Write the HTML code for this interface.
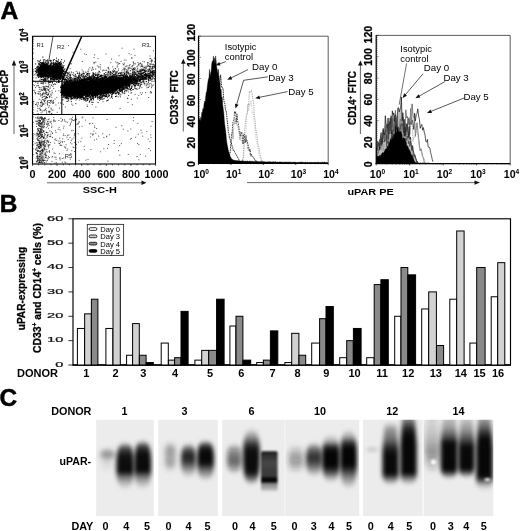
<!DOCTYPE html>
<html lang="en"><head><meta charset="utf-8"><title>uPAR expression figure</title>
<style>html,body{margin:0;padding:0;background:#fff}svg{display:block}text{font-family:'Liberation Sans', Arial, Helvetica, sans-serif}</style>
</head><body>
<svg width="520" height="531" viewBox="0 0 520 531" font-family='"Liberation Sans", Arial, Helvetica, sans-serif'>
<defs>
<filter id="b1" x="-50%" y="-50%" width="200%" height="200%"><feGaussianBlur stdDeviation="1.9"/></filter>
<filter id="b2" x="-50%" y="-50%" width="200%" height="200%"><feGaussianBlur stdDeviation="2.6"/></filter>
<filter id="b3" x="-50%" y="-50%" width="200%" height="200%"><feGaussianBlur stdDeviation="3.6"/></filter>
<filter id="b0" x="-50%" y="-50%" width="200%" height="200%"><feGaussianBlur stdDeviation="0.9"/></filter>
<filter id="soft" x="-5%" y="-5%" width="110%" height="110%"><feGaussianBlur stdDeviation="0.35"/></filter>
</defs>
<rect x="0" y="0" width="520" height="531" fill="#fff"/>
<text x="0.60" y="18.80" font-size="24.4" font-weight="bold" text-anchor="start" fill="#000" stroke="#000" stroke-width=".5" textLength="17.8" lengthAdjust="spacingAndGlyphs">A</text>
<clipPath id="csc"><rect x="32.5" y="36.3" width="123.0" height="127.7"/></clipPath>
<g clip-path="url(#csc)">
<path d="M62.0 86.8 L64.0 84.3 L66.0 83.7 L68.0 83.3 L70.0 83.1 L72.0 82.9 L74.0 82.7 L76.0 82.6 L78.0 82.4 L80.0 82.2 L82.0 82.0 L84.0 81.8 L86.0 81.6 L88.0 81.5 L90.0 81.3 L92.0 81.1 L94.0 80.9 L96.0 80.8 L98.0 80.6 L100.0 80.5 L102.0 80.3 L104.0 80.2 L106.0 80.1 L108.0 79.9 L110.0 79.8 L112.0 79.7 L114.0 79.8 L116.0 79.9 L118.0 80.0 L120.0 80.1 L122.0 80.1 L124.0 80.1 L126.0 80.0 L128.0 79.8 L130.0 79.5 L132.0 79.2 L132.0 82.4 L130.0 83.0 L128.0 83.7 L126.0 84.5 L124.0 85.3 L122.0 86.0 L120.0 86.8 L118.0 87.6 L116.0 88.4 L114.0 89.3 L112.0 90.1 L110.0 90.8 L108.0 91.2 L106.0 91.5 L104.0 91.8 L102.0 92.2 L100.0 92.6 L98.0 92.9 L96.0 93.2 L94.0 93.4 L92.0 93.5 L90.0 93.7 L88.0 93.8 L86.0 94.0 L84.0 94.1 L82.0 94.3 L80.0 94.4 L78.0 94.4 L76.0 94.4 L74.0 94.4 L72.0 94.4 L70.0 94.4 L68.0 94.4 L66.0 94.2 L64.0 93.8 L62.0 91.8Z" fill="#000" filter="url(#b0)"/>
<ellipse cx="43.5" cy="70.5" rx="5.3" ry="6.3" fill="#000" filter="url(#b0)"/>
<ellipse cx="56.5" cy="71.5" rx="5.6" ry="6.9" fill="#000" filter="url(#b0)"/><ellipse cx="50" cy="72" rx="5" ry="5" fill="#000" filter="url(#b0)"/>
<g filter="url(#soft)"><path d="M42.7 72.5h1M42.8 69.3h1M40.5 69.7h1M47.1 72.2h1M46.8 71.5h1M44.8 71.2h1M38.2 73.8h1M45.1 72.4h1M38.1 63.7h1M40.7 68.7h1M44.5 70.3h1M45.2 68.0h1M44.5 72.0h1M41.4 77.2h1M45.3 75.2h1M41.5 67.6h1M42.4 70.1h1M45.5 71.5h1M42.1 66.8h1M41.8 75.3h1M40.9 71.5h1M44.9 64.7h1M43.7 75.6h1M37.1 69.2h1M43.2 67.3h1M45.1 70.3h1M38.8 73.7h1M45.6 74.2h1M48.1 71.9h1M43.9 65.4h1M45.5 68.1h1M42.1 65.6h1M40.4 68.4h1M47.6 62.6h1M38.8 71.4h1M48.1 72.8h1M37.4 60.7h1M44.6 67.6h1M39.9 74.3h1M47.0 71.1h1M44.3 72.2h1M48.6 72.9h1M45.2 72.6h1M38.5 75.5h1M46.6 72.6h1M37.2 68.0h1M46.2 63.4h1M42.9 74.5h1M39.3 76.8h1M45.3 69.9h1M44.5 73.0h1M43.9 75.0h1M41.4 68.9h1M46.8 70.6h1M40.7 74.2h1M48.2 68.8h1M39.1 70.0h1M43.0 69.3h1M48.0 66.5h1M47.5 65.6h1M41.0 73.0h1M47.1 73.9h1M44.6 71.1h1M44.0 72.7h1M42.9 71.6h1M45.3 70.5h1M45.9 72.7h1M49.9 71.8h1M42.1 69.0h1M43.5 74.1h1M42.4 72.0h1M49.4 60.5h1M39.9 71.5h1M44.8 71.4h1M42.1 73.1h1M44.4 68.5h1M51.3 71.9h1M41.7 70.1h1M42.8 70.3h1M34.8 68.6h1M46.7 65.9h1M43.3 74.2h1M46.2 76.3h1M38.1 69.1h1M42.4 72.9h1M47.0 60.0h1M47.0 64.9h1M45.7 64.7h1M44.1 75.2h1M43.0 71.2h1M46.1 71.1h1M43.2 76.5h1M46.9 69.4h1M52.3 66.0h1M46.4 69.5h1M43.9 73.2h1M44.2 73.0h1M38.6 64.6h1M45.5 66.7h1M40.2 64.8h1M47.6 73.4h1M48.2 66.8h1M43.5 66.1h1M46.0 76.7h1M40.7 76.6h1M46.7 69.8h1M37.2 76.0h1M43.2 68.1h1M44.8 72.1h1M48.3 66.5h1M47.1 76.3h1M48.1 69.8h1M41.1 74.5h1M43.9 71.0h1M48.1 69.5h1M36.2 69.0h1M37.6 73.7h1M44.5 68.1h1M43.5 73.7h1M43.8 75.7h1M43.3 74.6h1M48.3 76.8h1M41.4 73.9h1M37.5 66.3h1M37.2 74.7h1M39.6 70.5h1M42.9 70.4h1M41.6 71.4h1M49.2 70.7h1M45.2 74.4h1M42.9 65.6h1M41.7 74.7h1M38.2 68.2h1M46.7 73.6h1M43.5 73.6h1M44.0 65.9h1M38.5 68.0h1M46.5 68.3h1M40.6 67.5h1M38.6 70.0h1M39.7 71.9h1M35.9 71.8h1M41.4 62.9h1M45.8 69.4h1M36.4 67.1h1M44.4 68.7h1M46.0 73.4h1M45.6 71.8h1M47.8 73.1h1M44.9 62.4h1M46.4 75.6h1M42.5 68.7h1M49.7 63.6h1M45.0 80.0h1M40.5 73.2h1M49.5 70.0h1M45.3 74.0h1M40.6 70.2h1M44.4 73.7h1M43.4 69.7h1M40.2 69.1h1M46.4 70.9h1M40.8 67.2h1M52.0 74.9h1M45.5 60.4h1M45.5 72.4h1M48.9 72.2h1M43.3 72.5h1M37.3 74.5h1M44.5 67.8h1M47.7 77.6h1M39.0 67.9h1M44.4 71.2h1M42.2 66.7h1M50.3 74.5h1M39.7 65.3h1M49.0 74.4h1M49.3 73.7h1M40.7 71.5h1M36.6 67.6h1M43.3 72.5h1M41.2 70.0h1M45.0 72.0h1M45.5 71.3h1M42.5 73.6h1M43.7 67.3h1M41.5 70.5h1M43.1 71.1h1M43.5 71.2h1M43.1 65.6h1M44.8 74.6h1M44.9 69.8h1M44.9 66.7h1M37.4 70.7h1M40.5 73.4h1M40.0 60.2h1M40.2 76.7h1M42.3 65.2h1M41.1 72.5h1M45.1 71.2h1M48.2 73.3h1M43.4 72.8h1M48.8 74.3h1M46.8 66.3h1M43.0 73.3h1M42.6 74.7h1M45.4 74.0h1M42.8 80.4h1M47.5 69.7h1M43.8 80.6h1M42.4 73.9h1M46.6 70.5h1M39.8 71.2h1M44.7 74.9h1M46.0 70.6h1M46.2 72.6h1M44.2 70.7h1M42.7 73.2h1M40.1 68.0h1M43.5 64.8h1M42.1 62.7h1M41.3 72.7h1M45.3 70.3h1M42.8 65.0h1M49.3 72.5h1M47.0 67.1h1M42.9 63.4h1M46.0 74.1h1M37.4 70.3h1M45.5 63.6h1M37.7 66.3h1M41.5 65.0h1M43.6 71.5h1M45.5 73.2h1M48.3 75.0h1M39.3 68.5h1M40.1 66.3h1M43.2 70.5h1M45.1 64.3h1M39.5 70.4h1M42.9 69.3h1M43.3 67.5h1M45.7 71.9h1M43.2 67.9h1M42.9 59.9h1M40.4 70.6h1M38.7 71.3h1M44.0 65.1h1M42.7 69.3h1M45.0 72.9h1M43.4 67.2h1M43.0 70.2h1M45.9 71.6h1M41.2 65.2h1M42.3 67.6h1M39.9 70.0h1M41.9 70.9h1M45.2 68.9h1M50.9 69.2h1M47.0 71.0h1M47.1 61.2h1M41.1 71.5h1M45.4 79.6h1M44.5 75.5h1M46.0 74.2h1M45.1 69.9h1M45.1 66.3h1M47.3 66.5h1M44.3 78.8h1M42.8 70.6h1M47.2 70.6h1M40.9 71.5h1M45.4 73.3h1M41.0 77.3h1M48.8 70.6h1M44.4 68.8h1M48.0 67.8h1M45.7 68.6h1M41.3 73.3h1M47.8 70.5h1M41.3 73.7h1M43.3 71.7h1M48.4 74.9h1M41.8 79.4h1M43.5 73.6h1M41.4 70.3h1M37.9 77.5h1M47.9 65.8h1M38.7 64.2h1M47.3 68.7h1M43.3 69.3h1M43.1 66.3h1M43.6 64.9h1M43.3 71.7h1M45.0 69.6h1M40.6 71.1h1M41.9 76.6h1M46.0 70.1h1M42.0 67.8h1M40.5 69.1h1M44.4 72.5h1M45.3 78.7h1M41.2 70.6h1M52.4 63.2h1M41.8 71.2h1M44.0 72.1h1M42.7 71.9h1M43.7 73.5h1M37.4 67.0h1M43.5 66.5h1M40.2 72.9h1M41.4 73.0h1M45.9 71.7h1M45.1 70.1h1M39.0 70.4h1M45.0 68.4h1M43.2 73.4h1M40.7 73.0h1M49.5 68.3h1M44.0 69.9h1M48.4 71.7h1M46.4 67.8h1M43.4 70.5h1M37.8 76.1h1M46.4 63.7h1M45.9 70.0h1M44.9 71.9h1M38.7 69.7h1M48.3 68.3h1M40.2 65.2h1M39.6 71.8h1M48.9 72.2h1M44.3 79.2h1M41.8 67.9h1M45.2 72.6h1M40.3 65.9h1M44.4 71.5h1M39.3 69.7h1M41.8 72.3h1M43.1 70.2h1M42.4 74.6h1M48.0 69.1h1M46.2 67.5h1M43.7 73.4h1M48.3 69.0h1M43.3 71.3h1M38.7 70.6h1M41.3 71.9h1M39.9 62.8h1M43.6 71.5h1M41.7 74.0h1M42.6 68.1h1M45.0 64.4h1M41.3 70.4h1M46.2 69.9h1M44.5 67.9h1M44.5 77.0h1M41.3 79.7h1M41.4 70.6h1M44.1 74.5h1M39.5 62.3h1M45.4 73.6h1M45.5 80.8h1M44.2 71.5h1M46.5 71.9h1M48.8 65.7h1M42.3 57.1h1M46.1 69.0h1M46.5 78.9h1M43.5 69.5h1M41.9 67.2h1M41.5 73.0h1M43.6 70.8h1M42.9 74.1h1M45.1 69.9h1M45.6 69.9h1M39.8 76.2h1M45.0 66.8h1M47.0 71.8h1M38.5 76.8h1M44.6 74.0h1M44.1 69.9h1M38.5 74.3h1M43.6 69.4h1M44.6 70.8h1M45.7 69.1h1M43.4 62.2h1M42.1 73.1h1M47.8 69.1h1M43.1 76.7h1M42.5 73.4h1M48.9 70.7h1M47.4 67.7h1M44.2 70.2h1M43.9 74.9h1M51.1 67.9h1M41.7 72.4h1M40.1 72.4h1M45.3 69.4h1M45.2 64.5h1M45.9 64.5h1M41.3 68.3h1M42.2 73.8h1M43.8 68.9h1M45.2 76.7h1M43.5 71.9h1M47.5 71.5h1M39.4 80.2h1M50.6 62.8h1M43.4 72.1h1M46.6 73.1h1M42.6 66.4h1M43.8 74.5h1M40.0 66.5h1M43.4 62.9h1M42.7 68.8h1M44.9 67.8h1M40.7 69.0h1M43.3 67.9h1M43.5 73.4h1M47.3 77.1h1M41.0 68.9h1M35.6 77.9h1M41.2 70.4h1M45.2 65.2h1M45.0 70.4h1M37.7 71.6h1M47.3 63.2h1M46.1 71.3h1M45.0 72.2h1M47.7 69.6h1M46.3 68.9h1M45.8 67.3h1M43.2 77.3h1M44.9 69.9h1M39.8 67.4h1M44.1 74.2h1M44.9 72.5h1M43.4 75.8h1M42.2 68.4h1M46.3 70.7h1M42.6 68.3h1M42.7 72.9h1M44.6 65.8h1M44.9 71.2h1M40.3 73.5h1M42.6 69.2h1M46.0 75.7h1M41.3 72.2h1M40.7 79.5h1M41.9 75.2h1M41.4 73.7h1M50.6 60.6h1M42.1 72.5h1M43.2 67.9h1M50.4 70.8h1M38.2 73.8h1M38.0 75.0h1M41.7 71.1h1M47.5 71.0h1M39.0 63.9h1M47.3 73.4h1M40.9 73.9h1M45.1 73.0h1M36.3 69.3h1M46.4 73.4h1M46.3 60.9h1M44.0 72.4h1M51.7 66.8h1M42.4 70.6h1M46.3 68.8h1M47.2 67.4h1M44.4 68.4h1M44.0 67.8h1M38.4 74.8h1M44.5 68.3h1M44.1 74.4h1M40.4 70.1h1M45.2 72.6h1M42.4 62.3h1M47.5 71.8h1M43.5 69.4h1M44.3 68.8h1M40.2 67.6h1M41.6 68.1h1M39.8 73.0h1M39.3 73.1h1M40.3 71.9h1M47.9 71.3h1M41.2 70.7h1M44.0 63.7h1M41.6 71.1h1M42.0 70.8h1M45.8 73.5h1M46.4 72.8h1M42.6 70.4h1M42.6 69.3h1M42.9 63.8h1M42.4 70.4h1M40.4 70.4h1M45.1 69.9h1M50.1 60.3h1M42.8 63.4h1M46.6 80.9h1M35.5 71.0h1M45.2 69.3h1M45.3 61.8h1M46.2 72.0h1M43.6 68.2h1M45.5 68.6h1M44.2 68.5h1M36.3 70.4h1M44.1 73.4h1M40.7 70.4h1M45.5 71.1h1M47.5 78.3h1M40.6 63.0h1M46.2 76.5h1M46.5 73.7h1M41.5 67.7h1M46.3 66.9h1M37.7 66.6h1M51.5 78.0h1M41.3 67.7h1M44.2 67.6h1M47.7 70.2h1M40.0 75.6h1M41.6 71.4h1M43.5 69.3h1M44.5 67.8h1M37.6 61.9h1M39.4 67.5h1M43.4 70.7h1M45.3 71.0h1M41.0 67.7h1M36.7 69.8h1M45.1 72.6h1M43.1 69.8h1M46.5 70.6h1M45.9 72.8h1M44.2 75.6h1M41.7 69.1h1M40.9 67.4h1M48.5 77.4h1M43.6 72.7h1M47.3 73.6h1M47.4 65.6h1M41.5 72.3h1M48.1 70.9h1M40.8 69.1h1M41.4 67.2h1M48.3 68.1h1M43.6 78.9h1M47.3 71.8h1M41.5 72.1h1M48.7 72.9h1M47.5 70.9h1M45.2 69.7h1M44.9 75.6h1M38.9 70.3h1M44.3 68.3h1M42.5 73.6h1M49.9 73.0h1M44.5 64.4h1M49.7 70.8h1M43.4 66.1h1M43.3 66.2h1M43.7 72.3h1M43.6 71.6h1M40.8 76.1h1M41.4 63.4h1M42.9 67.5h1M40.3 69.1h1M44.4 65.9h1M43.1 76.1h1M45.7 69.9h1M43.9 70.0h1M43.3 73.4h1M43.2 61.1h1M43.4 67.0h1M45.6 68.1h1M44.0 79.0h1M40.1 66.1h1M39.0 61.2h1M37.5 71.9h1M41.5 63.2h1M38.8 72.9h1M41.0 69.1h1M44.6 75.8h1M49.7 74.5h1M44.0 71.2h1M49.3 76.1h1M42.5 72.3h1M44.4 70.7h1M41.9 65.3h1M41.8 64.5h1M47.4 72.6h1M39.6 75.9h1M46.4 63.1h1M49.4 73.7h1M50.1 65.7h1M45.2 72.2h1M44.1 71.2h1M46.9 64.7h1M39.5 65.1h1M41.7 68.1h1M44.7 71.5h1M43.6 67.9h1M42.1 74.2h1M45.9 70.9h1M42.5 76.6h1M41.6 73.0h1M47.2 69.5h1M46.1 66.1h1M46.7 71.3h1M38.4 73.1h1M40.6 75.5h1M41.3 69.9h1M44.4 69.2h1M44.3 68.3h1M45.6 70.5h1M44.2 59.8h1M47.2 70.6h1M37.8 70.9h1M45.0 74.7h1M40.0 76.5h1M43.0 79.8h1M43.0 73.2h1M42.3 66.1h1M47.0 74.0h1M48.4 73.8h1M41.7 64.0h1M41.4 67.9h1M40.9 72.8h1M44.5 69.4h1M44.1 69.9h1M44.2 73.4h1M46.6 67.8h1M38.7 76.1h1M43.9 74.8h1M38.2 69.2h1M43.6 64.9h1M41.8 73.3h1M47.0 76.7h1M40.7 65.0h1M45.2 74.2h1M44.1 65.4h1M46.0 73.6h1M45.3 68.6h1M44.5 73.6h1M41.7 63.3h1M44.6 72.4h1M43.5 74.0h1M41.6 70.2h1M42.5 72.7h1M48.6 69.5h1M50.1 76.5h1M46.0 72.8h1M49.2 69.8h1M43.1 66.4h1M45.0 75.7h1M45.2 72.2h1M42.9 71.2h1M38.9 74.6h1M42.2 66.2h1M41.1 67.3h1M46.2 74.6h1M39.2 74.1h1M46.3 68.2h1M38.7 67.6h1M41.5 71.8h1M42.4 62.6h1M44.2 64.5h1M46.4 65.8h1M41.3 67.2h1M41.8 75.6h1M46.2 72.8h1M44.5 64.5h1M41.8 68.3h1M40.4 72.5h1M41.1 67.7h1M40.2 62.5h1M45.4 75.7h1M44.1 66.7h1M34.8 71.2h1M47.4 71.7h1M46.5 76.3h1M47.1 68.8h1M46.9 73.5h1M38.6 68.9h1M38.9 70.1h1M45.4 66.3h1M36.9 75.6h1M44.7 76.2h1M39.3 74.6h1M50.1 78.3h1M42.8 71.5h1M43.0 74.4h1M46.8 70.8h1M39.2 73.4h1M54.9 74.2h1M57.4 78.5h1M60.5 69.6h1M57.7 79.1h1M54.6 73.4h1M60.7 76.9h1M58.3 65.8h1M52.1 72.6h1M57.9 82.5h1M53.5 76.4h1M59.2 64.3h1M53.6 72.2h1M54.8 70.8h1M58.1 68.0h1M58.1 68.8h1M54.6 73.8h1M54.5 72.7h1M62.1 71.6h1M56.0 74.7h1M55.2 76.2h1M52.0 74.2h1M54.7 68.1h1M62.7 67.8h1M62.6 74.3h1M61.6 67.3h1M60.7 77.8h1M56.1 70.9h1M65.1 72.3h1M55.0 68.8h1M58.1 72.9h1M57.1 78.9h1M55.4 73.5h1M61.6 67.2h1M60.1 79.4h1M51.8 66.8h1M52.9 63.6h1M58.1 63.5h1M58.2 77.7h1M50.8 70.1h1M49.8 74.9h1M53.9 70.4h1M56.7 73.8h1M55.3 71.6h1M54.6 72.0h1M52.4 71.8h1M49.7 69.4h1M63.2 71.8h1M52.1 72.6h1M53.1 64.4h1M53.9 74.7h1M57.8 71.1h1M53.3 66.9h1M61.2 72.6h1M53.2 62.4h1M51.7 82.1h1M52.5 71.2h1M57.2 70.8h1M55.5 65.6h1M52.8 78.8h1M53.9 75.1h1M50.6 70.3h1M57.4 76.0h1M52.6 74.1h1M57.9 68.3h1M58.2 67.6h1M53.7 71.4h1M47.0 71.0h1M53.0 65.2h1M55.0 74.8h1M55.1 76.9h1M52.4 65.9h1M61.9 73.2h1M59.8 67.9h1M59.3 72.6h1M58.8 71.6h1M60.7 68.7h1M53.1 65.1h1M60.6 68.3h1M52.8 67.5h1M54.9 66.0h1M55.5 68.8h1M54.6 67.4h1M56.6 69.5h1M56.9 72.6h1M57.7 62.1h1M54.6 68.1h1M59.2 64.7h1M54.0 70.2h1M55.3 75.8h1M55.0 75.6h1M51.4 63.7h1M60.8 73.4h1M58.2 72.0h1M58.2 66.3h1M59.8 69.2h1M59.9 71.9h1M49.6 66.0h1M60.4 70.9h1M55.1 72.5h1M55.0 69.2h1M56.9 72.1h1M61.8 71.7h1M63.1 79.3h1M62.5 76.1h1M57.0 72.1h1M56.0 68.4h1M56.3 68.7h1M62.2 73.8h1M54.9 63.3h1M56.3 69.7h1M52.7 66.6h1M48.6 73.9h1M56.3 82.6h1M56.4 70.9h1M61.6 72.1h1M57.1 69.9h1M54.4 77.9h1M60.0 78.9h1M55.3 71.6h1M53.4 75.7h1M51.6 73.9h1M60.3 77.6h1M53.2 76.2h1M54.0 68.2h1M51.9 76.5h1M62.3 68.9h1M53.8 70.0h1M65.3 75.8h1M54.6 63.8h1M54.1 76.6h1M63.0 70.4h1M54.1 69.3h1M49.9 75.4h1M52.7 76.1h1M50.5 66.0h1M57.5 68.2h1M59.2 71.5h1M52.4 74.2h1M59.4 63.3h1M62.9 73.6h1M59.2 63.5h1M54.0 70.0h1M60.3 65.2h1M53.4 62.8h1M55.7 73.0h1M50.6 69.0h1M58.3 78.3h1M58.8 70.2h1M52.4 67.5h1M54.2 72.1h1M56.3 78.7h1M57.5 66.9h1M61.9 75.6h1M56.9 68.4h1M50.0 67.1h1M59.7 68.0h1M51.9 72.3h1M57.4 74.1h1M58.8 77.6h1M53.6 75.7h1M53.0 74.5h1M57.1 72.5h1M59.9 71.4h1M60.4 75.3h1M57.0 69.1h1M53.9 69.2h1M55.8 71.4h1M66.9 74.2h1M59.2 67.8h1M54.0 70.1h1M57.2 67.0h1M62.1 69.1h1M60.3 61.5h1M56.5 72.7h1M57.2 74.1h1M57.5 72.2h1M49.9 68.4h1M48.3 74.2h1M57.6 70.7h1M53.6 69.0h1M63.0 78.9h1M56.3 77.0h1M50.9 63.2h1M54.8 67.7h1M54.5 72.3h1M67.1 68.7h1M56.7 72.7h1M56.4 75.5h1M62.7 66.2h1M57.1 70.4h1M57.7 64.9h1M50.3 61.5h1M58.3 72.3h1M56.8 61.3h1M55.2 68.3h1M51.6 67.6h1M58.9 73.8h1M56.4 73.7h1M54.4 71.8h1M56.6 73.9h1M56.3 70.9h1M56.0 68.7h1M64.3 73.7h1M58.0 81.4h1M61.4 64.8h1M58.9 75.1h1M63.1 77.2h1M59.2 66.4h1M53.5 72.7h1M58.3 67.1h1M55.2 69.8h1M56.7 72.9h1M55.5 66.2h1M60.8 78.4h1M56.1 75.9h1M58.1 74.3h1M58.2 68.2h1M58.5 75.8h1M53.4 80.0h1M63.8 79.3h1M63.5 74.7h1M55.3 68.9h1M53.7 72.0h1M56.4 74.4h1M49.4 81.4h1M64.5 71.4h1M58.9 73.5h1M57.5 70.6h1M56.1 68.0h1M57.1 71.4h1M57.6 67.8h1M56.6 71.7h1M58.6 66.9h1M58.0 75.7h1M58.6 69.9h1M54.8 70.5h1M59.1 78.2h1M55.9 68.7h1M57.8 72.4h1M53.3 68.3h1M56.1 74.4h1M52.3 67.1h1M58.2 66.2h1M56.9 73.0h1M56.1 67.1h1M56.3 70.1h1M57.7 67.9h1M60.3 64.3h1M55.9 71.5h1M59.9 68.9h1M58.4 69.1h1M59.1 79.0h1M55.1 73.4h1M53.3 75.7h1M60.7 71.7h1M52.5 73.2h1M60.5 76.2h1M59.3 63.6h1M54.1 77.6h1M52.2 76.4h1M63.1 74.8h1M60.4 70.1h1M52.2 71.1h1M55.8 71.3h1M58.9 70.9h1M57.2 73.3h1M56.5 79.4h1M58.0 71.9h1M55.8 68.8h1M61.2 72.1h1M52.7 69.1h1M56.0 69.6h1M60.3 66.5h1M58.2 72.1h1M52.4 71.7h1M56.2 73.7h1M54.9 72.8h1M50.7 66.8h1M59.2 76.0h1M56.5 68.9h1M60.3 62.5h1M53.7 74.4h1M58.8 67.1h1M49.9 77.7h1M57.0 67.6h1M56.7 75.4h1M47.4 76.3h1M59.1 62.6h1M59.2 63.8h1M60.5 73.2h1M64.4 68.9h1M56.5 76.0h1M54.3 68.5h1M55.2 71.2h1M52.7 73.6h1M58.4 71.8h1M62.5 70.1h1M61.1 69.1h1M59.1 63.2h1M57.2 70.7h1M54.8 68.9h1M55.3 68.4h1M48.8 68.9h1M54.6 69.2h1M52.8 70.9h1M59.2 70.4h1M54.8 77.3h1M59.9 75.5h1M60.5 70.1h1M56.0 76.3h1M54.6 71.0h1M57.8 73.1h1M55.5 75.7h1M55.9 74.6h1M60.2 74.3h1M59.1 66.5h1M51.9 68.8h1M58.2 78.0h1M52.2 72.8h1M53.5 68.4h1M55.5 74.5h1M57.2 76.6h1M53.1 75.3h1M59.8 71.8h1M58.2 69.1h1M52.7 69.8h1M54.3 83.9h1M54.8 78.6h1M57.2 72.8h1M59.1 68.2h1M59.7 73.1h1M51.2 74.1h1M58.4 73.4h1M62.0 69.7h1M58.3 74.7h1M53.3 76.7h1M51.4 65.9h1M58.3 66.8h1M56.1 64.4h1M56.7 66.6h1M57.7 64.9h1M58.1 70.4h1M56.7 71.2h1M57.0 65.8h1M47.5 71.6h1M53.2 69.5h1M58.0 63.0h1M53.8 68.9h1M52.8 72.9h1M56.0 68.0h1M53.1 75.0h1M54.2 74.0h1M58.1 63.4h1M52.7 71.5h1M57.7 74.9h1M59.3 75.9h1M55.2 70.6h1M59.2 69.7h1M60.2 64.7h1M58.8 70.8h1M49.6 75.7h1M57.6 71.6h1M52.7 69.5h1M61.8 67.9h1M44.3 67.8h1M52.3 70.9h1M55.1 67.6h1M53.6 76.0h1M51.5 79.9h1M54.6 66.8h1M59.3 73.9h1M52.9 74.7h1M50.1 67.5h1M60.4 70.4h1M51.9 73.7h1M59.7 71.4h1M50.2 70.0h1M58.0 74.8h1M63.0 70.4h1M54.8 71.3h1M60.7 67.5h1M61.1 59.7h1M59.3 68.6h1M58.1 74.5h1M52.4 71.1h1M57.3 74.0h1M53.2 67.2h1M49.8 82.4h1M55.8 70.5h1M51.3 75.5h1M54.6 77.7h1M59.5 71.6h1M59.0 66.7h1M55.4 69.0h1M52.1 71.6h1M56.0 77.7h1M44.8 68.6h1M53.3 69.5h1M58.0 73.2h1M56.6 69.5h1M58.2 73.0h1M50.1 70.4h1M51.7 66.4h1M57.0 71.8h1M56.9 67.7h1M55.8 67.6h1M57.8 74.5h1M62.6 76.9h1M53.7 69.5h1M53.2 72.8h1M63.4 74.5h1M48.8 66.1h1M52.0 73.7h1M56.5 72.8h1M62.7 67.9h1M53.5 80.0h1M57.7 68.2h1M49.4 64.9h1M47.9 71.8h1M56.7 75.8h1M56.0 68.5h1M53.9 79.7h1M50.3 72.2h1M56.6 74.2h1M55.1 73.6h1M59.4 70.9h1M54.9 70.7h1M53.1 70.6h1M55.4 72.4h1M61.2 77.1h1M54.9 74.1h1M57.5 74.8h1M56.6 72.6h1M54.9 68.1h1M59.6 77.1h1M58.8 73.4h1M57.4 69.6h1M50.3 74.4h1M57.2 69.1h1M53.1 77.0h1M50.2 79.1h1M58.7 81.7h1M54.0 71.4h1M54.7 72.2h1M55.8 68.3h1M60.3 68.1h1M54.7 73.9h1M54.6 69.6h1M57.7 69.9h1M52.1 71.1h1M55.7 78.8h1M52.7 75.7h1M53.7 70.0h1M55.4 72.7h1M59.5 79.0h1M54.3 77.2h1M60.0 75.0h1M53.8 75.4h1M56.1 73.0h1M55.6 74.4h1M60.4 76.4h1M55.8 75.8h1M61.6 67.5h1M61.7 65.8h1M58.4 74.1h1M61.7 72.7h1M54.8 68.1h1M52.1 74.8h1M55.7 68.4h1M58.4 68.2h1M55.0 69.5h1M62.3 77.8h1M55.9 64.7h1M57.5 71.8h1M57.7 73.9h1M55.4 75.5h1M59.4 72.4h1M55.1 69.4h1M58.9 66.8h1M55.9 68.3h1M51.6 74.1h1M56.4 71.7h1M59.6 65.1h1M56.3 72.7h1M59.4 66.8h1M59.0 72.4h1M61.2 76.4h1M58.4 80.7h1M56.5 69.7h1M55.3 67.5h1M56.4 63.4h1M56.2 73.3h1M60.0 70.0h1M61.4 68.7h1M56.0 63.4h1M53.8 68.1h1M61.6 73.7h1M52.7 73.7h1M58.1 70.5h1M56.6 70.2h1M54.6 64.1h1M56.2 76.9h1M61.4 70.3h1M53.9 70.6h1M59.6 73.0h1M54.5 73.0h1M55.8 73.7h1M55.1 65.3h1M56.7 74.7h1M52.7 71.0h1M59.5 69.9h1M54.3 80.0h1M59.3 75.8h1M53.3 78.3h1M50.9 69.3h1M59.0 77.1h1M53.3 68.7h1M57.2 63.4h1M58.7 73.8h1M55.0 73.7h1M59.1 72.8h1M58.3 77.8h1M54.9 72.2h1M54.7 75.8h1M55.1 73.5h1M57.0 71.8h1M62.3 71.1h1M61.3 74.9h1M61.0 70.8h1M59.6 74.6h1M54.4 72.6h1M56.1 71.4h1M60.9 68.5h1M50.8 64.3h1M55.0 68.8h1M56.5 73.8h1M62.4 72.8h1M58.1 68.5h1M58.5 77.1h1M61.0 63.4h1M59.5 78.1h1M59.3 65.3h1M55.5 73.9h1M57.9 68.1h1M53.5 75.5h1M52.0 77.4h1M56.6 72.7h1M52.0 69.0h1M58.8 65.4h1M63.5 65.7h1M52.4 71.7h1M58.1 74.5h1M55.3 70.6h1M55.7 69.1h1M47.8 75.5h1M57.3 72.2h1M54.4 72.5h1M56.5 71.2h1M60.2 64.4h1M57.3 67.1h1M55.4 77.7h1M52.9 71.1h1M54.5 75.4h1M53.2 64.5h1M58.2 70.0h1M55.4 76.0h1M53.5 70.0h1M57.0 73.2h1M54.8 75.8h1M64.0 69.8h1M62.8 62.8h1M61.2 70.1h1M57.0 70.1h1M54.4 66.2h1M55.2 76.9h1M60.3 70.1h1M54.7 68.6h1M52.5 78.9h1M58.7 72.0h1M54.8 67.3h1M60.9 74.7h1M53.3 75.6h1M52.8 74.2h1M53.3 69.8h1M58.2 73.3h1M59.9 68.0h1M61.8 77.1h1M56.5 73.4h1M53.9 70.9h1M52.1 71.9h1M57.2 77.0h1M59.7 74.9h1M55.3 70.6h1M55.4 72.4h1M50.0 74.7h1M51.2 69.4h1M56.6 69.4h1M62.1 71.1h1M61.8 76.3h1M54.8 73.2h1M60.9 70.1h1M56.8 69.2h1M56.7 70.0h1M56.8 75.6h1M61.2 72.0h1M57.2 75.0h1M55.5 67.1h1M60.2 67.6h1M59.6 67.5h1M62.7 67.2h1M59.4 77.7h1M53.3 77.6h1M53.7 64.2h1M58.9 74.4h1M55.8 61.1h1M56.3 70.2h1M55.2 70.3h1M50.5 69.2h1M62.5 77.9h1M55.3 68.6h1M57.8 75.9h1M58.9 66.7h1M57.0 72.1h1M61.3 76.4h1M58.3 76.5h1M55.2 77.8h1M55.1 73.1h1M59.6 67.7h1M54.1 64.2h1M57.1 71.3h1M55.4 73.6h1M49.4 71.4h1M56.8 70.4h1M59.2 78.7h1M55.0 67.6h1M54.5 71.9h1M58.5 67.9h1M59.9 67.3h1M59.3 73.3h1M58.1 80.4h1M55.6 70.8h1M58.1 75.1h1M52.0 72.6h1M54.0 74.1h1M61.1 71.7h1M56.1 72.3h1M46.6 74.7h1M58.4 72.2h1M55.2 68.5h1M55.9 76.5h1M56.2 77.1h1M47.9 69.6h1M57.4 71.4h1M50.9 68.8h1M60.7 66.2h1M53.2 67.0h1M54.6 74.2h1M58.5 63.1h1M61.4 69.1h1M54.5 78.4h1M56.2 66.4h1M54.4 68.5h1M53.1 70.1h1M59.4 72.9h1M51.9 83.0h1M53.2 72.0h1M56.6 74.6h1M55.4 73.4h1M63.6 71.9h1M52.9 72.9h1M53.8 70.0h1M57.1 72.9h1M55.5 75.0h1M55.9 66.1h1M59.4 70.0h1M60.6 68.8h1M58.4 72.8h1M47.4 65.3h1M52.7 77.3h1M50.2 75.3h1M60.2 73.5h1M58.8 69.5h1M56.5 72.4h1M57.9 74.4h1M55.8 68.6h1M54.6 73.2h1M50.9 66.3h1M55.1 69.2h1M55.6 60.5h1M55.4 70.5h1M59.1 63.3h1M55.5 73.5h1M58.1 76.4h1M60.0 67.2h1M58.6 70.1h1M53.8 77.8h1M54.4 68.0h1M55.1 68.0h1M59.9 73.1h1M61.2 73.2h1M54.4 75.8h1M54.3 69.6h1M55.9 71.7h1M60.5 69.0h1M57.7 71.4h1M52.3 67.0h1M55.8 73.2h1M57.6 73.5h1M56.7 69.6h1M57.9 67.3h1M52.0 70.1h1M51.7 69.4h1M54.0 69.2h1M56.3 68.2h1M55.1 64.4h1M57.0 67.9h1M57.9 59.8h1M53.8 72.5h1M48.3 70.0h1M56.8 71.9h1M51.5 72.5h1M57.0 67.5h1M59.0 71.3h1M56.6 69.6h1M58.3 71.9h1M60.3 73.4h1M54.4 70.6h1M59.6 70.0h1M57.8 73.7h1M55.9 61.8h1M56.9 72.4h1M57.0 68.3h1M60.6 70.9h1M54.4 68.5h1M57.7 67.0h1M53.1 79.8h1M60.9 75.9h1M61.1 74.0h1M50.8 76.5h1M60.7 73.5h1M49.9 76.7h1M61.1 69.5h1M56.9 74.7h1M56.2 76.1h1M56.8 74.4h1M56.8 65.3h1M53.1 84.7h1M57.4 77.0h1M60.4 78.6h1M58.4 69.0h1M56.6 63.5h1M55.9 75.3h1M49.2 72.3h1M59.3 77.0h1M53.4 68.8h1M50.1 67.2h1M58.3 80.1h1M52.6 77.3h1M58.0 69.4h1M64.0 61.0h1M56.3 72.4h1M63.7 79.0h1M64.2 72.1h1M59.8 77.2h1M58.2 73.0h1M55.9 69.8h1M52.3 79.6h1M55.0 62.8h1M57.4 71.4h1M57.1 79.1h1M56.1 70.4h1M54.0 71.4h1M55.0 72.4h1M67.1 73.1h1M53.6 79.6h1M59.4 74.9h1M58.9 74.9h1M58.8 77.4h1M59.9 77.1h1M54.8 71.5h1M54.0 75.5h1M59.3 69.6h1M58.5 82.5h1M60.7 66.8h1M56.2 74.2h1M56.4 73.1h1M60.5 72.9h1M52.8 74.5h1M56.2 72.0h1M54.6 65.7h1M52.3 70.0h1M52.9 60.1h1M60.4 66.6h1M54.0 73.7h1M48.3 77.1h1M53.9 74.3h1M54.9 72.8h1M56.9 71.5h1M50.3 65.3h1M56.4 77.4h1M46.3 74.1h1M51.1 73.9h1M56.8 64.2h1M51.9 70.6h1M47.9 67.3h1M44.6 66.5h1M42.5 83.7h1M61.6 71.5h1M55.1 66.7h1M51.0 78.5h1M49.7 66.6h1M48.4 66.6h1M40.5 70.4h1M47.3 67.5h1M44.0 67.0h1M51.6 78.3h1M48.6 82.4h1M39.0 72.8h1M42.1 70.7h1M50.7 74.2h1M57.7 68.8h1M41.5 70.6h1M52.0 68.1h1M56.1 79.7h1M40.3 73.3h1M56.9 62.1h1M51.4 70.4h1M40.3 77.9h1M51.5 69.2h1M53.0 74.6h1M55.2 74.3h1M52.8 65.8h1M47.1 72.1h1M47.4 66.4h1M37.6 72.7h1M50.2 68.7h1M47.2 67.2h1M44.9 71.0h1M45.6 74.8h1M49.0 72.1h1M52.8 77.7h1M54.1 72.6h1M48.9 67.6h1M47.7 74.8h1M51.5 69.6h1M40.9 64.0h1M52.2 76.5h1M52.6 64.8h1M48.5 72.6h1M43.7 73.2h1M48.6 67.4h1M41.5 75.5h1M52.4 67.2h1M43.1 75.8h1M54.1 70.0h1M60.9 70.1h1M42.8 76.8h1M48.7 73.2h1M50.3 66.6h1M41.9 70.6h1M59.6 66.6h1M59.3 72.6h1M42.4 72.8h1M53.9 67.1h1M35.5 73.2h1M42.4 73.6h1M37.0 70.8h1M44.5 64.3h1M48.4 72.3h1M46.2 65.8h1M51.4 63.0h1M53.6 73.9h1M61.4 75.8h1M52.4 72.8h1M50.2 65.1h1M60.0 74.1h1M48.1 65.9h1M60.1 74.1h1M41.9 74.8h1M62.9 71.4h1M52.7 69.5h1M45.7 76.7h1M70.9 72.1h1M49.2 75.4h1M47.9 75.0h1M55.6 66.6h1M42.7 71.1h1M55.7 72.8h1M58.4 64.8h1M53.4 68.5h1M50.7 73.1h1M43.4 70.4h1M42.1 72.8h1M44.2 69.1h1M51.5 68.3h1M57.8 68.4h1M55.8 72.9h1M43.0 70.4h1M44.3 69.7h1M48.2 80.3h1M47.2 79.1h1M53.0 65.2h1M34.3 74.8h1M36.5 75.0h1M57.0 73.4h1M48.6 70.3h1M51.8 70.0h1M46.4 69.7h1M57.9 68.5h1M52.6 65.9h1M45.2 64.8h1M48.7 74.8h1M52.1 69.1h1M54.1 69.8h1M52.5 72.8h1M53.7 59.5h1M41.2 75.2h1M49.3 82.4h1M48.4 68.8h1M60.1 74.2h1M62.9 74.0h1M48.6 75.0h1M44.7 69.3h1M46.2 70.4h1M55.3 69.2h1M52.2 69.1h1M56.0 58.2h1M48.6 72.3h1M42.7 76.4h1M51.5 77.7h1M56.5 74.6h1M49.0 66.2h1M48.5 69.3h1M51.7 69.3h1M70.7 63.8h1M57.9 69.2h1M48.4 76.0h1M50.0 65.6h1M52.8 70.6h1M36.1 72.5h1M42.9 67.9h1M53.3 72.9h1M48.0 82.0h1M52.8 68.5h1M51.6 70.9h1M35.1 63.9h1M40.6 81.5h1M48.8 70.2h1M46.2 76.2h1M50.2 79.7h1M55.3 79.4h1M49.2 73.3h1M47.1 70.7h1M38.3 68.7h1M43.6 68.4h1M58.2 72.8h1M58.3 75.6h1M56.2 76.3h1M45.9 75.4h1M47.8 68.9h1M58.1 81.9h1M43.4 79.9h1M55.6 67.4h1M51.8 73.3h1M52.5 69.8h1M41.3 71.7h1M55.8 75.3h1M54.5 76.8h1M43.3 71.3h1M52.3 76.3h1M51.1 74.0h1M50.9 81.6h1M35.3 71.4h1M66.7 72.6h1M37.6 72.1h1M40.3 68.2h1M51.5 79.8h1M53.1 74.7h1M56.9 72.5h1M44.2 71.0h1M52.3 70.2h1M45.5 69.8h1M39.9 66.6h1M49.4 69.8h1M50.3 78.3h1M52.0 71.3h1M42.1 66.3h1M52.5 67.3h1M52.9 66.3h1M50.9 71.1h1M56.7 69.6h1M47.5 72.7h1M50.4 79.6h1M48.3 68.9h1M47.8 73.8h1M51.6 74.8h1M40.7 83.4h1M62.4 71.3h1M41.9 72.2h1M52.8 60.8h1M50.1 64.4h1M53.1 78.1h1M57.0 64.3h1M59.3 75.9h1M47.6 73.9h1M60.2 69.9h1M49.9 68.8h1M57.8 61.1h1M59.6 66.8h1M56.2 63.7h1M43.7 68.6h1M55.6 63.7h1M54.1 68.4h1M58.4 70.0h1M53.3 70.7h1M62.1 69.8h1M49.8 81.0h1M50.5 74.8h1M104.4 75.9h1M98.0 87.3h1M99.4 81.3h1M92.9 79.5h1M61.6 90.6h1M118.7 79.9h1M92.5 81.5h1M120.1 89.2h1M68.5 87.4h1M71.7 84.0h1M64.0 90.3h1M81.7 91.7h1M98.3 92.3h1M111.1 83.7h1M77.0 80.1h1M84.3 90.5h1M69.8 92.3h1M96.5 82.4h1M67.4 78.5h1M95.1 91.4h1M121.3 77.7h1M95.3 86.0h1M65.5 86.8h1M103.4 80.6h1M132.7 79.8h1M74.0 90.8h1M115.9 79.0h1M122.2 86.8h1M112.8 90.8h1M96.9 85.9h1M86.9 79.5h1M73.6 84.6h1M131.6 80.4h1M88.9 89.1h1M78.2 91.4h1M91.1 86.3h1M70.5 85.2h1M79.8 91.3h1M103.7 80.8h1M90.5 80.9h1M114.2 84.6h1M95.2 83.1h1M111.3 82.8h1M134.8 78.2h1M94.3 86.8h1M66.8 92.2h1M100.0 89.7h1M93.1 90.0h1M78.0 82.7h1M73.0 87.5h1M66.4 80.6h1M99.2 86.5h1M86.6 90.0h1M74.7 79.8h1M72.7 86.8h1M86.7 81.2h1M86.5 88.1h1M127.8 83.3h1M73.5 93.3h1M70.7 90.5h1M121.1 80.9h1M81.1 93.8h1M80.3 90.5h1M62.8 85.2h1M101.1 81.1h1M116.7 79.4h1M109.7 86.7h1M106.4 79.1h1M93.1 89.4h1M99.1 89.4h1M110.1 92.0h1M79.2 89.6h1M114.3 87.6h1M66.1 97.3h1M85.6 88.7h1M75.9 92.5h1M64.3 88.9h1M94.5 89.0h1M69.9 84.1h1M74.9 74.4h1M106.2 88.3h1M72.4 83.6h1M80.3 86.0h1M73.0 90.0h1M96.8 93.3h1M105.0 90.3h1M66.9 85.4h1M107.0 86.6h1M70.1 92.0h1M72.2 82.8h1M102.6 87.9h1M130.3 77.8h1M83.3 88.9h1M73.8 87.2h1M83.1 87.0h1M82.2 90.3h1M63.7 82.4h1M63.7 89.6h1M81.3 99.5h1M74.9 88.6h1M78.1 86.1h1M75.8 95.1h1M108.7 90.3h1M67.5 85.4h1M98.5 85.6h1M132.3 83.6h1M104.4 78.5h1M123.1 81.3h1M94.2 88.2h1M142.3 76.2h1M134.0 82.4h1M134.6 81.6h1M110.5 86.2h1M99.5 80.1h1M129.5 75.3h1M101.8 91.1h1M102.8 96.3h1M84.5 85.4h1M69.2 92.0h1M84.2 91.5h1M91.9 87.8h1M70.2 86.3h1M95.6 93.5h1M111.5 75.2h1M99.5 83.8h1M68.7 86.6h1M61.3 95.8h1M77.1 85.6h1M84.1 81.0h1M80.3 95.1h1M89.5 85.9h1M66.5 87.4h1M70.9 90.6h1M86.5 88.8h1M89.4 89.6h1M130.6 83.9h1M140.7 77.4h1M125.1 84.8h1M124.1 82.8h1M73.9 93.1h1M81.7 87.6h1M72.6 83.8h1M73.4 94.2h1M84.4 85.6h1M84.1 87.6h1M87.7 88.0h1M78.8 84.9h1M97.3 83.3h1M144.4 74.6h1M82.8 85.8h1M104.6 86.8h1M69.1 86.1h1M82.4 88.5h1M71.5 85.4h1M66.9 92.7h1M143.2 81.3h1M83.3 86.0h1M68.1 93.2h1M130.9 79.3h1M103.9 87.9h1M95.0 94.2h1M77.5 85.1h1M62.4 85.9h1M82.7 82.4h1M74.1 84.4h1M82.0 89.8h1M81.0 87.0h1M102.6 89.0h1M99.0 94.2h1M82.6 76.2h1M120.3 82.7h1M81.9 86.0h1M93.3 91.8h1M62.2 92.6h1M85.0 95.8h1M114.5 86.4h1M71.7 91.3h1M74.5 82.4h1M146.0 76.3h1M82.7 83.4h1M99.7 83.8h1M70.1 87.8h1M100.7 90.3h1M71.3 85.4h1M67.4 84.0h1M115.3 83.2h1M82.9 84.5h1M110.8 91.6h1M120.6 86.1h1M122.8 89.1h1M82.6 85.9h1M99.7 89.4h1M72.4 86.7h1M80.8 90.8h1M99.4 87.2h1M67.5 94.3h1M94.5 84.8h1M102.4 85.3h1M125.6 82.4h1M95.9 88.0h1M79.0 79.2h1M89.2 90.5h1M117.1 79.1h1M66.8 92.0h1M85.7 94.6h1M92.5 94.9h1M91.1 83.6h1M65.3 89.4h1M75.8 83.3h1M85.5 82.5h1M107.7 90.8h1M65.0 86.8h1M129.6 83.2h1M69.1 81.1h1M78.6 91.2h1M82.4 79.9h1M73.4 86.7h1M121.5 82.3h1M85.1 80.1h1M81.4 86.6h1M79.8 86.3h1M75.3 85.4h1M90.6 93.8h1M68.6 90.9h1M109.8 93.5h1M104.8 82.0h1M71.6 84.4h1M135.2 79.6h1M66.8 85.6h1M124.8 82.8h1M90.9 85.4h1M96.1 78.7h1M120.0 78.2h1M87.0 89.7h1M72.5 85.8h1M66.6 86.4h1M68.3 98.4h1M65.0 94.7h1M134.5 81.2h1M75.9 89.6h1M76.8 84.6h1M72.0 90.6h1M85.2 96.2h1M105.9 79.6h1M118.6 77.7h1M131.2 82.1h1M78.8 95.3h1M92.9 92.9h1M84.8 90.7h1M76.8 88.3h1M93.1 79.2h1M85.8 92.3h1M96.3 85.2h1M82.0 89.8h1M99.8 92.7h1M83.7 82.6h1M123.6 83.8h1M112.3 82.9h1M64.7 84.9h1M92.9 85.6h1M80.8 88.2h1M91.7 89.6h1M66.9 88.8h1M104.8 82.9h1M90.1 91.9h1M90.2 84.0h1M115.6 77.7h1M110.3 80.9h1M100.4 84.8h1M95.1 84.1h1M72.1 94.7h1M101.9 87.7h1M101.6 77.6h1M81.6 86.8h1M102.0 83.5h1M79.6 77.4h1M91.9 89.8h1M108.5 90.7h1M73.9 94.6h1M95.1 87.1h1M80.1 77.8h1M114.3 84.4h1M101.1 86.2h1M100.8 90.3h1M105.4 90.0h1M83.0 88.2h1M110.1 77.7h1M79.6 81.9h1M86.4 89.2h1M68.4 88.2h1M73.8 78.2h1M92.6 74.0h1M83.8 90.7h1M120.0 86.8h1M75.7 91.2h1M90.6 89.1h1M77.8 76.4h1M105.7 90.4h1M117.4 84.7h1M99.1 88.3h1M101.2 84.6h1M74.8 84.2h1M115.5 88.1h1M94.4 80.6h1M102.0 79.7h1M74.1 86.3h1M93.0 82.4h1M77.7 86.9h1M62.6 85.2h1M95.3 87.8h1M93.9 93.6h1M106.3 83.0h1M97.6 87.7h1M95.9 83.2h1M95.2 83.2h1M92.2 86.3h1M75.5 91.6h1M65.8 89.3h1M74.2 92.0h1M68.7 90.1h1M102.1 86.1h1M97.4 77.1h1M63.7 89.7h1M70.9 89.4h1M77.5 82.5h1M95.0 75.4h1M102.1 86.2h1M128.5 84.1h1M77.5 83.8h1M65.7 94.4h1M126.0 76.5h1M115.8 86.9h1M92.7 96.5h1M73.8 85.4h1M97.2 95.8h1M100.2 86.7h1M99.7 97.3h1M119.7 81.1h1M96.5 94.2h1M90.9 82.4h1M85.4 93.2h1M107.4 93.1h1M149.5 80.2h1M74.5 85.2h1M116.9 85.6h1M135.4 79.4h1M86.8 91.4h1M69.5 85.3h1M130.0 79.7h1M95.9 83.7h1M101.4 89.2h1M104.3 78.7h1M98.9 84.2h1M132.7 80.9h1M125.9 86.6h1M131.8 80.5h1M121.8 83.1h1M63.2 95.9h1M68.4 89.8h1M105.1 85.1h1M93.3 88.3h1M139.0 80.6h1M78.0 86.9h1M69.5 91.1h1M104.9 96.1h1M75.6 86.0h1M113.7 85.7h1M105.6 88.0h1M86.0 79.9h1M117.2 81.7h1M73.6 93.1h1M113.1 83.9h1M62.8 91.3h1M95.1 89.9h1M95.0 83.0h1M83.7 100.3h1M66.2 86.2h1M109.2 84.4h1M129.2 84.9h1M115.1 85.7h1M100.3 78.9h1M61.3 86.4h1M77.4 97.4h1M85.9 94.6h1M110.0 89.7h1M127.7 81.1h1M70.7 88.4h1M95.3 89.9h1M123.4 82.1h1M94.8 80.8h1M84.7 89.4h1M75.5 90.8h1M115.7 79.9h1M61.5 91.4h1M101.0 86.5h1M69.0 85.5h1M97.6 87.1h1M103.9 82.7h1M77.5 92.2h1M68.6 90.8h1M101.1 75.2h1M83.7 87.1h1M89.6 94.1h1M101.6 82.3h1M64.4 92.3h1M75.2 82.9h1M65.7 88.0h1M109.5 87.1h1M124.1 82.9h1M81.6 87.9h1M79.2 82.4h1M92.5 72.6h1M125.1 78.1h1M101.8 90.5h1M66.8 98.7h1M69.7 88.2h1M107.4 83.1h1M105.9 81.1h1M106.9 82.9h1M64.4 83.5h1M137.7 78.9h1M93.8 88.7h1M95.6 84.7h1M102.5 99.1h1M68.9 93.0h1M75.1 83.5h1M129.5 77.7h1M60.4 92.2h1M94.3 91.5h1M79.1 88.2h1M106.8 81.9h1M117.0 87.4h1M86.9 82.6h1M124.4 82.5h1M111.6 85.8h1M84.1 80.3h1M109.6 84.2h1M106.8 90.1h1M80.7 85.6h1M94.9 90.4h1M131.1 81.6h1M86.5 96.4h1M95.0 93.0h1M92.7 85.8h1M107.3 85.0h1M102.6 91.6h1M90.5 88.6h1M87.3 90.4h1M101.4 87.0h1M71.6 84.3h1M102.6 83.2h1M62.0 87.9h1M96.8 81.1h1M92.3 93.4h1M120.6 88.9h1M119.3 84.3h1M79.4 91.3h1M116.8 82.5h1M91.2 84.1h1M118.4 88.7h1M71.9 86.9h1M95.2 91.9h1M71.3 89.3h1M83.6 97.7h1M96.6 89.5h1M86.1 79.2h1M65.3 89.8h1M113.2 90.5h1M137.6 79.1h1M102.7 94.0h1M68.8 88.9h1M69.1 89.1h1M95.8 82.9h1M109.5 85.2h1M96.1 89.6h1M94.7 97.0h1M119.6 83.2h1M71.1 90.6h1M111.6 81.1h1M92.8 95.7h1M99.0 82.9h1M103.3 80.2h1M82.6 79.1h1M96.4 89.5h1M62.8 94.4h1M105.8 84.1h1M76.8 87.2h1M122.5 80.3h1M119.5 80.2h1M113.4 84.4h1M106.9 88.3h1M115.4 86.9h1M102.9 79.0h1M95.3 83.7h1M123.3 82.1h1M102.7 85.4h1M62.5 90.5h1M120.5 83.9h1M75.5 86.6h1M131.0 88.5h1M68.9 83.0h1M79.1 86.2h1M87.3 89.5h1M81.7 84.9h1M109.5 92.7h1M94.6 88.5h1M93.7 84.4h1M110.9 81.4h1M109.2 87.7h1M94.3 94.7h1M69.2 85.4h1M96.6 82.6h1M81.1 97.0h1M84.6 88.0h1M113.6 83.1h1M102.4 84.5h1M69.8 86.2h1M81.5 88.0h1M97.6 89.4h1M78.4 94.2h1M112.2 76.8h1M79.3 88.1h1M112.2 85.6h1M130.5 78.3h1M115.6 81.0h1M66.3 92.5h1M127.1 76.7h1M69.8 86.5h1M144.4 77.4h1M84.5 90.0h1M107.5 84.1h1M96.0 92.3h1M130.1 81.3h1M91.9 88.0h1M63.6 81.8h1M98.1 92.7h1M67.1 84.2h1M102.4 85.8h1M77.3 92.2h1M104.8 83.0h1M83.8 89.3h1M95.8 85.5h1M72.7 84.0h1M79.8 84.3h1M62.1 85.3h1M91.5 86.0h1M125.0 84.1h1M71.2 98.4h1M95.8 91.9h1M98.3 84.6h1M110.7 86.3h1M102.2 90.3h1M98.1 85.9h1M87.0 92.9h1M102.7 87.5h1M86.8 82.6h1M83.1 87.4h1M100.4 76.4h1M89.4 91.3h1M128.9 83.0h1M89.2 86.5h1M61.9 91.9h1M61.5 91.9h1M81.6 90.9h1M110.2 86.8h1M84.4 88.8h1M132.0 79.9h1M69.7 86.7h1M108.2 79.9h1M102.4 82.8h1M86.7 85.6h1M68.3 85.6h1M71.1 88.8h1M108.9 82.2h1M84.9 91.5h1M119.4 89.1h1M67.7 88.8h1M77.0 86.1h1M104.9 83.9h1M69.3 92.8h1M64.2 91.7h1M101.2 83.8h1M123.1 77.3h1M115.2 88.1h1M90.3 98.7h1M76.5 85.5h1M92.6 85.8h1M75.0 90.0h1M91.9 96.9h1M89.4 86.9h1M102.2 86.7h1M96.4 90.4h1M84.5 87.1h1M69.7 84.1h1M83.9 85.1h1M72.1 95.8h1M75.0 89.5h1M85.8 90.6h1M115.0 90.4h1M69.9 85.9h1M103.2 75.7h1M70.7 90.0h1M72.4 85.4h1M107.8 100.0h1M103.2 81.2h1M121.3 85.5h1M67.4 88.4h1M100.0 78.5h1M83.1 93.0h1M107.7 82.3h1M91.3 82.7h1M92.6 88.7h1M101.0 87.3h1M116.3 81.8h1M120.2 85.4h1M112.6 80.5h1M69.9 89.0h1M71.2 97.9h1M133.6 73.3h1M86.8 92.6h1M84.0 78.7h1M96.8 87.4h1M92.2 80.4h1M120.5 84.5h1M145.0 77.3h1M83.1 86.9h1M82.0 81.5h1M91.6 86.1h1M110.1 80.8h1M77.0 95.5h1M61.8 81.8h1M75.8 89.0h1M98.5 88.3h1M92.0 86.5h1M73.0 86.8h1M71.8 82.9h1M109.2 88.9h1M81.0 80.0h1M140.1 79.3h1M90.4 78.9h1M115.0 84.3h1M73.1 94.4h1M71.8 89.1h1M69.5 85.0h1M70.3 90.7h1M67.1 87.1h1M68.9 91.7h1M99.7 88.4h1M63.0 89.5h1M111.6 92.6h1M72.3 87.7h1M131.7 83.5h1M91.6 92.0h1M106.6 80.8h1M103.6 88.4h1M85.1 85.0h1M108.7 88.1h1M97.1 91.3h1M72.0 88.0h1M124.0 74.6h1M110.0 80.6h1M96.3 88.9h1M105.4 93.3h1M79.1 88.1h1M96.4 84.8h1M95.5 92.5h1M116.6 86.1h1M94.0 92.7h1M117.3 92.2h1M101.3 84.1h1M103.3 91.1h1M114.6 86.7h1M93.5 88.2h1M112.1 86.4h1M96.9 87.4h1M66.5 87.2h1M64.3 86.8h1M120.7 80.7h1M78.0 89.6h1M123.4 80.6h1M111.6 83.9h1M69.7 89.8h1M82.5 97.5h1M89.0 82.6h1M145.1 74.2h1M80.2 86.9h1M113.4 83.5h1M105.8 85.9h1M85.1 88.5h1M103.0 79.5h1M124.9 77.9h1M130.7 80.1h1M90.1 91.3h1M76.8 91.0h1M71.3 89.9h1M84.4 89.7h1M86.2 91.5h1M114.4 83.2h1M91.1 77.8h1M90.0 92.0h1M80.6 86.6h1M77.4 90.2h1M116.1 82.5h1M93.3 92.9h1M106.1 92.1h1M119.0 89.6h1M63.3 89.5h1M108.3 91.0h1M78.7 76.1h1M78.2 94.6h1M64.0 90.7h1M111.2 86.7h1M137.1 74.9h1M72.3 82.3h1M98.6 79.6h1M71.4 98.6h1M118.3 85.5h1M90.8 86.8h1M99.8 97.4h1M97.3 89.9h1M105.7 84.0h1M62.4 93.3h1M67.7 86.8h1M118.8 80.0h1M86.7 91.2h1M64.0 87.7h1M80.4 94.1h1M116.6 80.5h1M100.1 91.5h1M70.1 88.9h1M64.1 84.7h1M74.1 88.8h1M137.8 81.8h1M85.8 84.2h1M104.6 77.1h1M109.6 81.4h1M61.6 88.7h1M100.6 88.7h1M89.3 89.3h1M76.3 94.3h1M80.4 86.9h1M110.0 78.1h1M107.9 83.4h1M101.3 85.3h1M101.9 83.2h1M101.4 90.0h1M98.3 82.8h1M83.2 85.5h1M87.7 86.9h1M83.4 89.6h1M105.6 86.7h1M71.1 96.8h1M104.5 92.9h1M66.7 91.5h1M119.8 80.1h1M84.2 85.2h1M130.8 81.5h1M115.6 88.0h1M102.6 89.3h1M92.1 94.5h1M118.8 79.1h1M121.9 85.8h1M63.3 87.1h1M89.7 86.4h1M84.7 86.5h1M75.1 96.7h1M102.5 87.8h1M72.8 91.2h1M92.2 87.6h1M106.1 81.1h1M101.3 86.3h1M111.0 97.1h1M97.0 93.7h1M94.9 94.9h1M104.7 86.7h1M92.6 90.3h1M112.7 83.7h1M66.7 84.4h1M80.5 84.1h1M84.1 86.6h1M87.2 89.9h1M123.4 76.7h1M64.3 88.8h1M101.7 92.1h1M93.1 91.0h1M142.2 77.8h1M123.3 85.1h1M69.8 86.3h1M87.4 99.9h1M64.2 94.8h1M93.9 76.6h1M84.0 92.4h1M109.5 86.9h1M76.9 86.8h1M109.8 78.6h1M64.1 87.1h1M61.8 92.0h1M135.8 83.3h1M88.6 86.7h1M99.6 84.4h1M123.9 84.1h1M99.0 88.8h1M97.4 82.1h1M137.6 78.3h1M92.0 94.7h1M71.4 81.0h1M69.5 86.8h1M112.2 88.8h1M90.8 88.0h1M96.0 79.3h1M74.9 80.2h1M93.0 89.5h1M109.8 88.4h1M113.9 82.0h1M86.6 89.1h1M68.2 85.2h1M153.5 75.6h1M113.7 79.8h1M99.8 95.7h1M70.0 94.2h1M150.3 77.6h1M135.6 80.1h1M111.5 87.9h1M98.6 91.7h1M87.0 89.3h1M89.5 80.2h1M107.2 79.5h1M92.8 95.0h1M64.4 93.5h1M91.2 90.4h1M103.4 93.6h1M114.2 80.2h1M89.9 79.8h1M140.1 85.9h1M72.0 92.1h1M81.5 91.8h1M86.5 83.7h1M117.9 83.2h1M105.0 90.9h1M119.8 84.5h1M107.4 84.6h1M93.9 95.3h1M70.9 83.5h1M91.9 96.6h1M77.1 80.9h1M66.1 84.7h1M96.2 74.8h1M84.6 85.2h1M114.4 76.0h1M84.9 82.5h1M95.6 87.7h1M123.3 88.5h1M149.3 74.8h1M73.9 84.5h1M104.5 96.4h1M111.7 83.1h1M79.3 94.3h1M115.8 85.0h1M78.0 84.1h1M129.2 79.5h1M84.8 94.5h1M76.9 80.9h1M95.4 83.7h1M80.3 89.8h1M127.4 82.5h1M90.6 92.7h1M75.7 87.2h1M69.8 85.0h1M103.9 92.1h1M125.0 86.1h1M72.4 88.9h1M105.8 80.6h1M119.1 85.3h1M91.9 92.4h1M84.0 92.9h1M79.7 88.3h1M63.5 93.1h1M62.6 87.7h1M120.1 81.5h1M85.5 91.6h1M91.1 87.5h1M108.6 83.6h1M138.5 83.4h1M110.8 72.8h1M73.7 94.0h1M121.2 82.3h1M111.6 94.6h1M93.0 99.8h1M70.8 93.9h1M136.8 81.0h1M110.1 85.5h1M91.5 92.5h1M91.5 86.8h1M100.1 87.5h1M90.0 87.0h1M99.6 80.3h1M67.5 88.0h1M64.7 90.9h1M80.0 91.4h1M82.1 82.1h1M98.3 92.6h1M76.7 96.1h1M109.4 83.6h1M106.7 91.1h1M116.0 78.1h1M95.5 82.6h1M72.3 89.8h1M72.7 95.3h1M107.9 85.3h1M79.9 93.1h1M85.2 85.6h1M94.9 91.7h1M79.9 90.2h1M108.6 84.0h1M71.4 83.7h1M96.7 81.9h1M67.4 90.8h1M79.4 92.3h1M97.0 86.5h1M125.3 87.0h1M97.0 87.8h1M73.2 85.8h1M133.0 78.5h1M83.5 87.4h1M67.5 93.8h1M68.5 84.6h1M117.4 85.7h1M114.9 84.7h1M67.8 89.2h1M111.4 90.8h1M101.0 94.0h1M115.1 74.1h1M82.4 89.5h1M107.5 92.6h1M94.7 81.1h1M89.9 88.6h1M106.9 88.0h1M93.8 91.9h1M111.4 85.6h1M87.3 88.4h1M91.0 78.6h1M80.0 88.7h1M98.7 91.8h1M111.8 84.0h1M66.5 84.6h1M87.5 92.7h1M95.8 89.8h1M86.3 85.6h1M80.4 92.8h1M136.9 81.1h1M85.0 86.3h1M75.9 88.5h1M74.6 86.4h1M85.6 88.3h1M64.9 90.5h1M73.3 91.6h1M116.5 81.9h1M90.0 88.0h1M84.9 91.4h1M70.2 80.9h1M78.0 87.5h1M64.6 87.9h1M67.4 93.0h1M129.5 80.8h1M110.0 90.0h1M103.3 89.7h1M71.7 92.1h1M72.1 89.8h1M71.5 93.0h1M61.0 92.3h1M85.6 94.5h1M119.0 88.0h1M71.1 87.7h1M70.4 87.2h1M94.6 83.9h1M95.7 85.2h1M121.9 80.2h1M105.9 83.8h1M90.5 89.8h1M121.1 79.4h1M84.8 84.5h1M94.5 86.4h1M66.9 97.4h1M125.9 83.3h1M102.8 88.6h1M116.8 87.3h1M81.1 95.1h1M105.5 87.1h1M87.3 93.0h1M79.2 86.2h1M109.4 92.1h1M68.5 85.5h1M63.5 91.7h1M64.3 84.6h1M76.0 96.9h1M68.5 84.8h1M74.0 88.4h1M66.2 88.4h1M145.0 75.4h1M92.2 85.9h1M105.0 82.2h1M67.3 83.6h1M107.7 84.8h1M91.7 84.4h1M86.7 87.0h1M75.3 85.2h1M123.8 81.4h1M85.9 100.9h1M89.6 77.5h1M135.4 80.5h1M106.8 82.8h1M127.5 81.6h1M90.1 82.1h1M97.3 84.4h1M62.2 99.9h1M75.3 92.3h1M87.4 83.8h1M84.7 82.5h1M95.1 92.5h1M107.5 80.8h1M145.3 74.1h1M111.9 90.0h1M85.1 85.7h1M109.9 81.8h1M94.8 74.6h1M86.8 87.6h1M65.1 89.9h1M97.7 85.3h1M119.0 89.1h1M91.7 79.6h1M123.5 89.6h1M95.3 92.0h1M121.6 77.5h1M75.3 85.6h1M77.3 84.1h1M66.0 98.0h1M94.8 92.8h1M121.2 74.1h1M86.9 90.8h1M106.4 89.0h1M73.3 93.0h1M64.4 90.9h1M100.9 89.4h1M102.2 81.6h1M87.2 91.2h1M78.5 84.1h1M130.0 80.3h1M125.6 85.0h1M102.0 84.5h1M111.7 82.8h1M104.3 81.8h1M101.6 88.4h1M77.8 90.2h1M124.2 84.8h1M83.8 86.0h1M74.0 85.4h1M101.6 84.6h1M68.9 92.9h1M122.0 81.9h1M96.2 83.2h1M80.4 88.0h1M141.3 84.3h1M120.1 90.9h1M101.2 82.7h1M71.8 87.6h1M88.5 86.0h1M80.3 97.4h1M113.8 88.8h1M110.7 87.6h1M79.7 85.3h1M82.5 96.4h1M63.1 88.1h1M70.9 83.6h1M114.0 83.3h1M93.7 87.1h1M78.1 90.9h1M118.5 80.5h1M79.4 88.1h1M114.8 82.0h1M62.1 86.7h1M110.6 80.2h1M143.2 79.6h1M81.0 83.4h1M67.3 90.2h1M76.8 95.7h1M85.4 99.7h1M92.8 84.9h1M98.3 83.3h1M144.8 74.0h1M69.4 96.7h1M81.8 93.5h1M99.8 75.4h1M109.2 81.9h1M104.8 85.1h1M94.3 84.9h1M69.0 95.4h1M77.8 81.8h1M92.5 86.5h1M89.3 82.2h1M98.0 87.7h1M87.9 93.3h1M66.2 93.7h1M110.2 92.3h1M86.3 89.7h1M82.6 91.8h1M70.9 87.5h1M113.2 83.2h1M77.8 85.9h1M66.1 81.6h1M87.4 92.1h1M86.9 83.2h1M96.4 79.7h1M76.3 87.1h1M75.6 96.5h1M95.6 75.3h1M79.5 88.5h1M133.0 78.6h1M72.0 93.1h1M93.6 90.0h1M114.8 86.1h1M81.4 92.0h1M119.6 84.1h1M140.2 74.6h1M121.3 81.9h1M73.6 84.1h1M132.9 77.7h1M106.3 81.5h1M132.7 78.0h1M117.2 83.8h1M80.0 92.0h1M86.1 84.9h1M121.2 78.9h1M125.1 82.0h1M67.1 91.7h1M145.5 75.2h1M105.2 90.8h1M98.8 71.8h1M109.3 84.8h1M115.6 92.1h1M105.3 85.6h1M84.9 97.1h1M96.1 93.0h1M126.0 80.9h1M70.3 88.8h1M125.8 91.1h1M111.1 88.9h1M93.0 79.6h1M91.5 84.9h1M83.4 87.0h1M61.4 87.8h1M90.6 88.3h1M97.6 86.1h1M90.1 99.8h1M90.6 93.0h1M77.7 83.5h1M142.4 73.5h1M66.1 84.7h1M86.1 83.5h1M112.2 87.7h1M86.7 95.1h1M94.9 93.4h1M66.5 88.2h1M84.6 87.9h1M126.1 84.4h1M68.8 91.6h1M70.0 89.7h1M123.1 82.1h1M139.5 86.6h1M81.5 91.7h1M133.2 84.5h1M74.2 92.3h1M125.2 80.1h1M65.9 89.4h1M117.3 84.1h1M86.9 81.6h1M80.7 78.4h1M129.8 80.4h1M109.3 81.1h1M109.4 83.0h1M71.6 87.0h1M107.6 89.5h1M96.0 89.6h1M96.4 85.6h1M74.0 84.8h1M105.0 88.1h1M134.3 79.9h1M79.5 88.7h1M77.2 93.1h1M99.9 91.7h1M126.5 88.7h1M88.5 89.0h1M127.5 86.8h1M113.2 83.4h1M87.5 90.4h1M117.4 83.7h1M77.4 94.3h1M67.9 90.2h1M76.9 89.4h1M73.6 84.9h1M138.1 80.2h1M64.1 84.4h1M87.1 92.3h1M75.0 82.6h1M63.8 88.8h1M79.1 96.6h1M110.3 90.9h1M110.0 82.4h1M107.5 81.1h1M92.5 85.8h1M81.5 88.0h1M104.3 76.3h1M72.2 88.4h1M97.6 78.2h1M123.4 86.4h1M99.3 90.7h1M73.0 83.2h1M78.4 85.2h1M124.7 76.6h1M68.7 89.5h1M111.8 79.4h1M144.1 79.7h1M109.4 92.3h1M80.3 95.2h1M81.3 85.1h1M101.4 75.5h1M62.2 89.9h1M89.1 85.3h1M111.0 90.1h1M99.3 91.3h1M106.4 87.2h1M77.5 88.4h1M135.4 76.9h1M118.6 82.8h1M102.4 81.8h1M68.7 92.8h1M109.1 88.2h1M97.0 79.4h1M79.4 91.5h1M77.0 88.8h1M131.6 81.9h1M143.0 76.8h1M135.3 83.4h1M77.4 91.3h1M100.6 87.8h1M87.1 89.1h1M83.6 84.5h1M64.1 95.7h1M92.9 73.6h1M111.0 81.9h1M79.2 80.1h1M72.7 89.4h1M66.1 93.0h1M73.1 88.1h1M65.8 89.4h1M116.5 86.9h1M100.9 82.9h1M92.5 92.1h1M93.0 90.5h1M107.7 78.1h1M141.8 78.3h1M107.7 86.3h1M99.4 93.0h1M110.4 89.7h1M145.1 78.4h1M85.9 93.1h1M92.6 90.9h1M90.1 87.9h1M69.9 98.0h1M138.2 73.5h1M106.9 88.1h1M72.7 91.0h1M66.4 89.1h1M80.0 82.8h1M78.6 83.5h1M90.5 84.1h1M152.1 73.1h1M70.0 89.0h1M66.2 94.6h1M81.6 85.2h1M72.1 88.3h1M102.4 89.9h1M101.9 88.0h1M88.9 77.4h1M80.9 84.9h1M92.0 79.4h1M73.6 85.2h1M96.6 88.5h1M111.1 90.8h1M98.5 89.2h1M61.7 93.3h1M110.7 85.8h1M111.0 96.0h1M145.9 78.6h1M71.3 84.4h1M110.8 94.0h1M65.6 83.0h1M93.2 83.9h1M95.8 77.5h1M86.2 88.7h1M98.1 94.4h1M108.8 95.6h1M100.0 81.8h1M68.8 92.7h1M116.9 87.0h1M92.7 87.9h1M76.9 87.6h1M68.1 94.5h1M106.9 89.6h1M123.1 81.6h1M104.1 83.7h1M65.3 91.1h1M88.5 79.2h1M81.8 96.7h1M103.1 81.7h1M66.9 80.8h1M70.9 92.0h1M95.3 91.0h1M100.8 90.9h1M73.6 93.3h1M134.0 79.8h1M91.2 86.7h1M120.2 80.1h1M81.4 96.1h1M101.5 83.5h1M100.9 93.5h1M111.6 90.3h1M94.5 87.4h1M150.4 72.0h1M107.4 91.7h1M106.3 87.5h1M106.1 80.7h1M92.5 82.0h1M96.6 92.2h1M97.0 80.7h1M63.3 91.2h1M150.1 78.5h1M100.9 82.5h1M130.0 77.2h1M95.3 87.1h1M104.4 77.1h1M117.9 76.1h1M125.8 83.1h1M87.2 82.1h1M95.2 84.0h1M100.0 89.8h1M122.3 83.7h1M97.0 76.8h1M81.2 92.4h1M103.4 80.7h1M78.0 84.5h1M77.9 93.3h1M91.5 87.1h1M96.4 82.2h1M116.3 75.8h1M119.8 81.0h1M117.9 80.9h1M72.8 85.3h1M90.1 89.8h1M86.0 88.4h1M88.0 84.7h1M125.0 80.0h1M64.2 88.7h1M64.7 87.0h1M66.4 88.0h1M99.7 83.9h1M68.5 95.9h1M116.7 78.0h1M98.6 85.1h1M93.4 92.0h1M99.0 81.4h1M78.2 95.1h1M87.6 88.0h1M107.2 83.4h1M81.5 86.7h1M104.4 89.9h1M104.6 89.8h1M79.0 91.0h1M89.2 94.7h1M109.9 87.5h1M85.5 86.6h1M107.9 84.7h1M67.5 89.2h1M69.6 86.6h1M105.6 74.8h1M112.0 91.3h1M103.7 83.7h1M84.5 79.2h1M112.7 92.5h1M103.5 87.0h1M65.4 92.0h1M81.3 94.2h1M73.2 83.7h1M105.1 84.6h1M111.2 86.3h1M74.6 89.4h1M76.2 92.5h1M68.2 95.1h1M102.3 88.9h1M84.8 84.0h1M79.8 92.1h1M94.2 85.3h1M70.2 86.0h1M100.8 97.7h1M86.2 89.4h1M87.5 86.5h1M101.6 75.6h1M123.5 79.7h1M78.8 93.9h1M70.3 91.1h1M100.3 86.0h1M77.7 83.3h1M72.1 87.6h1M76.3 86.6h1M89.7 86.5h1M89.5 93.2h1M64.3 88.0h1M122.4 81.5h1M97.6 91.2h1M103.3 79.6h1M118.9 84.6h1M71.4 87.9h1M79.0 87.2h1M127.5 80.0h1M96.1 85.0h1M104.3 88.1h1M106.0 85.3h1M79.3 85.0h1M113.3 86.6h1M83.6 93.1h1M145.3 73.4h1M101.7 87.1h1M70.3 85.1h1M103.8 87.1h1M67.9 89.0h1M90.8 84.1h1M90.8 87.5h1M115.0 79.5h1M73.0 95.4h1M65.3 95.3h1M113.8 87.4h1M95.8 90.1h1M77.5 91.0h1M93.8 85.6h1M69.3 84.1h1M90.7 86.3h1M74.7 83.8h1M83.7 89.3h1M104.4 82.6h1M110.5 86.9h1M64.6 91.9h1M120.2 84.8h1M126.3 78.0h1M92.0 92.5h1M73.1 96.2h1M96.6 93.4h1M98.7 80.0h1M91.8 88.6h1M117.5 82.4h1M97.0 85.7h1M68.4 84.1h1M81.8 82.2h1M65.3 91.4h1M87.9 87.7h1M99.1 82.9h1M128.7 79.1h1M83.0 92.7h1M65.4 86.3h1M97.6 85.3h1M95.3 88.4h1M113.7 83.5h1M99.7 89.7h1M65.8 86.5h1M91.4 77.4h1M75.6 84.2h1M105.3 91.0h1M91.9 91.8h1M88.8 86.6h1M100.1 94.2h1M103.1 87.3h1M104.6 93.6h1M65.2 91.9h1M74.5 87.9h1M105.1 90.4h1M76.6 87.1h1M81.6 86.7h1M95.4 88.9h1M115.7 83.2h1M85.0 78.2h1M66.7 92.0h1M97.9 93.6h1M126.5 83.4h1M100.5 86.0h1M93.5 93.3h1M97.9 93.5h1M105.3 82.7h1M126.0 79.6h1M93.1 86.2h1M120.0 86.1h1M122.9 78.4h1M91.1 88.4h1M97.3 79.5h1M102.2 95.8h1M105.2 88.6h1M62.1 89.3h1M94.4 94.0h1M71.2 91.3h1M102.8 81.6h1M70.0 89.9h1M91.2 86.4h1M115.6 80.7h1M88.7 82.0h1M88.1 96.5h1M86.7 89.5h1M118.6 85.8h1M94.1 81.6h1M105.7 81.8h1M123.4 76.8h1M99.3 90.5h1M92.1 91.7h1M128.3 78.3h1M130.1 78.8h1M99.7 81.5h1M129.4 82.9h1M72.0 89.0h1M79.4 93.6h1M73.0 87.0h1M109.2 84.5h1M65.9 86.0h1M109.7 80.0h1M73.6 89.3h1M75.1 78.5h1M107.5 86.4h1M87.5 84.0h1M82.7 87.3h1M105.6 90.5h1M62.5 89.0h1M126.2 77.8h1M99.0 80.3h1M90.7 92.6h1M122.6 80.6h1M103.0 87.6h1M88.8 91.8h1M112.3 84.4h1M92.5 79.0h1M114.0 88.3h1M115.6 82.5h1M95.3 88.9h1M110.9 84.7h1M72.2 87.0h1M93.3 87.9h1M116.3 79.7h1M115.1 88.6h1M110.8 88.5h1M89.8 87.3h1M66.8 86.2h1M121.5 83.6h1M95.7 79.0h1M74.1 86.5h1M124.6 80.5h1M80.8 84.6h1M125.9 80.0h1M102.1 90.6h1M78.5 88.2h1M107.5 86.2h1M99.6 94.4h1M85.1 88.1h1M88.6 88.5h1M95.9 90.3h1M82.4 92.0h1M72.6 84.4h1M129.1 80.6h1M119.0 87.9h1M77.9 94.8h1M104.0 90.6h1M96.0 92.9h1M95.7 91.4h1M102.0 93.1h1M82.2 80.2h1M100.9 83.4h1M69.1 91.3h1M101.0 83.5h1M90.2 93.5h1M113.4 85.3h1M85.1 91.9h1M72.6 95.8h1M88.6 86.0h1M86.3 81.7h1M94.1 88.2h1M116.3 88.5h1M118.7 85.6h1M100.2 87.1h1M113.0 78.5h1M71.2 82.0h1M102.1 78.8h1M96.1 88.0h1M101.3 86.8h1M78.5 84.9h1M114.9 77.4h1M81.7 87.1h1M65.5 83.9h1M79.5 84.2h1M112.1 81.5h1M87.6 90.7h1M84.8 90.6h1M71.4 95.3h1M92.7 87.1h1M64.4 88.9h1M144.2 78.0h1M147.8 79.4h1M94.1 90.4h1M80.7 86.0h1M103.5 84.6h1M85.4 97.8h1M89.3 94.4h1M87.2 94.0h1M102.7 93.5h1M125.8 78.8h1M70.4 88.5h1M115.4 86.9h1M80.9 88.0h1M62.9 89.4h1M62.5 86.1h1M81.0 84.1h1M95.7 79.5h1M76.3 92.8h1M103.8 90.3h1M145.1 77.0h1M110.3 87.3h1M92.8 83.5h1M125.5 81.7h1M82.6 83.6h1M113.7 83.9h1M96.1 91.1h1M113.3 77.3h1M110.7 82.8h1M94.1 87.7h1M87.6 89.8h1M100.3 92.6h1M103.8 91.2h1M101.7 85.3h1M113.2 82.8h1M81.7 90.6h1M84.4 87.7h1M64.9 83.5h1M90.9 90.5h1M80.9 87.4h1M86.0 94.6h1M117.0 85.2h1M81.1 88.9h1M65.6 89.1h1M87.9 87.4h1M92.8 76.2h1M111.3 87.5h1M107.7 72.4h1M89.6 77.0h1M113.7 86.5h1M101.4 90.8h1M84.8 85.9h1M78.9 87.3h1M63.7 87.4h1M117.1 80.3h1M64.3 80.3h1M85.2 87.4h1M98.1 85.4h1M62.3 94.5h1M68.4 84.8h1M111.5 88.0h1M63.1 94.4h1M124.5 80.3h1M90.2 84.5h1M66.6 90.4h1M124.7 75.5h1M74.0 90.4h1M82.6 91.8h1M97.1 75.4h1M91.2 100.0h1M107.5 82.2h1M87.5 86.6h1M84.8 85.2h1M70.4 97.1h1M108.9 85.3h1M110.5 85.4h1M94.6 91.7h1M83.4 94.1h1M78.9 82.3h1M82.1 87.5h1M83.6 87.6h1M115.4 83.3h1M102.2 87.9h1M103.9 85.9h1M116.9 82.2h1M96.5 89.5h1M89.0 81.0h1M78.0 81.9h1M117.3 79.8h1M87.7 90.4h1M109.0 77.6h1M97.2 95.1h1M101.5 88.6h1M65.1 91.6h1M84.2 85.6h1M110.0 90.4h1M93.1 83.4h1M74.8 92.5h1M105.7 82.4h1M98.2 87.6h1M127.0 84.3h1M70.1 75.9h1M97.4 91.1h1M104.5 86.4h1M105.8 88.4h1M70.3 91.6h1M93.4 93.2h1M97.1 88.5h1M138.3 83.6h1M95.5 85.0h1M95.5 83.1h1M107.0 83.6h1M105.6 85.0h1M76.2 86.8h1M108.4 80.3h1M100.9 86.5h1M115.1 84.9h1M97.1 84.8h1M87.1 90.8h1M104.6 85.4h1M70.6 83.2h1M70.5 91.9h1M65.2 94.6h1M103.7 86.8h1M105.0 82.7h1M82.0 87.7h1M125.8 84.5h1M63.0 87.7h1M93.3 81.3h1M68.5 87.2h1M81.7 88.8h1M61.8 91.7h1M88.1 86.3h1M97.3 88.6h1M96.1 87.3h1M73.6 90.4h1M65.3 86.9h1M67.7 83.2h1M87.7 84.2h1M92.2 92.7h1M80.3 92.6h1M78.3 87.7h1M113.3 90.7h1M88.0 89.3h1M118.0 83.6h1M90.1 89.7h1M148.1 76.2h1M98.6 97.7h1M80.0 90.9h1M102.1 84.6h1M109.1 84.2h1M126.0 78.8h1M63.9 91.5h1M69.9 88.5h1M66.1 91.5h1M81.2 79.5h1M82.6 94.9h1M101.6 86.0h1M130.0 79.3h1M138.2 84.8h1M62.4 85.8h1M88.3 84.4h1M73.8 86.9h1M129.6 76.7h1M96.0 90.4h1M69.2 75.9h1M122.3 83.5h1M67.2 91.2h1M86.5 94.9h1M109.7 92.3h1M77.7 88.8h1M104.9 80.0h1M84.8 92.0h1M107.5 80.2h1M83.1 94.2h1M125.4 87.5h1M101.0 90.8h1M74.5 88.6h1M86.7 96.8h1M101.7 90.2h1M69.8 85.7h1M70.5 93.1h1M109.0 76.9h1M117.2 83.9h1M121.2 83.5h1M111.5 85.5h1M87.0 89.9h1M103.6 84.5h1M92.3 86.5h1M128.3 80.4h1M106.7 79.1h1M65.3 89.6h1M138.3 78.8h1M76.6 95.9h1M70.8 88.0h1M119.9 87.3h1M63.9 87.6h1M97.5 77.5h1M102.8 86.3h1M79.6 85.7h1M78.7 94.7h1M62.2 94.6h1M96.7 89.5h1M115.0 96.5h1M102.9 85.1h1M83.5 92.8h1M89.1 95.4h1M78.7 81.9h1M64.1 89.6h1M77.7 97.6h1M79.0 90.8h1M116.4 83.7h1M133.3 79.3h1M124.9 80.1h1M65.8 86.9h1M93.9 89.4h1M123.0 83.0h1M76.7 90.0h1M85.9 86.2h1M118.7 90.5h1M111.5 87.9h1M87.2 89.7h1M80.4 87.5h1M77.9 87.5h1M62.7 89.4h1M78.8 87.6h1M116.5 85.0h1M95.3 81.7h1M92.2 83.7h1M84.8 93.8h1M87.5 86.1h1M73.6 80.0h1M80.6 84.7h1M108.2 79.2h1M94.2 86.6h1M80.6 97.0h1M126.3 80.4h1M64.7 85.6h1M111.6 85.2h1M70.8 90.6h1M88.4 89.5h1M78.6 85.0h1M79.2 89.0h1M60.7 91.3h1M143.8 83.7h1M96.3 88.4h1M91.9 93.2h1M147.8 79.4h1M81.7 87.6h1M108.7 90.6h1M71.4 89.6h1M112.2 82.7h1M115.3 90.7h1M106.9 82.2h1M113.4 87.7h1M72.7 85.9h1M83.6 94.2h1M110.6 84.4h1M99.4 98.0h1M106.7 74.1h1M79.6 87.0h1M120.7 86.0h1M71.1 89.8h1M119.2 77.6h1M108.6 86.7h1M121.2 78.3h1M65.4 92.1h1M98.8 87.1h1M84.1 86.9h1M107.6 87.4h1M86.2 83.9h1M81.9 87.3h1M110.0 81.3h1M76.0 90.0h1M109.8 90.0h1M104.4 83.0h1M96.6 79.5h1M72.1 93.3h1M86.4 86.1h1M122.4 86.4h1M85.0 82.7h1M110.7 79.9h1M88.9 92.8h1M102.2 77.7h1M76.1 86.9h1M97.2 91.7h1M63.4 87.9h1M106.7 85.6h1M62.0 83.7h1M92.2 82.9h1M105.4 80.2h1M67.4 87.0h1M91.2 82.4h1M102.8 93.3h1M106.0 87.3h1M96.9 87.0h1M97.6 92.1h1M124.2 87.7h1M75.8 91.7h1M80.2 86.7h1M79.7 90.4h1M81.9 90.8h1M83.1 88.3h1M100.6 90.2h1M65.0 95.0h1M64.8 89.2h1M89.7 83.6h1M65.2 90.6h1M73.9 87.5h1M119.7 85.0h1M109.5 78.1h1M80.6 88.4h1M88.2 92.1h1M105.8 94.5h1M81.9 88.7h1M101.2 92.8h1M128.6 82.3h1M83.0 88.4h1M86.6 85.5h1M106.8 100.5h1M95.1 75.5h1M79.0 87.4h1M102.9 84.3h1M110.5 80.8h1M95.6 77.8h1M83.3 85.0h1M84.8 87.8h1M70.5 88.2h1M93.4 81.3h1M101.7 82.9h1M93.6 89.1h1M82.2 83.7h1M85.1 89.7h1M117.3 87.6h1M96.5 85.7h1M108.7 91.2h1M86.8 83.2h1M91.2 82.5h1M133.9 75.6h1M121.6 75.5h1M78.0 84.2h1M87.9 81.6h1M98.4 91.9h1M125.3 78.6h1M71.4 92.3h1M90.0 86.1h1M94.2 87.8h1M66.1 89.2h1M83.4 79.0h1M107.3 88.5h1M92.9 75.5h1M69.5 91.9h1M66.3 95.0h1M64.9 92.3h1M67.7 89.3h1M78.2 86.6h1M76.6 89.7h1M107.0 87.3h1M142.2 77.3h1M113.6 85.9h1M92.1 82.9h1M118.8 79.0h1M68.7 87.2h1M76.2 91.1h1M108.6 71.9h1M62.5 88.8h1M79.6 78.3h1M105.6 79.9h1M77.2 80.6h1M74.2 82.6h1M71.5 91.8h1M100.3 89.6h1M116.1 81.8h1M99.9 89.1h1M83.5 83.7h1M111.9 82.7h1M88.5 78.0h1M104.2 90.2h1M106.7 80.8h1M61.4 90.2h1M108.5 85.0h1M91.4 88.9h1M70.1 89.8h1M128.8 85.7h1M108.3 90.9h1M81.8 83.5h1M149.8 77.9h1M112.6 82.6h1M76.2 89.8h1M101.4 86.5h1M104.9 79.8h1M115.6 80.9h1M90.1 90.5h1M115.4 84.6h1M126.3 80.3h1M97.6 83.6h1M71.2 88.2h1M104.6 85.3h1M72.1 83.0h1M85.5 84.8h1M91.6 89.1h1M97.9 92.3h1M73.8 81.6h1M90.5 86.3h1M72.1 82.7h1M83.3 94.1h1M132.3 89.4h1M87.5 90.9h1M80.4 94.1h1M98.7 81.6h1M124.8 88.8h1M99.7 85.8h1M88.4 85.7h1M104.3 85.8h1M116.0 85.4h1M76.6 94.4h1M103.4 87.9h1M112.7 88.6h1M91.1 92.7h1M93.6 85.1h1M110.2 89.0h1M119.8 86.4h1M66.1 83.3h1M114.0 83.6h1M93.4 82.3h1M82.2 91.8h1M106.5 86.0h1M85.8 78.9h1M100.6 91.3h1M74.8 92.8h1M121.8 89.5h1M121.2 77.6h1M93.5 78.4h1M90.1 81.0h1M114.1 87.4h1M78.6 87.7h1M91.3 85.7h1M90.1 85.9h1M107.9 82.9h1M103.2 92.6h1M125.9 82.7h1M82.8 87.0h1M68.9 95.7h1M108.3 86.4h1M75.4 82.9h1M78.2 86.9h1M67.7 87.6h1M110.7 83.0h1M126.1 87.5h1M63.6 88.1h1M70.2 96.1h1M91.6 84.0h1M97.8 93.1h1M120.2 80.7h1M106.2 79.7h1M104.6 83.6h1M61.1 89.9h1M65.3 90.6h1M89.0 88.2h1M94.0 91.0h1M116.8 88.5h1M103.3 83.1h1M91.4 92.7h1M71.2 89.1h1M71.1 87.2h1M88.9 87.7h1M101.3 92.4h1M119.3 85.7h1M110.5 78.6h1M96.2 89.2h1M118.5 80.4h1M103.3 91.7h1M96.7 79.7h1M78.9 81.3h1M111.5 82.8h1M110.6 81.4h1M123.4 83.3h1M104.0 83.7h1M71.7 86.0h1M82.1 86.2h1M111.3 83.0h1M84.5 90.6h1M94.9 97.5h1M69.2 87.4h1M102.7 92.3h1M83.2 88.4h1M81.7 83.7h1M115.8 90.6h1M85.5 91.2h1M90.8 90.0h1M109.2 84.3h1M132.1 78.6h1M69.2 89.5h1M90.5 90.0h1M96.3 87.0h1M68.5 87.1h1M91.7 90.7h1M79.8 95.7h1M92.9 87.8h1M97.5 84.7h1M78.7 95.7h1M79.4 77.3h1M117.9 87.9h1M87.8 79.6h1M109.8 92.0h1M72.0 90.4h1M76.0 84.6h1M122.7 82.3h1M105.5 81.5h1M89.6 90.1h1M81.6 88.9h1M89.0 79.5h1M106.8 92.4h1M112.2 78.1h1M102.9 88.0h1M91.2 81.2h1M77.0 91.6h1M113.6 84.4h1M92.6 86.0h1M108.4 96.1h1M66.0 77.4h1M66.2 82.3h1M79.6 86.1h1M104.8 83.6h1M77.3 95.4h1M98.8 89.6h1M74.0 87.8h1M96.7 84.7h1M128.0 82.6h1M111.3 83.9h1M74.8 86.0h1M104.8 87.1h1M106.1 87.1h1M126.8 80.7h1M65.2 90.4h1M150.0 74.1h1M82.0 80.0h1M84.3 84.1h1M81.1 74.5h1M130.0 77.5h1M69.5 91.3h1M82.1 90.2h1M85.3 92.0h1M91.4 80.3h1M90.6 84.6h1M135.4 79.6h1M82.7 90.5h1M82.0 81.8h1M89.2 88.4h1M101.2 86.5h1M91.9 83.2h1M80.7 89.7h1M111.4 85.7h1M102.3 81.4h1M120.1 82.5h1M111.8 77.2h1M75.3 86.5h1M65.1 85.7h1M96.7 89.8h1M73.6 83.7h1M75.7 87.9h1M114.2 79.9h1M94.7 81.0h1M116.5 88.0h1M117.2 87.9h1M88.7 86.8h1M113.3 89.5h1M70.8 91.0h1M68.5 81.3h1M69.4 88.5h1M105.0 84.6h1M113.9 92.1h1M110.8 88.6h1M108.8 79.0h1M133.1 82.7h1M87.9 85.5h1M119.1 81.8h1M67.2 90.7h1M66.7 90.5h1M73.8 89.5h1M61.3 89.4h1M64.6 87.9h1M139.1 80.9h1M121.3 82.1h1M79.1 86.2h1M85.9 78.1h1M113.3 71.5h1M116.7 84.7h1M113.0 83.4h1M83.2 84.1h1M104.1 83.4h1M74.8 90.7h1M87.6 86.2h1M82.2 79.7h1M117.3 79.1h1M130.4 81.5h1M115.9 84.5h1M105.1 87.1h1M116.7 86.6h1M105.3 90.8h1M65.2 90.7h1M78.3 94.5h1M89.2 97.3h1M66.9 90.1h1M122.5 78.5h1M73.5 89.1h1M77.5 86.8h1M123.3 82.0h1M100.0 85.8h1M115.8 76.3h1M105.2 77.1h1M81.9 86.8h1M99.2 90.9h1M107.1 90.0h1M89.7 86.6h1M111.1 88.4h1M70.5 83.0h1M101.4 87.6h1M71.0 91.7h1M108.8 87.4h1M127.2 84.5h1M96.2 87.5h1M114.2 70.8h1M113.6 82.3h1M123.3 84.6h1M109.6 86.7h1M112.7 88.8h1M98.9 86.1h1M107.1 87.1h1M89.0 90.8h1M76.1 87.9h1M103.7 87.0h1M112.3 82.5h1M122.7 75.9h1M61.6 89.6h1M67.0 87.3h1M107.4 82.7h1M118.3 86.1h1M89.1 88.5h1M121.6 89.6h1M96.8 79.9h1M103.2 87.3h1M119.8 79.4h1M81.8 85.0h1M121.7 75.2h1M84.8 88.0h1M90.5 82.3h1M100.1 95.1h1M93.6 94.5h1M87.8 85.9h1M102.8 81.9h1M126.1 84.0h1M115.2 89.9h1M75.7 93.4h1M98.3 89.9h1M66.5 94.8h1M81.4 87.9h1M82.7 87.9h1M63.9 93.6h1M121.9 90.4h1M73.1 89.0h1M89.5 97.9h1M105.8 82.4h1M82.8 90.0h1M91.0 89.2h1M88.6 87.9h1M142.5 81.7h1M137.1 83.7h1M121.6 82.0h1M129.2 85.8h1M89.9 88.9h1M71.4 87.6h1M123.0 78.3h1M89.2 82.2h1M71.1 91.0h1M65.3 88.2h1M91.9 86.8h1M76.2 89.8h1M100.6 85.0h1M127.2 84.0h1M88.9 81.5h1M96.2 83.6h1M110.7 83.2h1M95.7 86.9h1M79.2 85.5h1M105.9 90.7h1M94.2 87.8h1M98.5 89.8h1M87.7 89.4h1M90.0 96.3h1M96.6 87.6h1M80.1 90.9h1M70.2 92.0h1M111.2 91.9h1M65.8 94.2h1M88.4 86.1h1M126.8 85.6h1M96.8 83.3h1M80.6 84.3h1M106.4 85.9h1M79.7 91.9h1M116.4 88.2h1M110.8 82.3h1M115.9 85.8h1M61.8 91.2h1M116.6 92.7h1M66.9 88.3h1M74.1 85.8h1M63.2 94.0h1M71.6 87.7h1M82.2 94.2h1M72.6 89.6h1M87.7 93.0h1M97.4 94.4h1M95.2 84.4h1M106.1 90.3h1M89.9 94.8h1M101.6 85.9h1M124.7 84.0h1M79.8 78.0h1M102.8 86.4h1M72.6 80.0h1M118.3 78.1h1M81.6 96.3h1M81.2 89.9h1M114.8 89.8h1M135.1 81.0h1M102.4 88.1h1M119.2 85.7h1M74.8 97.8h1M70.8 85.0h1M99.9 86.5h1M87.7 94.8h1M72.7 87.1h1M100.2 90.4h1M96.2 85.4h1M84.2 88.7h1M94.0 83.4h1M64.3 83.7h1M127.2 80.8h1M105.3 83.0h1M94.6 90.6h1M68.3 92.7h1M80.1 86.8h1M107.6 91.0h1M75.1 94.7h1M64.9 92.3h1M94.4 94.8h1M99.1 88.9h1M89.6 91.0h1M105.6 85.8h1M114.1 91.1h1M124.5 81.6h1M93.8 90.2h1M108.0 85.2h1M85.3 79.8h1M110.0 87.7h1M64.4 86.8h1M143.9 72.6h1M76.1 86.2h1M67.0 85.1h1M66.9 89.6h1M117.5 90.0h1M91.9 83.4h1M112.8 84.1h1M71.7 87.9h1M99.3 98.4h1M95.9 79.2h1M89.1 101.4h1M120.6 80.0h1M95.2 89.7h1M112.8 93.4h1M85.2 89.6h1M81.1 82.8h1M99.6 90.1h1M68.4 85.3h1M71.3 90.5h1M87.2 99.3h1M105.7 85.1h1M125.0 85.7h1M78.5 93.0h1M117.7 85.6h1M103.6 74.0h1M104.8 90.8h1M97.2 83.9h1M65.0 91.8h1M102.1 86.9h1M82.9 85.8h1M73.4 81.8h1M128.0 79.8h1M92.6 83.6h1M67.9 88.9h1M109.8 84.7h1M112.9 88.4h1M110.8 84.2h1M147.7 75.6h1M72.2 91.8h1M68.4 83.1h1M80.7 87.3h1M110.6 78.7h1M73.7 89.4h1M66.3 88.2h1M92.1 84.6h1M129.3 83.8h1M122.2 83.7h1M68.7 92.6h1M109.0 90.3h1M67.7 85.7h1M105.8 82.5h1M100.3 87.4h1M80.0 87.3h1M117.6 87.7h1M115.8 87.1h1M67.2 88.3h1M72.1 93.2h1M109.9 83.9h1M69.6 89.8h1M64.0 90.1h1M95.3 87.0h1M84.3 99.0h1M97.5 85.9h1M102.8 81.5h1M152.5 77.3h1M74.2 92.6h1M79.0 83.9h1M103.8 92.9h1M88.0 83.7h1M87.5 82.9h1M79.0 81.4h1M104.7 87.0h1M67.8 82.6h1M107.3 88.7h1M68.6 96.0h1M105.0 77.0h1M110.5 84.0h1M77.5 88.4h1M126.6 88.4h1M100.7 89.7h1M151.6 74.4h1M152.6 72.0h1M75.1 78.6h1M81.5 85.0h1M80.7 85.5h1M70.8 84.5h1M135.1 82.1h1M68.5 92.2h1M81.7 80.3h1M102.5 82.9h1M95.1 89.7h1M85.4 89.6h1M100.6 90.5h1M90.2 84.7h1M88.7 92.8h1M68.5 89.3h1M76.6 80.7h1M98.7 91.2h1M67.9 91.3h1M113.7 88.0h1M82.5 86.6h1M78.2 90.8h1M112.1 84.9h1M68.4 85.0h1M93.5 73.9h1M102.0 86.9h1M126.7 82.7h1M70.9 84.7h1M111.2 91.8h1M106.7 87.4h1M72.5 93.4h1M78.3 90.3h1M74.7 93.4h1M109.7 82.0h1M87.7 82.1h1M88.6 93.2h1M68.8 90.3h1M106.5 87.8h1M72.5 88.2h1M137.0 75.8h1M100.8 91.6h1M66.9 83.5h1M99.0 86.3h1M149.2 76.3h1M111.7 80.3h1M91.1 94.7h1M64.9 84.3h1M88.0 78.0h1M90.8 87.6h1M118.5 86.9h1M107.2 89.4h1M127.5 78.5h1M88.9 84.3h1M77.3 92.4h1M65.4 91.9h1M69.4 96.9h1M89.0 88.6h1M91.9 85.5h1M85.9 84.6h1M81.6 91.3h1M81.2 90.0h1M100.4 81.4h1M105.7 82.6h1M73.7 98.8h1M92.1 88.1h1M100.3 82.0h1M62.3 89.9h1M108.2 93.1h1M132.1 78.5h1M73.1 85.2h1M70.4 89.7h1M104.4 87.3h1M87.0 82.8h1M90.7 86.3h1M134.2 76.8h1M94.1 88.6h1M74.8 86.1h1M78.0 82.1h1M110.2 87.6h1M120.2 79.9h1M104.0 86.1h1M75.4 77.1h1M118.1 80.6h1M71.8 88.6h1M111.2 87.7h1M115.7 85.4h1M91.5 80.1h1M108.0 88.8h1M64.0 90.9h1M89.4 91.9h1M73.6 91.4h1M93.4 87.6h1M79.5 87.2h1M99.3 84.5h1M111.1 90.0h1M93.9 88.0h1M109.2 85.0h1M129.8 79.1h1M98.5 87.2h1M112.6 85.3h1M85.4 96.3h1M76.1 87.5h1M94.2 91.0h1M121.9 80.3h1M79.0 80.2h1M110.5 87.1h1M105.4 83.4h1M112.5 76.7h1M71.1 88.5h1M87.4 85.2h1M104.5 86.5h1M103.1 89.4h1M103.0 86.1h1M125.4 84.3h1M68.0 85.4h1M120.4 82.9h1M139.2 76.2h1M100.7 84.1h1M117.1 85.7h1M76.2 93.2h1M105.8 85.7h1M144.9 77.9h1M122.1 82.7h1M73.2 88.8h1M97.2 97.5h1M103.2 82.7h1M82.3 92.8h1M70.7 87.5h1M74.1 95.6h1M68.3 89.2h1M73.5 82.2h1M68.8 80.8h1M66.8 86.2h1M69.3 96.0h1M64.2 86.5h1M77.6 86.8h1M88.7 91.0h1M93.4 79.8h1M87.1 84.7h1M115.5 85.3h1M129.6 84.8h1M112.7 89.5h1M105.7 80.0h1M68.1 92.3h1M72.6 91.9h1M65.1 91.5h1M78.1 90.4h1M82.0 95.9h1M81.6 94.1h1M72.4 83.4h1M143.7 75.8h1M110.6 86.5h1M85.4 82.9h1M107.9 91.2h1M63.5 89.8h1M72.9 95.7h1M81.6 89.1h1M106.0 88.0h1M63.6 86.7h1M95.6 96.9h1M77.3 91.8h1M105.7 95.8h1M84.5 87.8h1M86.0 83.3h1M120.9 84.3h1M91.0 91.6h1M117.5 84.7h1M80.6 92.8h1M70.1 87.9h1M84.7 82.4h1M115.6 85.5h1M88.8 88.7h1M79.0 88.9h1M113.0 76.8h1M90.8 89.1h1M94.8 83.8h1M118.3 81.4h1M71.2 89.7h1M91.9 86.8h1M107.0 79.7h1M112.4 86.0h1M102.0 89.3h1M77.2 81.6h1M111.0 91.6h1M120.8 80.5h1M66.3 92.3h1M115.5 84.1h1M115.4 85.9h1M90.9 91.6h1M63.3 85.0h1M96.3 84.1h1M81.5 86.8h1M99.0 86.7h1M109.2 86.2h1M64.0 90.0h1M114.4 81.6h1M109.6 78.7h1M102.1 89.2h1M76.9 86.9h1M90.1 86.8h1M111.9 85.6h1M94.6 85.5h1M114.6 86.7h1M65.8 94.9h1M82.2 84.5h1M65.5 86.3h1M118.2 94.4h1M91.5 102.2h1M102.8 86.3h1M141.0 79.3h1M77.1 88.0h1M73.7 91.0h1M101.5 88.4h1M93.4 87.6h1M64.3 90.2h1M74.5 87.9h1M94.0 91.9h1M116.9 78.0h1M114.0 81.2h1M82.9 86.2h1M91.5 86.2h1M100.6 83.6h1M133.7 81.9h1M72.4 93.5h1M95.5 84.0h1M153.7 72.6h1M109.8 77.6h1M102.4 89.2h1M116.6 87.2h1M78.5 91.2h1M125.1 76.2h1M95.5 82.2h1M100.5 92.5h1M85.3 79.5h1M98.7 89.7h1M68.1 88.4h1M104.0 91.3h1M94.9 94.0h1M98.3 83.3h1M78.1 95.1h1M72.1 86.2h1M109.5 79.8h1M83.4 91.7h1M78.2 81.3h1M119.8 91.2h1M92.2 87.4h1M91.2 90.1h1M66.4 90.4h1M101.6 97.2h1M87.5 90.3h1M107.2 78.5h1M77.9 89.0h1M91.6 93.9h1M101.0 81.7h1M110.7 88.3h1M106.1 92.1h1M100.1 86.5h1M90.4 90.8h1M119.7 80.0h1M90.1 88.1h1M109.3 79.1h1M119.0 81.9h1M103.7 87.2h1M67.3 101.3h1M106.5 81.9h1M92.5 98.5h1M100.3 80.9h1M70.3 86.8h1M123.1 80.0h1M64.7 88.7h1M92.1 84.7h1M64.5 82.0h1M94.4 89.4h1M83.7 92.4h1M108.9 85.8h1M86.0 83.2h1M90.1 83.1h1M80.8 83.7h1M65.8 89.6h1M127.1 88.0h1M98.2 90.3h1M111.6 78.4h1M88.4 95.2h1M105.0 88.1h1M96.8 88.2h1M89.8 93.1h1M126.9 82.3h1M85.2 87.0h1M71.3 85.5h1M95.3 80.1h1M100.1 88.1h1M127.4 86.1h1M148.7 77.6h1M120.3 79.0h1M84.2 79.5h1M82.6 93.0h1M80.6 90.0h1M110.1 87.2h1M70.3 85.1h1M86.6 83.3h1M98.7 93.6h1M71.7 91.7h1M68.3 95.0h1M108.4 80.6h1M130.0 89.5h1M117.1 83.2h1M61.7 87.0h1M91.5 79.7h1M86.6 84.1h1M148.5 75.1h1M82.3 86.2h1M97.5 87.5h1M100.4 84.2h1M83.3 87.5h1M77.0 89.1h1M93.5 88.3h1M121.5 77.9h1M86.7 89.2h1M79.7 94.6h1M123.8 88.9h1M128.9 76.7h1M120.9 83.1h1M111.0 79.8h1M97.2 80.5h1M126.5 87.0h1M81.7 90.7h1M65.8 86.9h1M85.0 91.7h1M104.2 90.4h1M121.4 86.4h1M92.9 85.3h1M149.8 75.2h1M102.7 83.3h1M83.9 85.1h1M104.6 85.7h1M90.3 83.4h1M65.4 93.5h1M92.3 92.2h1M81.2 89.5h1M104.1 95.6h1M91.0 84.9h1M126.0 81.0h1M80.7 95.4h1M79.1 83.8h1M116.1 88.8h1M121.9 84.7h1M89.2 87.2h1M145.4 73.7h1M87.9 91.4h1M82.2 81.0h1M109.6 80.4h1M114.3 87.2h1M95.6 80.7h1M82.2 81.4h1M97.8 88.0h1M132.1 81.1h1M87.3 89.8h1M106.0 91.5h1M115.4 82.8h1M64.4 92.9h1M139.9 76.6h1M111.1 83.9h1M85.8 85.7h1M104.6 96.9h1M132.0 80.6h1M97.1 78.3h1M96.6 89.0h1M92.8 79.9h1M88.1 84.2h1M74.2 89.3h1M78.5 86.8h1M99.2 86.3h1M107.9 94.2h1M151.6 75.6h1M74.2 95.3h1M101.9 85.6h1M90.6 83.7h1M107.4 87.2h1M99.3 81.7h1M107.1 88.4h1M75.8 93.7h1M81.2 94.6h1M74.1 88.8h1M75.5 76.4h1M112.1 86.9h1M106.1 88.7h1M78.3 83.8h1M140.7 73.6h1M125.7 81.9h1M109.6 86.7h1M124.0 83.9h1M67.9 85.2h1M108.7 88.2h1M83.8 88.5h1M83.0 88.7h1M70.5 83.0h1M62.4 89.6h1M92.9 91.4h1M68.1 92.0h1M102.2 89.9h1M72.7 90.3h1M76.9 85.5h1M117.3 75.4h1M106.7 84.6h1M108.0 85.7h1M147.3 75.0h1M115.1 82.1h1M82.3 81.8h1M80.1 87.5h1M141.7 79.4h1M92.8 90.3h1M118.8 80.2h1M102.7 85.2h1M109.8 82.2h1M93.3 97.9h1M72.9 91.1h1M91.0 85.2h1M91.7 90.7h1M89.8 88.1h1M139.0 73.9h1M114.9 80.1h1M106.1 86.9h1M114.0 87.6h1M64.8 94.5h1M89.0 94.1h1M95.0 84.1h1M83.7 87.1h1M126.1 76.0h1M86.0 94.9h1M113.5 76.5h1M95.1 94.5h1M100.1 83.0h1M129.3 80.9h1M102.0 86.5h1M99.7 82.1h1M92.4 78.1h1M84.6 89.9h1M122.9 77.7h1M86.9 100.5h1M74.0 96.5h1M75.1 86.1h1M113.0 84.6h1M79.1 83.7h1M101.0 82.4h1M80.2 81.5h1M128.5 78.5h1M80.3 88.8h1M131.6 78.2h1M89.4 90.7h1M113.4 92.3h1M105.6 89.0h1M107.1 88.7h1M132.3 75.9h1M140.2 76.1h1M132.2 83.5h1M81.4 87.3h1M101.5 80.3h1M66.1 82.8h1M88.2 84.4h1M87.7 81.8h1M87.6 88.7h1M78.8 93.9h1M95.0 86.0h1M72.9 95.2h1M63.0 93.6h1M116.0 84.3h1M131.0 86.9h1M70.5 87.6h1M96.9 82.9h1M64.0 85.7h1M96.8 81.5h1M95.8 95.1h1M84.4 83.4h1M100.4 86.0h1M91.2 92.9h1M91.2 81.8h1M76.8 85.3h1M111.3 81.3h1M99.7 83.3h1M100.4 88.9h1M75.0 89.7h1M82.9 99.3h1M108.7 86.5h1M87.7 88.6h1M113.4 79.1h1M95.9 80.7h1M81.1 87.7h1M88.8 92.6h1M63.9 83.8h1M120.5 79.2h1M136.9 77.2h1M75.4 90.6h1M79.9 83.4h1M152.6 73.4h1M90.8 87.1h1M88.4 86.4h1M93.8 90.7h1M93.2 82.0h1M84.3 87.1h1M111.3 84.0h1M103.3 87.0h1M94.4 89.9h1M92.3 93.7h1M107.7 88.4h1M91.6 88.3h1M97.2 80.6h1M102.3 84.8h1M108.1 84.9h1M71.8 85.8h1M99.3 81.4h1M81.9 89.9h1M82.9 88.6h1M83.1 84.0h1M72.7 93.5h1M95.3 94.5h1M86.9 98.5h1M96.1 89.9h1M101.8 93.1h1M113.0 87.6h1M71.6 88.8h1M67.4 86.3h1M114.9 81.4h1M85.4 95.7h1M102.3 86.6h1M91.9 81.8h1M109.2 91.3h1M108.3 92.7h1M79.1 91.5h1M73.2 87.5h1M107.4 81.8h1M107.8 82.9h1M91.0 99.6h1M120.1 79.2h1M89.1 82.3h1M104.6 85.5h1M105.0 85.9h1M76.2 87.2h1M76.7 94.3h1M105.8 88.8h1M114.5 85.3h1M119.2 88.3h1M77.2 88.9h1M61.8 85.2h1M101.0 81.1h1M79.8 89.3h1M82.6 91.2h1M67.2 87.7h1M68.3 86.2h1M72.7 89.0h1M98.7 81.9h1M74.6 97.3h1M88.2 84.4h1M68.7 86.5h1M123.7 85.5h1M80.7 84.0h1M68.3 92.7h1M62.8 85.4h1M75.2 85.4h1M80.9 86.3h1M97.3 77.0h1M88.8 87.2h1M85.7 83.1h1M97.9 79.1h1M85.9 88.4h1M92.5 80.6h1M66.7 82.5h1M117.0 87.3h1M90.7 90.0h1M121.9 85.2h1M91.1 86.6h1M73.2 93.2h1M122.1 85.7h1M80.9 94.5h1M105.6 89.5h1M64.6 84.2h1M85.4 90.8h1M108.0 84.3h1M102.4 91.2h1M63.2 94.5h1M107.8 79.9h1M87.6 89.5h1M91.2 84.3h1M75.3 93.4h1M94.0 86.2h1M96.9 88.0h1M111.7 87.9h1M104.1 88.6h1M97.0 88.8h1M111.1 82.3h1M91.1 88.9h1M139.8 77.0h1M110.1 86.3h1M82.4 80.8h1M81.0 83.1h1M86.9 96.1h1M94.3 84.4h1M65.7 94.3h1M94.3 89.0h1M80.6 82.8h1M96.3 78.1h1M65.3 89.4h1M79.7 85.5h1M66.3 87.1h1M103.6 88.3h1M97.4 98.3h1M110.5 84.9h1M149.8 79.9h1M92.5 84.0h1M76.7 90.5h1M65.6 96.8h1M91.3 91.4h1M93.2 89.3h1M110.2 82.6h1M63.7 94.0h1M110.9 83.0h1M75.7 90.0h1M104.5 85.1h1M112.9 86.4h1M99.3 85.3h1M119.9 81.5h1M90.0 87.2h1M77.5 78.8h1M104.6 85.4h1M107.4 86.8h1M79.2 88.1h1M109.3 89.8h1M92.8 92.0h1M83.9 86.4h1M90.4 92.1h1M114.6 83.9h1M88.0 81.6h1M106.9 80.4h1M69.3 87.3h1M108.2 81.4h1M85.1 93.3h1M96.7 80.9h1M103.1 91.7h1M65.3 90.2h1M67.6 87.0h1M119.2 75.8h1M76.7 94.0h1M85.7 83.2h1M68.4 85.0h1M88.2 89.6h1M76.4 85.6h1M83.5 83.6h1M122.1 88.1h1M85.0 93.2h1M93.7 88.4h1M90.3 86.7h1M106.3 94.1h1M112.5 83.2h1M84.6 84.8h1M94.1 81.1h1M69.1 86.8h1M72.4 95.5h1M93.9 79.1h1M115.7 93.6h1M63.0 94.1h1M106.6 87.5h1M88.7 82.9h1M62.8 87.1h1M75.1 89.3h1M100.4 81.3h1M65.8 90.9h1M76.5 81.4h1M98.5 92.4h1M86.4 95.5h1M108.9 88.7h1M79.2 98.0h1M79.6 85.4h1M63.3 86.6h1M117.8 84.6h1M111.0 76.9h1M80.4 93.3h1M94.2 86.3h1M106.7 87.9h1M94.5 88.7h1M139.5 79.5h1M95.7 87.9h1M81.4 91.5h1M83.3 88.8h1M67.7 99.1h1M100.6 89.9h1M124.8 80.8h1M65.1 88.4h1M94.3 93.2h1M90.5 86.1h1M87.2 94.9h1M88.7 94.6h1M80.5 82.4h1M87.1 88.1h1M130.0 78.5h1M99.4 88.3h1M70.8 85.4h1M100.8 88.6h1M107.7 89.2h1M113.9 83.5h1M64.2 88.3h1M101.7 86.8h1M84.4 92.5h1M137.8 75.6h1M76.0 93.2h1M103.7 89.0h1M76.4 97.0h1M95.7 89.4h1M95.8 91.6h1M130.6 81.3h1M107.8 87.4h1M75.7 91.6h1M97.9 87.1h1M103.8 84.1h1M70.5 93.2h1M76.4 96.3h1M138.1 76.7h1M81.9 82.1h1M80.7 75.7h1M87.8 98.4h1M89.1 88.3h1M104.0 87.5h1M83.7 82.5h1M102.5 92.0h1M66.7 83.4h1M103.3 86.0h1M128.5 82.0h1M77.2 87.6h1M67.5 95.6h1M89.2 95.2h1M90.6 89.1h1M104.8 80.2h1M115.8 82.8h1M98.0 88.2h1M93.6 81.0h1M67.6 81.7h1M105.3 96.3h1M137.6 73.0h1M118.6 78.6h1M80.7 87.1h1M101.7 97.2h1M125.0 79.7h1M101.8 90.3h1M120.7 81.5h1M112.7 89.2h1M91.0 86.6h1M86.8 92.3h1M126.4 83.5h1M88.6 87.0h1M123.4 81.6h1M96.5 94.6h1M125.3 75.6h1M93.0 83.0h1M112.6 81.6h1M80.2 87.7h1M70.9 94.6h1M75.3 92.4h1M105.3 77.9h1M95.0 86.2h1M77.8 77.4h1M81.4 89.7h1M97.8 85.9h1M81.5 84.0h1M101.3 91.2h1M95.2 86.6h1M74.3 93.9h1M85.4 90.6h1M132.5 81.4h1M66.1 91.6h1M75.7 78.2h1M86.4 92.9h1M99.4 90.0h1M117.1 91.4h1M103.0 88.2h1M103.9 82.7h1M135.1 76.6h1M89.8 91.5h1M115.7 82.9h1M66.8 86.7h1M112.8 86.2h1M96.5 92.6h1M73.0 85.9h1M88.8 89.1h1M113.6 83.4h1M131.6 76.9h1M106.7 78.8h1M67.4 89.4h1M76.2 91.5h1M87.7 87.2h1M84.8 82.4h1M95.4 88.8h1M63.2 92.1h1M94.0 86.3h1M90.1 90.9h1M122.9 80.2h1M72.3 89.3h1M115.5 79.2h1M78.8 79.8h1M81.7 91.8h1M70.5 89.9h1M95.0 83.8h1M86.0 92.8h1M96.3 91.2h1M121.5 83.4h1M113.2 78.9h1M113.7 87.4h1M79.1 74.1h1M87.5 86.8h1M93.2 78.2h1M111.5 82.1h1M93.9 89.6h1M120.8 84.9h1M79.1 92.6h1M74.8 84.8h1M102.2 78.1h1M63.7 77.3h1M84.0 85.2h1M111.4 85.4h1M78.3 92.2h1M115.7 82.3h1M93.4 90.2h1M85.6 91.5h1M77.0 86.4h1M93.5 89.0h1M81.9 85.9h1M82.8 89.5h1M123.5 87.8h1M89.1 83.8h1M99.8 96.2h1M77.9 95.3h1M68.0 86.0h1M99.9 86.8h1M91.4 92.3h1M147.5 78.2h1M64.4 88.7h1M99.3 87.2h1M134.3 88.1h1M129.1 82.5h1M126.8 79.0h1M108.5 88.3h1M154.3 76.4h1M116.5 88.4h1M91.4 86.4h1M73.6 88.5h1M146.2 74.8h1M95.7 85.3h1M104.3 87.5h1M95.9 86.9h1M91.6 88.6h1M70.0 79.9h1M116.8 84.4h1M96.3 84.4h1M83.7 87.4h1M103.6 98.6h1M114.2 84.6h1M82.4 84.1h1M117.2 82.5h1M99.5 87.8h1M85.2 87.9h1M74.6 81.6h1M71.8 87.6h1M69.0 94.7h1M82.9 73.9h1M70.8 86.3h1M70.2 96.5h1M98.9 86.5h1M120.8 90.0h1M63.8 86.6h1M111.9 84.3h1M77.3 98.4h1M122.1 80.8h1M108.0 82.0h1M81.5 87.2h1M83.9 89.6h1M63.2 91.3h1M114.0 90.8h1M81.3 80.1h1M139.9 71.7h1M99.7 83.6h1M70.5 99.0h1M106.7 87.2h1M73.8 82.3h1M69.0 91.2h1M112.5 84.3h1M84.8 86.9h1M108.5 78.9h1M77.3 82.5h1M112.2 86.3h1M135.7 78.5h1M86.3 81.3h1M99.7 82.4h1M120.6 79.6h1M126.3 81.3h1M65.5 88.3h1M108.8 87.0h1M66.2 87.8h1M112.6 85.3h1M116.3 89.7h1M97.8 87.0h1M111.3 89.9h1M82.4 95.3h1M94.0 82.5h1M95.0 92.2h1M94.8 95.5h1M130.8 80.2h1M108.5 86.4h1M107.8 80.1h1M102.6 83.2h1M92.1 87.3h1M114.2 81.4h1M101.2 83.2h1M94.2 86.3h1M76.9 81.2h1M62.0 91.4h1M75.2 96.3h1M89.3 84.0h1M134.7 81.3h1M115.4 82.6h1M87.7 87.7h1M71.7 86.1h1M71.0 83.5h1M103.2 92.2h1M65.2 85.0h1M125.9 85.9h1M104.4 84.1h1M74.4 86.9h1M111.4 79.6h1M68.5 89.8h1M135.9 74.8h1M99.7 92.8h1M76.0 89.4h1M134.4 85.3h1M95.2 83.9h1M119.5 85.9h1M81.3 92.2h1M84.2 92.6h1M87.6 81.9h1M90.0 87.4h1M140.2 79.3h1M82.6 84.3h1M77.2 90.7h1M61.9 91.0h1M67.1 96.9h1M123.0 80.1h1M117.0 80.2h1M82.5 83.9h1M96.4 86.5h1M114.7 81.4h1M121.1 87.2h1M94.4 84.6h1M119.2 75.4h1M115.8 82.8h1M89.7 90.6h1M66.6 88.0h1M82.7 97.6h1M106.5 81.7h1M140.1 80.9h1M89.5 94.4h1M94.2 92.8h1M83.0 90.8h1M104.3 82.8h1M119.3 75.9h1M112.4 80.5h1M89.9 85.7h1M87.6 88.7h1M75.9 81.5h1M86.9 88.5h1M105.1 81.6h1M111.3 83.5h1M73.4 83.4h1M67.3 86.9h1M76.4 94.3h1M90.0 91.1h1M73.0 90.3h1M75.1 90.3h1M74.5 88.6h1M117.9 86.8h1M72.9 96.0h1M95.5 95.5h1M119.2 83.6h1M125.4 85.4h1M140.2 72.9h1M77.9 92.9h1M80.2 80.3h1M99.8 79.8h1M91.5 89.5h1M98.4 84.5h1M98.7 81.3h1M103.5 89.5h1M82.2 97.1h1M75.4 89.1h1M86.8 85.0h1M116.0 82.6h1M64.7 87.0h1M114.3 83.0h1M102.0 82.4h1M84.9 91.7h1M87.6 90.2h1M86.3 86.7h1M104.8 88.6h1M66.3 88.0h1M72.9 95.3h1M71.2 91.4h1M79.9 95.9h1M101.9 78.6h1M78.7 91.7h1M113.6 86.4h1M114.6 83.9h1M99.1 88.5h1M89.3 87.8h1M104.8 84.0h1M78.6 86.3h1M108.6 91.0h1M81.9 86.5h1M87.2 89.9h1M97.7 88.2h1M116.5 77.7h1M88.2 84.8h1M97.1 87.7h1M92.7 85.1h1M119.2 79.6h1M110.8 80.7h1M71.1 86.4h1M93.9 95.3h1M141.1 79.6h1M78.1 77.6h1M67.6 98.2h1M111.2 81.5h1M73.2 94.8h1M99.6 84.3h1M88.6 88.4h1M113.4 75.6h1M135.6 79.9h1M98.8 85.6h1M104.1 80.7h1M95.7 80.5h1M74.9 89.7h1M107.5 76.1h1M88.9 101.2h1M89.0 85.8h1M64.7 92.9h1M104.0 86.2h1M91.3 85.8h1M104.7 92.7h1M119.9 80.9h1M113.8 80.4h1M108.9 85.1h1M90.1 90.3h1M92.1 87.7h1M68.8 91.0h1M76.8 87.3h1M104.7 89.7h1M103.6 81.2h1M106.8 84.7h1M132.4 79.4h1M111.4 91.1h1M104.3 87.6h1M73.4 90.1h1M83.6 79.9h1M105.8 84.2h1M113.3 86.6h1M66.4 93.3h1M82.8 92.9h1M122.8 86.4h1M81.0 82.5h1M98.7 97.9h1M67.2 84.9h1M113.8 85.9h1M93.9 88.6h1M128.7 83.0h1M110.4 86.0h1M120.7 75.2h1M67.1 90.3h1M77.2 93.1h1M102.8 88.1h1M95.4 75.9h1M73.6 96.5h1M65.2 81.5h1M132.4 74.6h1M125.1 81.1h1M82.2 91.7h1M101.7 79.1h1M96.9 91.8h1M102.0 86.7h1M81.7 88.0h1M70.3 84.5h1M86.2 92.1h1M78.0 88.5h1M90.8 82.7h1M103.6 80.7h1M63.1 95.2h1M118.8 86.8h1M62.2 88.8h1M92.1 95.1h1M87.1 93.3h1M130.6 79.3h1M90.9 91.4h1M72.5 94.2h1M93.7 83.3h1M79.5 85.2h1M107.8 88.2h1M77.0 81.8h1M82.8 86.7h1M108.9 89.6h1M121.5 87.4h1M68.3 88.5h1M67.9 87.8h1M84.8 90.7h1M92.5 91.6h1M85.3 83.1h1M72.2 92.3h1M91.4 83.1h1M90.4 87.6h1M123.0 80.8h1M62.6 90.8h1M103.6 85.6h1M116.1 79.0h1M124.0 73.9h1M82.5 83.8h1M86.5 80.1h1M68.7 89.5h1M102.8 86.3h1M94.0 89.4h1M79.5 90.7h1M111.5 86.1h1M72.4 85.4h1M112.8 89.5h1M88.1 83.7h1M89.0 93.6h1M66.1 86.8h1M135.9 83.3h1M99.6 84.2h1M89.0 93.3h1M95.2 79.7h1M112.6 88.7h1M69.1 89.9h1M93.2 86.2h1M116.1 85.1h1M95.1 91.4h1M127.7 84.1h1M126.0 83.3h1M134.3 83.7h1M123.4 84.5h1M67.4 92.0h1M105.3 96.4h1M90.5 89.5h1M93.5 90.9h1M99.2 76.6h1M108.9 81.5h1M121.1 77.0h1M141.2 73.4h1M98.0 92.4h1M63.7 92.5h1M104.5 86.8h1M104.3 89.7h1M114.6 86.0h1M94.5 83.0h1M105.7 86.2h1M123.1 84.2h1M63.5 87.1h1M111.7 89.4h1M75.5 85.5h1M121.1 86.0h1M123.2 86.1h1M79.2 84.8h1M81.0 90.0h1M98.2 86.6h1M103.6 86.1h1M67.2 84.9h1M68.4 86.9h1M98.3 81.0h1M83.8 76.8h1M93.1 93.5h1M77.0 89.3h1M88.1 92.5h1M117.4 84.8h1M106.5 85.6h1M141.5 82.0h1M118.0 73.4h1M114.4 85.5h1M85.0 99.2h1M93.0 92.1h1M67.1 92.5h1M85.0 83.7h1M149.8 77.8h1M94.2 77.0h1M112.4 84.0h1M124.9 80.3h1M71.0 89.8h1M125.5 84.4h1M100.1 82.4h1M88.8 89.1h1M76.1 81.6h1M95.2 73.0h1M77.8 83.7h1M79.5 85.6h1M70.3 94.2h1M69.2 84.5h1M116.5 90.0h1M127.7 83.8h1M103.6 82.9h1M65.5 86.1h1M68.1 82.9h1M86.7 90.5h1M119.1 85.4h1M91.9 88.9h1M69.7 90.5h1M119.1 80.3h1M70.5 90.3h1M96.4 93.9h1M105.0 83.6h1M77.9 90.7h1M70.2 88.4h1M80.3 88.3h1M63.7 86.0h1M113.0 85.3h1M81.1 82.7h1M73.3 91.9h1M77.1 87.9h1M83.6 84.8h1M81.6 88.1h1M112.9 85.5h1M81.6 84.5h1M109.6 87.8h1M116.8 86.2h1M91.7 91.0h1M106.3 85.8h1M119.8 76.9h1M81.3 95.7h1M108.7 88.9h1M76.5 96.4h1M82.8 86.6h1M113.2 79.2h1M73.7 86.2h1M100.2 99.3h1M115.3 86.3h1M147.8 76.9h1M88.3 85.1h1M81.0 94.7h1M105.1 79.3h1M112.0 76.8h1M82.6 89.6h1M84.1 86.1h1M75.8 81.8h1M108.2 85.9h1M103.3 83.8h1M71.4 84.5h1M63.7 86.4h1M97.3 94.0h1M97.9 77.0h1M114.8 79.4h1M115.4 82.5h1M67.1 93.4h1M88.6 80.3h1M115.5 79.3h1M92.1 93.5h1M81.9 91.0h1M83.1 92.3h1M76.5 98.5h1M79.7 89.7h1M74.1 86.6h1M84.8 88.6h1M67.0 90.0h1M116.3 84.1h1M125.4 82.0h1M96.2 80.4h1M133.1 82.8h1M92.7 87.4h1M100.5 86.7h1M99.2 85.3h1M86.6 86.5h1M126.3 85.5h1M68.5 93.9h1M63.6 91.9h1M91.1 84.0h1M129.3 79.2h1M111.2 87.6h1M105.8 83.1h1M101.7 88.2h1M106.5 85.8h1M79.6 85.7h1M114.2 79.7h1M132.7 80.3h1M110.3 81.7h1M92.6 91.4h1M124.9 79.9h1M101.8 88.1h1M107.9 84.7h1M101.0 89.3h1M88.9 89.3h1M99.5 82.7h1M117.6 82.6h1M108.4 84.1h1M103.9 90.0h1M127.7 79.8h1M152.2 73.0h1M69.6 85.2h1M98.6 71.3h1M104.1 83.8h1M64.0 84.3h1M90.1 91.5h1M103.7 91.6h1M144.7 77.9h1M68.3 93.1h1M72.8 88.0h1M121.2 86.4h1M106.9 87.6h1M106.2 96.2h1M96.8 90.2h1M79.9 94.7h1M102.0 80.2h1M66.8 92.5h1M88.5 83.0h1M61.1 91.3h1M114.5 85.1h1M92.3 98.6h1M112.9 77.8h1M94.8 91.9h1M82.4 89.7h1M93.4 84.7h1M117.7 85.1h1M67.3 88.0h1M107.5 88.9h1M100.9 82.3h1M90.6 87.2h1M117.0 84.2h1M135.2 85.3h1M91.8 85.7h1M61.7 94.6h1M137.0 71.6h1M99.8 91.9h1M107.1 90.2h1M109.7 88.2h1M106.0 90.9h1M77.0 81.2h1M91.6 87.4h1M109.2 82.4h1M106.9 85.2h1M64.7 83.8h1M68.4 86.4h1M86.3 91.4h1M135.9 77.8h1M84.4 94.3h1M86.1 83.0h1M75.6 89.2h1M91.2 89.7h1M127.1 76.7h1M64.9 97.4h1M92.5 88.7h1M112.2 79.9h1M67.2 92.6h1M105.3 72.4h1M82.5 81.9h1M93.4 84.6h1M81.1 86.8h1M80.0 82.8h1M90.4 93.6h1M93.2 96.1h1M71.5 93.2h1M73.7 90.7h1M72.7 90.0h1M109.2 85.0h1M134.0 78.8h1M112.3 90.0h1M63.4 91.2h1M107.5 83.2h1M70.3 92.5h1M84.0 79.5h1M91.4 88.7h1M112.4 91.4h1M131.6 77.7h1M113.8 87.0h1M69.8 87.5h1M107.9 84.8h1M100.9 80.3h1M80.3 96.1h1M79.6 91.9h1M128.1 85.2h1M118.9 86.0h1M92.9 85.4h1M119.5 81.6h1M63.2 92.1h1M82.8 76.1h1M134.3 86.9h1M64.6 87.0h1M72.7 97.2h1M103.5 79.1h1M88.7 78.5h1M111.5 78.7h1M105.1 77.5h1M107.4 90.0h1M102.5 89.8h1M96.8 89.7h1M149.1 75.6h1M151.4 72.5h1M96.2 85.8h1M68.1 87.9h1M74.8 95.0h1M108.4 79.6h1M70.2 87.2h1M109.5 82.0h1M103.5 91.8h1M119.6 84.6h1M68.3 86.6h1M124.2 91.4h1M108.7 87.2h1M88.5 85.7h1M110.0 84.1h1M110.9 91.4h1M115.2 85.7h1M152.4 76.9h1M78.4 93.3h1M77.1 92.5h1M106.2 85.0h1M80.6 87.9h1M91.4 90.9h1M126.0 82.8h1M102.4 86.7h1M108.6 89.6h1M120.6 81.8h1M103.0 90.4h1M95.7 92.8h1M152.4 70.5h1M91.8 94.1h1M124.0 84.5h1M92.4 87.6h1M88.9 87.4h1M90.6 78.6h1M74.1 85.0h1M84.7 89.2h1M99.5 83.6h1M84.5 87.8h1M101.5 91.3h1M111.1 84.0h1M87.4 90.6h1M63.5 93.0h1M121.0 88.3h1M115.7 75.7h1M118.8 90.8h1M102.1 84.1h1M80.7 82.6h1M108.8 95.1h1M90.9 86.4h1M80.3 96.3h1M81.6 91.2h1M127.2 81.4h1M102.3 77.6h1M91.2 85.5h1M95.4 86.9h1M98.4 84.6h1M68.4 88.6h1M111.4 84.6h1M81.9 86.9h1M72.9 86.0h1M64.1 89.6h1M85.3 83.4h1M119.8 85.6h1M95.1 95.4h1M105.0 92.4h1M91.7 80.5h1M128.9 81.7h1M72.0 86.6h1M87.6 97.0h1M115.2 74.1h1M116.7 78.6h1M103.4 87.3h1M105.9 84.2h1M64.7 94.2h1M64.5 95.2h1M93.0 89.6h1M81.7 85.6h1M115.3 86.4h1M105.1 86.5h1M113.5 82.1h1M117.7 80.9h1M65.1 96.8h1M67.5 92.5h1M62.3 87.1h1M82.4 90.1h1M116.5 85.9h1M141.5 77.3h1M73.5 88.5h1M90.8 91.2h1M111.7 83.4h1M97.5 84.5h1M83.1 89.1h1M110.9 83.3h1M94.1 86.1h1M67.1 95.2h1M92.2 85.3h1M68.3 95.6h1M64.7 89.8h1M71.3 93.6h1M97.3 87.7h1M105.6 92.1h1M121.7 84.1h1M84.7 81.2h1M75.6 92.8h1M88.7 85.1h1M65.6 89.9h1M73.1 88.0h1M81.5 81.5h1M113.1 84.2h1M83.2 98.5h1M96.0 86.9h1M95.1 81.2h1M81.1 91.8h1M105.5 82.7h1M135.1 83.5h1M86.0 91.0h1M65.3 94.0h1M111.8 86.2h1M114.0 89.1h1M114.5 81.6h1M111.0 91.5h1M108.1 87.1h1M103.9 82.9h1M65.2 88.2h1M78.0 85.1h1M98.1 86.9h1M148.7 78.4h1M79.4 81.3h1M106.8 85.9h1M71.6 95.2h1M128.5 84.8h1M94.7 83.1h1M139.1 79.6h1M107.6 87.5h1M71.5 84.5h1M101.5 79.9h1M93.6 91.7h1M70.5 82.7h1M91.4 91.1h1M67.3 89.0h1M71.3 91.8h1M103.2 86.0h1M116.3 78.4h1M67.4 81.7h1M119.6 78.7h1M82.9 84.6h1M81.7 85.8h1M101.5 94.1h1M121.0 79.3h1M112.1 87.8h1M122.0 81.4h1M65.9 86.5h1M88.2 81.7h1M60.9 95.2h1M78.6 95.7h1M122.7 83.8h1M133.9 74.4h1M66.2 95.5h1M70.2 86.9h1M98.9 84.5h1M96.3 90.1h1M86.9 93.7h1M88.0 88.2h1M83.6 81.4h1M73.4 79.8h1M119.9 85.2h1M100.0 89.0h1M80.8 91.7h1M69.0 77.8h1M110.4 75.1h1M106.5 85.3h1M92.4 93.7h1M93.5 85.6h1M112.1 83.3h1M66.4 90.0h1M81.0 97.4h1M117.0 85.0h1M117.8 85.9h1M96.9 90.5h1M76.2 86.9h1M100.2 81.7h1M96.9 90.0h1M63.7 80.3h1M86.6 92.2h1M115.2 76.5h1M124.5 83.2h1M78.8 86.5h1M111.6 81.4h1M74.5 92.3h1M118.2 88.5h1M86.1 88.5h1M105.2 90.7h1M74.7 93.0h1M73.5 84.6h1M90.2 81.7h1M103.7 88.8h1M121.2 84.5h1M127.2 84.8h1M98.3 85.0h1M87.4 85.5h1M91.6 87.8h1M147.4 76.1h1M84.0 78.2h1M107.4 84.9h1M145.9 77.2h1M67.2 83.9h1M89.4 85.1h1M100.6 77.1h1M114.1 82.1h1M73.2 88.1h1M95.1 86.1h1M87.1 80.1h1M78.5 85.3h1M93.7 84.1h1M104.0 87.1h1M98.0 86.1h1M85.2 83.3h1M70.9 98.0h1M66.3 93.1h1M124.7 82.2h1M63.0 90.8h1M65.2 87.3h1M129.0 85.3h1M104.3 85.2h1M72.3 88.3h1M94.0 81.3h1M99.3 81.8h1M70.0 95.1h1M120.3 87.2h1M79.7 89.6h1M109.7 79.4h1M107.3 81.4h1M123.5 76.9h1M97.7 90.9h1M87.8 87.3h1M63.1 85.2h1M103.6 89.0h1M70.1 89.5h1M94.6 93.3h1M69.6 91.9h1M89.1 89.8h1M127.4 84.8h1M103.4 77.3h1M82.7 97.4h1M125.7 80.0h1M71.8 95.9h1M115.6 82.6h1M105.7 76.4h1M102.6 88.2h1M103.3 83.2h1M99.8 88.2h1M99.7 88.1h1M87.2 83.7h1M116.5 81.8h1M98.9 96.8h1M86.5 82.1h1M69.1 88.4h1M128.9 78.7h1M94.5 84.1h1M112.8 89.5h1M74.0 89.7h1M69.9 78.1h1M75.2 87.6h1M125.6 78.8h1M78.1 91.4h1M99.6 83.6h1M86.3 92.9h1M97.3 88.7h1M94.0 85.5h1M74.3 80.8h1M89.9 83.0h1M87.5 85.6h1M78.5 92.8h1M82.2 90.0h1M105.0 92.9h1M117.6 82.9h1M65.9 91.1h1M71.1 90.1h1M112.1 82.8h1M115.8 83.3h1M104.4 88.5h1M80.4 84.5h1M98.7 86.6h1M113.7 87.6h1M100.6 86.5h1M81.4 84.0h1M97.9 88.5h1M91.1 87.8h1M100.7 76.4h1M74.4 90.8h1M67.3 87.0h1M84.4 83.3h1M83.9 86.6h1M90.9 77.9h1M79.7 87.5h1M116.0 80.3h1M61.9 88.1h1M90.9 89.6h1M65.6 84.6h1M65.1 85.9h1M108.8 89.7h1M111.9 76.1h1M67.9 81.0h1M139.0 79.6h1M77.2 84.0h1M66.4 86.6h1M92.4 83.7h1M83.6 95.2h1M118.1 82.7h1M97.7 93.7h1M118.9 80.3h1M75.2 87.8h1M94.3 82.6h1M89.5 93.1h1M118.3 81.0h1M91.3 86.0h1M91.4 92.1h1M119.3 77.8h1M66.3 90.3h1M92.9 81.1h1M81.1 95.1h1M94.1 93.9h1M87.9 88.3h1M111.9 89.7h1M90.6 87.0h1M101.7 85.3h1M86.4 85.7h1M91.9 95.8h1M69.2 91.0h1M102.6 84.5h1M66.5 89.6h1M75.0 89.4h1M63.3 82.9h1M65.0 84.5h1M119.0 89.6h1M68.8 87.6h1M106.5 84.6h1M98.2 86.1h1M104.9 90.1h1M95.3 85.3h1M104.0 85.1h1M90.5 89.9h1M109.6 85.0h1M88.0 84.1h1M68.8 84.0h1M104.4 78.2h1M89.0 95.6h1M65.2 89.9h1M126.5 81.5h1M86.0 91.2h1M85.2 80.2h1M120.2 85.6h1M121.8 82.7h1M107.0 88.2h1M101.2 89.2h1M112.0 83.4h1M77.1 95.7h1M105.5 79.4h1M67.8 90.7h1M99.8 94.9h1M87.0 92.7h1M75.0 87.7h1M128.1 79.3h1M136.1 82.3h1M71.9 85.4h1M129.8 82.5h1M99.6 88.7h1M106.2 81.8h1M97.1 75.2h1M75.9 82.2h1M70.0 90.1h1M106.0 96.6h1M101.1 92.0h1M124.2 86.9h1M80.4 91.0h1M93.3 88.1h1M73.2 93.2h1M67.6 88.8h1M76.7 98.0h1M100.9 78.3h1M111.8 82.5h1M119.0 87.3h1M106.2 86.9h1M66.4 89.7h1M103.4 90.9h1M68.5 89.1h1M140.6 74.8h1M68.1 84.1h1M81.0 90.3h1M111.8 86.6h1M71.7 84.0h1M92.7 86.7h1M81.6 83.1h1M73.0 92.8h1M87.7 86.1h1M132.8 83.0h1M78.8 95.4h1M87.6 93.5h1M107.4 80.2h1M67.6 92.3h1M85.8 98.4h1M73.9 88.2h1M87.0 87.2h1M81.7 94.6h1M93.4 92.6h1M74.9 91.0h1M75.8 90.9h1M109.5 92.0h1M115.1 85.9h1M113.0 83.3h1M76.4 89.2h1M77.0 85.0h1M74.5 80.7h1M84.5 93.4h1M114.4 80.8h1M68.4 91.8h1M103.4 88.4h1M98.8 85.5h1M89.6 94.4h1M80.4 84.3h1M101.2 91.9h1M85.5 93.4h1M97.8 89.1h1M107.3 83.4h1M97.4 86.6h1M123.0 82.8h1M126.7 76.1h1M69.1 87.8h1M80.9 82.6h1M101.9 83.5h1M128.2 85.6h1M147.9 77.3h1M83.2 90.9h1M120.8 87.1h1M95.7 92.8h1M67.8 88.6h1M65.7 88.7h1M87.0 82.7h1M113.2 87.4h1M92.2 95.4h1M93.5 79.7h1M108.3 84.2h1M84.4 83.9h1M79.4 80.9h1M117.1 79.1h1M80.9 81.5h1M79.2 83.5h1M86.6 77.3h1M75.8 94.8h1M76.3 88.3h1M92.0 91.8h1M94.6 89.6h1M138.9 76.5h1M92.4 89.7h1M117.6 84.6h1M121.9 88.2h1M121.9 79.4h1M153.2 72.0h1M62.1 90.7h1M100.0 82.3h1M102.3 90.4h1M99.6 89.4h1M114.4 77.5h1M86.5 82.0h1M82.4 91.1h1M116.2 82.0h1M64.4 82.8h1M109.6 83.2h1M95.2 77.8h1M115.7 85.4h1M95.9 85.8h1M123.6 83.0h1M74.9 88.9h1M101.5 92.0h1M94.2 90.8h1M67.9 84.8h1M66.2 84.0h1M80.4 91.1h1M74.6 89.3h1M118.8 87.9h1M100.3 80.6h1M90.0 78.4h1M72.7 87.3h1M78.7 83.7h1M85.2 75.7h1M110.9 81.1h1M112.7 89.0h1M66.1 89.0h1M106.2 90.0h1M91.9 84.5h1M70.1 86.3h1M72.4 87.8h1M115.6 82.0h1M76.2 93.5h1M105.1 92.1h1M77.9 80.1h1M92.2 83.9h1M98.7 81.6h1M116.8 87.5h1M84.2 80.8h1M76.4 87.8h1M83.7 80.5h1M113.0 84.6h1M121.9 91.2h1M128.2 81.9h1M116.4 82.0h1M97.4 93.8h1M79.5 87.8h1M97.0 85.6h1M90.8 89.5h1M92.5 90.2h1M74.9 79.0h1M93.0 86.7h1M104.0 81.0h1M73.2 83.3h1M132.1 78.4h1M136.1 79.6h1M77.0 89.3h1M81.0 91.4h1M84.1 94.5h1M114.2 89.4h1M79.7 84.3h1M97.6 86.4h1M76.1 89.5h1M70.7 86.0h1M120.9 84.7h1M123.0 89.1h1M72.5 82.5h1M117.2 85.3h1M81.0 80.5h1M108.4 84.1h1M140.3 84.3h1M91.6 86.5h1M90.5 84.5h1M90.9 86.8h1M120.9 81.1h1M91.0 95.8h1M111.6 81.0h1M106.6 86.4h1M102.5 86.2h1M113.1 84.1h1M102.5 86.4h1M87.0 96.0h1M146.0 81.6h1M72.4 84.3h1M105.4 87.7h1M87.4 85.7h1M104.3 82.7h1M124.3 93.0h1M66.0 86.5h1M86.9 83.0h1M110.2 80.4h1M120.9 85.1h1M94.1 91.2h1M113.1 81.9h1M122.2 85.6h1M93.2 90.1h1M104.2 79.1h1M122.3 85.8h1M103.6 80.9h1M106.4 77.0h1M125.0 81.1h1M142.6 80.3h1M105.6 82.6h1M113.2 87.6h1M88.7 92.7h1M63.3 94.4h1M91.2 90.6h1M84.5 83.8h1M90.4 87.5h1M105.8 86.6h1M71.4 94.0h1M104.1 83.6h1M61.6 95.1h1M67.0 87.2h1M70.9 91.7h1M75.8 91.6h1M109.4 87.2h1M67.3 86.5h1M130.4 81.9h1M84.9 82.3h1M101.4 84.4h1M89.0 88.3h1M87.5 78.2h1M75.8 93.2h1M116.9 82.7h1M66.1 89.8h1M102.7 85.5h1M83.8 88.8h1M70.9 84.2h1M89.3 89.8h1M76.8 86.2h1M82.7 95.4h1M106.2 77.2h1M70.3 85.9h1M136.0 81.1h1M113.5 75.8h1M91.7 84.3h1M97.7 84.8h1M106.8 82.3h1M85.6 84.9h1M78.3 78.4h1M80.4 90.7h1M76.4 89.9h1M96.4 83.7h1M96.9 89.1h1M94.6 82.7h1M90.1 93.0h1M63.4 90.0h1M99.6 92.1h1M79.2 86.6h1M148.2 75.6h1M90.1 85.1h1M68.3 87.8h1M110.4 80.0h1M74.8 85.2h1M112.0 84.4h1M92.3 85.7h1M90.6 90.9h1M123.5 77.9h1M105.9 84.8h1M90.6 86.2h1M96.7 81.6h1M91.1 86.9h1M135.5 78.3h1M122.6 85.9h1M93.1 88.2h1M117.8 84.1h1M117.1 89.1h1M72.2 84.6h1M99.2 87.7h1M81.3 90.2h1M122.9 80.1h1M80.8 84.2h1M87.1 93.3h1M67.0 92.0h1M60.6 85.9h1M110.9 85.0h1M66.9 86.4h1M87.8 90.9h1M67.7 84.5h1M83.3 86.6h1M67.1 83.3h1M68.7 74.7h1M82.9 84.6h1M135.4 83.5h1M92.5 85.3h1M76.0 86.4h1M96.9 86.8h1M113.1 84.7h1M74.9 85.8h1M78.1 85.8h1M94.7 90.8h1M107.8 87.3h1M60.3 87.6h1M74.9 96.4h1M94.1 92.4h1M84.1 87.7h1M83.3 91.8h1M141.1 78.8h1M82.3 79.9h1M102.7 93.2h1M91.3 90.6h1M143.4 78.5h1M80.9 84.1h1M100.2 84.2h1M107.1 82.3h1M70.8 84.2h1M80.6 81.4h1M80.9 93.8h1M65.7 81.0h1M67.8 90.1h1M115.8 85.9h1M113.0 82.1h1M77.9 90.7h1M115.4 83.2h1M66.9 82.0h1M104.7 81.1h1M95.5 94.1h1M78.1 96.1h1M68.3 87.2h1M79.8 91.1h1M122.7 87.8h1M61.1 88.9h1M64.9 87.9h1M139.7 74.5h1M112.1 86.0h1M65.7 98.1h1M100.2 76.3h1M125.8 81.6h1M73.5 92.5h1M75.3 91.7h1M70.9 94.2h1M86.9 81.0h1M94.6 92.6h1M102.4 92.8h1M87.1 78.1h1M74.8 88.2h1M138.2 77.4h1M114.8 79.3h1M109.8 84.4h1M83.9 94.5h1M86.8 86.2h1M90.7 85.0h1M62.4 93.4h1M73.1 85.7h1M86.0 74.2h1M96.1 94.9h1M70.5 91.2h1M88.5 85.2h1M109.0 81.7h1M109.1 78.1h1M92.0 86.0h1M92.2 88.5h1M91.5 81.4h1M81.0 79.5h1M102.5 94.8h1M86.0 91.1h1M68.5 89.8h1M119.1 82.4h1M103.9 91.0h1M71.1 87.4h1M114.6 90.8h1M116.9 80.9h1M98.2 89.8h1M83.5 86.6h1M73.2 82.0h1M113.3 92.8h1M71.3 89.8h1M66.9 87.5h1M88.3 95.6h1M105.9 83.1h1M92.6 84.4h1M64.7 92.7h1M68.0 87.8h1M99.9 94.2h1M127.3 77.5h1M70.7 94.4h1M103.2 86.8h1M77.5 91.6h1M77.9 89.3h1M106.1 83.4h1M133.5 77.9h1M97.1 96.0h1M114.3 84.9h1M103.8 88.4h1M109.2 85.6h1M98.8 86.2h1M87.0 73.5h1M83.4 86.9h1M99.9 89.4h1M120.1 82.3h1M85.9 85.7h1M124.7 82.4h1M82.3 90.5h1M69.7 89.2h1M67.8 87.6h1M66.2 91.5h1M80.9 94.2h1M99.5 85.2h1M115.3 93.4h1M85.4 85.9h1M77.4 87.1h1M75.9 92.5h1M84.2 83.6h1M86.9 82.5h1M67.5 84.7h1M99.1 84.8h1M107.7 83.5h1M116.5 86.0h1M80.9 88.7h1M129.5 82.1h1M70.0 88.1h1M114.5 80.9h1M121.3 87.6h1M65.3 83.8h1M92.2 88.1h1M85.4 85.4h1M76.8 89.9h1M88.3 88.0h1M118.8 78.7h1M73.0 91.5h1M137.0 82.8h1M64.6 98.0h1M97.5 80.8h1M149.0 77.7h1M95.3 84.7h1M84.0 90.6h1M114.8 85.6h1M84.2 91.6h1M65.4 83.4h1M113.0 80.7h1M76.4 89.5h1M118.6 87.2h1M77.8 89.4h1M83.0 94.9h1M123.4 78.8h1M61.5 88.6h1M105.9 88.5h1M74.2 94.8h1M106.5 83.0h1M74.2 78.4h1M70.5 90.3h1M81.5 91.3h1M98.8 82.3h1M102.6 87.3h1M124.3 81.5h1M87.6 84.5h1M89.1 86.5h1M122.4 85.4h1M94.6 80.2h1M123.5 77.4h1M94.3 85.4h1M103.3 91.0h1M115.9 86.0h1M119.5 78.5h1M114.1 88.4h1M118.5 87.4h1M111.1 82.0h1M99.2 89.9h1M69.6 81.9h1M100.7 78.8h1M84.4 82.4h1M85.6 91.6h1M62.6 93.9h1M89.9 80.4h1M99.1 86.7h1M71.6 90.0h1M105.8 91.4h1M99.7 98.9h1M87.0 95.1h1M109.6 81.1h1M82.8 79.7h1M77.5 97.3h1M96.3 87.3h1M126.7 79.4h1M93.7 91.0h1M93.8 92.0h1M86.9 82.3h1M109.7 89.9h1M70.0 81.2h1M113.5 89.9h1M75.6 90.6h1M93.6 88.4h1M88.6 88.1h1M105.0 84.8h1M80.3 89.9h1M76.4 90.7h1M102.6 88.1h1M92.5 84.6h1M108.6 81.9h1M94.7 84.7h1M66.3 95.6h1M75.3 103.7h1M100.0 83.5h1M114.7 78.3h1M116.6 83.4h1M148.7 73.9h1M64.0 87.5h1M112.4 84.8h1M70.1 94.7h1M65.7 85.6h1M94.1 88.3h1M100.2 87.9h1M111.6 94.8h1M86.6 91.4h1M97.2 84.9h1M116.8 81.3h1M82.2 92.6h1M85.5 92.5h1M85.4 81.9h1M112.9 87.4h1M63.7 82.8h1M93.0 86.8h1M114.6 83.9h1M110.4 84.3h1M107.2 84.2h1M106.3 79.7h1M123.0 80.9h1M101.8 87.4h1M65.1 85.6h1M85.8 92.5h1M131.8 83.2h1M68.9 85.4h1M113.2 83.1h1M147.9 73.8h1M72.6 90.6h1M93.5 91.3h1M73.1 86.1h1M100.5 83.9h1M114.3 81.2h1M66.7 94.2h1M99.4 80.2h1M126.9 79.0h1M116.5 76.6h1M142.8 79.1h1M81.5 85.1h1M76.7 82.3h1M95.8 90.2h1M124.9 82.9h1M119.0 82.1h1M75.0 95.1h1M67.7 96.0h1M148.3 80.3h1M78.5 88.8h1M96.8 82.4h1M129.4 82.3h1M102.8 80.8h1M97.5 84.5h1M86.2 88.2h1M103.8 80.9h1M91.8 88.1h1M103.8 86.4h1M78.7 89.8h1M116.2 85.1h1M78.2 81.3h1M107.1 82.9h1M125.0 78.3h1M105.8 88.2h1M122.7 84.3h1M103.9 90.5h1M106.0 81.9h1M133.0 79.9h1M115.8 86.8h1M83.1 91.3h1M87.2 91.3h1M72.3 85.0h1M122.8 83.5h1M99.8 87.0h1M138.8 76.6h1M61.4 92.8h1M100.7 83.3h1M68.7 72.2h1M100.4 94.5h1M111.2 87.6h1M115.9 89.6h1M109.9 82.3h1M100.1 86.6h1M130.4 83.1h1M117.8 85.9h1M68.6 88.1h1M103.5 95.0h1M95.8 91.4h1M130.4 78.1h1M117.3 83.9h1M116.8 88.1h1M108.1 80.7h1M144.1 74.8h1M95.8 94.3h1M81.8 90.3h1M83.9 94.7h1M123.5 83.6h1M71.1 88.0h1M153.7 78.8h1M84.6 89.2h1M96.3 81.9h1M97.4 93.1h1M140.5 77.2h1M101.9 83.1h1M69.1 91.4h1M122.5 87.2h1M82.1 84.7h1M112.0 76.8h1M84.6 85.9h1M75.8 90.6h1M113.7 85.6h1M113.6 79.6h1M141.7 73.6h1M133.0 79.7h1M66.6 84.2h1M84.6 84.5h1M102.9 89.9h1M74.8 86.6h1M62.3 85.5h1M63.0 90.0h1M75.3 87.6h1M72.2 83.5h1M65.9 89.9h1M100.7 88.0h1M121.4 79.4h1M88.2 79.1h1M92.4 82.5h1M127.3 81.2h1M112.6 91.1h1M101.1 85.4h1M122.2 86.9h1M106.7 90.3h1M109.6 76.4h1M76.3 96.0h1M60.6 90.2h1M110.0 85.9h1M92.3 97.8h1M78.5 85.1h1M65.6 94.7h1M116.2 80.7h1M110.2 84.8h1M105.4 74.9h1M114.8 81.5h1M67.4 87.1h1M85.7 91.6h1M99.9 84.9h1M71.3 92.8h1M86.4 82.4h1M112.8 86.7h1M80.6 98.0h1M149.8 72.8h1M63.3 96.3h1M86.9 82.3h1M97.6 84.3h1M107.0 86.2h1M84.1 94.7h1M120.6 81.0h1M104.8 87.0h1M67.6 85.1h1M143.3 82.4h1M104.3 87.9h1M113.9 83.1h1M95.2 82.2h1M112.3 79.8h1M98.7 92.3h1M70.7 86.5h1M112.4 76.1h1M63.1 90.7h1M96.0 91.1h1M97.1 91.2h1M83.7 86.3h1M130.3 79.8h1M84.1 93.7h1M89.2 88.4h1M80.0 97.6h1M92.3 94.1h1M96.8 85.2h1M64.9 87.7h1M115.2 83.3h1M85.9 89.5h1M67.0 93.1h1M109.6 78.0h1M81.8 94.7h1M104.8 87.1h1M78.8 83.8h1M99.9 86.1h1M81.0 91.8h1M110.8 83.5h1M117.1 84.5h1M112.6 82.4h1M110.0 85.3h1M109.2 90.6h1M127.8 77.3h1M116.4 76.7h1M106.5 87.2h1M116.9 79.3h1M76.8 91.1h1M67.4 91.7h1M78.7 92.9h1M109.1 86.1h1M80.2 87.3h1M121.7 79.5h1M60.8 87.7h1M115.3 93.9h1M115.6 85.2h1M126.2 76.5h1M82.9 87.5h1M100.5 90.7h1M112.8 86.7h1M75.2 96.6h1M91.9 84.1h1M66.7 88.3h1M65.7 82.0h1M107.1 84.0h1M90.1 83.0h1M93.6 85.1h1M75.1 87.0h1M73.4 90.0h1M99.7 86.1h1M64.9 82.1h1M120.7 77.5h1M67.2 89.5h1M107.8 92.3h1M84.4 94.3h1M116.8 82.5h1M103.4 95.1h1M129.2 81.5h1M63.8 86.5h1M81.0 97.0h1M114.3 78.6h1M146.7 75.6h1M76.5 89.0h1M111.3 87.3h1M93.4 88.9h1M94.8 89.0h1M108.8 92.1h1M65.3 90.4h1M83.6 83.0h1M69.5 88.9h1M72.9 87.2h1M91.0 88.9h1M93.9 88.2h1M95.8 88.3h1M128.8 84.6h1M106.6 82.5h1M136.7 80.6h1M112.9 89.0h1M104.9 90.5h1M85.2 89.9h1M81.9 81.4h1M117.1 84.2h1M68.0 82.2h1M112.9 87.1h1M92.8 82.7h1M65.5 87.2h1M116.5 86.5h1M115.7 80.0h1M73.7 85.1h1M101.8 82.9h1M105.9 79.6h1M72.1 89.3h1M109.5 90.5h1M80.4 80.6h1M122.5 74.2h1M115.5 85.3h1M126.3 90.3h1M113.4 82.3h1M101.3 86.8h1M92.9 91.2h1M107.5 82.9h1M66.8 91.5h1M111.0 78.9h1M111.9 83.8h1M85.4 88.5h1M67.2 88.3h1M110.3 88.6h1M67.9 94.7h1M106.8 81.6h1M67.1 89.2h1M86.7 92.7h1M63.6 88.7h1M72.6 89.0h1M64.4 85.3h1M127.3 84.7h1M130.5 76.9h1M97.1 87.2h1M70.8 83.6h1M118.6 86.6h1M94.8 88.9h1M61.3 93.4h1M99.0 91.8h1M123.8 84.4h1M69.9 90.3h1M62.6 90.5h1M69.0 81.6h1M86.1 96.7h1M77.6 97.6h1M72.3 94.6h1M79.0 91.0h1M102.6 85.1h1M84.9 88.0h1M75.7 88.4h1M114.7 80.7h1M80.0 84.3h1M103.0 87.5h1M94.0 93.2h1M128.9 86.5h1M67.0 95.1h1M87.2 83.5h1M96.0 92.5h1M140.0 78.3h1M124.6 83.4h1M114.6 93.3h1M72.7 89.4h1M85.1 88.8h1M118.8 79.2h1M126.6 82.5h1M112.0 83.2h1M102.6 85.6h1M111.5 81.4h1M82.9 91.4h1M96.1 86.3h1M69.1 96.0h1M81.4 92.4h1M123.5 87.1h1M102.5 86.5h1M81.4 96.4h1M65.4 88.9h1M69.4 93.4h1M61.5 93.9h1M111.9 73.3h1M67.9 83.8h1M89.7 77.3h1M66.5 88.1h1M111.2 86.8h1M117.0 88.0h1M95.3 84.9h1M121.6 81.1h1M65.5 90.7h1M82.6 88.9h1M115.9 79.7h1M61.2 93.0h1M75.2 91.9h1M135.0 81.9h1M69.3 90.6h1M108.2 90.4h1M96.4 90.4h1M113.6 84.7h1M103.9 89.0h1M115.7 86.4h1M111.4 82.2h1M75.8 84.3h1M71.7 87.2h1M65.6 91.4h1M90.6 92.4h1M77.2 87.7h1M84.0 84.3h1M99.6 84.3h1M66.3 84.4h1M65.4 90.2h1M90.9 82.9h1M76.3 96.1h1M62.3 87.2h1M91.5 86.5h1M111.8 91.2h1M108.3 91.6h1M122.1 78.8h1M104.0 90.5h1M95.4 96.6h1M142.4 75.9h1M63.5 92.4h1M114.6 82.3h1M76.9 81.0h1M121.6 79.2h1M111.2 84.8h1M98.2 87.1h1M74.2 83.3h1M111.1 82.1h1M100.0 84.9h1M88.8 93.0h1M77.2 87.3h1M136.8 78.6h1M74.0 82.2h1M120.0 75.6h1M102.0 92.5h1M106.8 87.9h1M96.7 88.4h1M69.3 90.2h1M82.1 91.8h1M92.8 74.1h1M88.1 90.4h1M64.5 91.2h1M93.3 87.4h1M77.9 91.9h1M104.5 91.4h1M75.6 89.7h1M69.1 87.5h1M111.4 78.1h1M107.1 84.8h1M68.6 78.6h1M91.0 83.7h1M115.1 84.2h1M96.6 87.2h1M111.7 88.2h1M98.6 84.3h1M75.0 85.4h1M85.0 85.9h1M89.1 85.4h1M109.9 85.9h1M110.4 87.2h1M79.5 92.0h1M108.8 80.1h1M133.2 74.8h1M105.3 85.6h1M98.5 85.9h1M116.2 82.1h1M79.1 85.8h1M74.5 88.6h1M91.6 84.9h1M89.6 92.0h1M107.6 96.1h1M110.0 80.8h1M100.0 79.7h1M82.5 93.7h1M107.8 90.5h1M151.3 79.6h1M98.4 86.6h1M66.0 97.0h1M110.2 89.9h1M103.9 87.3h1M75.9 95.0h1M74.2 83.8h1M65.2 84.2h1M80.9 83.4h1M91.9 93.0h1M91.8 83.8h1M91.2 86.1h1M111.3 91.8h1M79.7 92.0h1M63.7 93.1h1M67.5 86.0h1M64.8 92.5h1M88.7 74.8h1M72.6 86.9h1M108.8 86.5h1M63.3 93.1h1M108.1 86.8h1M109.2 85.1h1M82.6 82.6h1M86.2 85.4h1M73.2 91.4h1M107.4 85.3h1M83.2 88.0h1M119.7 91.5h1M127.5 89.9h1M110.7 86.5h1M84.9 87.8h1M104.8 90.2h1M92.3 81.3h1M104.4 83.1h1M112.1 89.4h1M103.7 78.6h1M100.9 88.4h1M73.4 90.3h1M102.6 87.0h1M94.1 81.6h1M78.8 96.6h1M144.5 71.6h1M85.7 87.2h1M110.9 79.0h1M103.8 86.5h1M76.9 89.5h1M97.0 81.8h1M109.8 85.8h1M87.8 87.9h1M66.5 81.7h1M109.9 89.8h1M128.1 88.9h1M102.9 94.8h1M125.2 83.8h1M78.3 86.7h1M112.6 81.3h1M88.2 95.3h1M77.2 85.2h1M150.6 75.8h1M119.8 84.2h1M86.8 87.7h1M92.9 92.6h1M62.3 97.5h1M103.5 89.9h1M133.7 76.9h1M74.3 91.1h1M130.9 76.3h1M128.8 78.4h1M95.4 85.6h1M91.6 89.0h1M136.2 84.1h1M109.7 79.6h1M78.1 96.2h1M61.6 88.4h1M103.9 85.7h1M80.3 94.5h1M78.4 85.4h1M129.3 81.3h1M104.9 82.4h1M111.1 83.8h1M71.3 91.3h1M118.1 80.5h1M121.0 77.5h1M105.8 94.2h1M100.6 86.2h1M109.7 87.6h1M108.2 82.5h1M76.9 86.1h1M90.2 82.6h1M97.5 84.5h1M73.6 91.2h1M106.7 84.2h1M95.3 82.5h1M89.1 78.7h1M107.7 85.9h1M65.2 90.7h1M74.3 85.6h1M62.5 87.4h1M110.8 83.3h1M115.5 89.2h1M72.5 89.6h1M66.2 86.9h1M111.8 83.0h1M96.1 92.9h1M70.7 88.0h1M121.1 81.4h1M73.8 89.8h1M127.0 76.8h1M121.3 81.1h1M90.9 91.3h1M76.0 87.4h1M66.1 84.8h1M87.9 83.3h1M77.2 87.0h1M86.4 83.1h1M108.9 88.1h1M76.8 89.5h1M103.2 86.0h1M116.8 84.0h1M107.1 87.4h1M133.5 78.8h1M126.9 84.7h1M113.7 81.4h1M65.3 87.2h1M120.5 83.0h1M114.2 84.7h1M102.5 88.8h1M80.7 88.8h1M66.0 79.9h1M81.8 89.0h1M83.9 82.1h1M85.4 80.1h1M90.7 89.7h1M78.9 95.7h1M85.7 85.2h1M62.3 93.1h1M91.7 82.0h1M97.9 84.5h1M75.1 92.9h1M63.9 85.1h1M90.2 87.1h1M69.4 86.6h1M95.0 89.1h1M79.5 92.8h1M148.0 82.2h1M101.0 83.0h1M113.1 92.3h1M83.4 83.1h1M83.4 92.7h1M74.1 90.0h1M70.3 86.5h1M110.2 84.9h1M112.8 87.9h1M98.3 91.6h1M63.9 86.1h1M90.4 79.6h1M82.2 84.4h1M82.7 82.8h1M120.8 82.4h1M131.9 72.9h1M70.9 80.7h1M86.2 84.2h1M95.3 90.2h1M91.9 94.6h1M140.6 74.7h1M107.2 85.4h1M100.6 83.6h1M103.9 93.8h1M128.7 81.3h1M109.7 88.4h1M100.5 93.9h1M89.5 84.1h1M112.0 83.6h1M99.8 87.5h1M96.6 95.2h1M94.6 94.9h1M105.8 83.7h1M70.1 81.0h1M71.1 87.3h1M71.7 95.9h1M87.9 81.5h1M87.1 91.9h1M117.7 88.3h1M119.7 78.7h1M72.8 86.6h1M112.4 78.2h1M105.7 87.0h1M90.6 84.4h1M85.6 91.3h1M66.8 90.8h1M96.8 83.7h1M108.3 82.9h1M97.1 85.3h1M83.1 90.0h1M71.9 88.3h1M86.4 87.0h1M74.1 85.8h1M109.0 86.0h1M87.5 87.1h1M74.7 88.7h1M78.5 85.7h1M101.6 93.5h1M120.1 86.5h1M85.1 87.4h1M70.5 85.1h1M72.2 86.7h1M128.0 77.6h1M92.6 85.8h1M91.1 83.0h1M83.3 87.4h1M91.9 95.1h1M64.1 85.8h1M113.7 77.6h1M113.7 85.1h1M128.2 85.0h1M98.2 90.0h1M95.8 81.9h1M107.4 79.6h1M68.0 88.5h1M94.2 82.5h1M77.1 80.3h1M82.3 86.7h1M102.8 83.9h1M90.7 85.7h1M96.0 79.8h1M76.7 96.8h1M92.7 94.3h1M103.4 93.2h1M140.6 82.5h1M88.5 90.4h1M109.7 90.4h1M67.7 94.6h1M118.0 87.9h1M84.0 88.3h1M80.4 86.0h1M102.2 92.1h1M90.2 82.7h1M76.5 88.6h1M112.5 93.7h1M63.6 89.0h1M71.2 80.6h1M76.4 95.9h1M97.7 86.2h1M110.5 76.5h1M84.8 82.8h1M115.3 79.6h1M110.3 83.2h1M76.2 88.9h1M101.5 85.9h1M87.2 96.2h1M109.0 88.5h1M97.9 86.1h1M118.6 79.8h1M86.7 79.6h1M79.2 86.0h1M105.7 85.0h1M109.8 84.4h1M74.9 85.5h1M105.7 85.2h1M75.8 91.3h1M79.9 88.3h1M73.7 87.8h1M147.1 73.1h1M67.6 83.6h1M90.7 87.5h1M105.3 88.0h1M64.3 86.0h1M94.6 90.5h1M113.8 86.0h1M101.8 81.9h1M75.9 89.4h1M62.5 81.7h1M96.8 86.2h1M109.8 74.7h1M113.7 83.2h1M64.6 86.0h1M68.5 83.7h1M117.3 85.7h1M73.0 89.6h1M125.4 84.2h1M75.2 94.3h1M70.6 84.9h1M136.2 81.9h1M91.2 86.1h1M99.6 91.8h1M67.4 93.0h1M113.0 81.3h1M111.3 82.1h1M113.2 86.7h1M67.2 85.3h1M91.2 80.5h1M105.5 92.5h1M72.4 90.8h1M104.2 91.6h1M70.6 89.8h1M81.6 86.1h1M94.5 91.4h1M90.5 89.2h1M82.7 97.4h1M91.9 91.0h1M68.5 88.3h1M82.6 89.0h1M119.2 84.4h1M131.6 78.9h1M73.7 97.2h1M88.0 88.7h1M95.9 85.3h1M107.9 83.4h1M75.1 81.3h1M64.9 92.7h1M92.3 87.2h1M88.4 84.2h1M130.1 76.4h1M129.7 78.1h1M107.1 88.6h1M96.6 89.5h1M131.7 86.8h1M106.2 83.2h1M72.0 93.2h1M122.2 80.8h1M149.9 77.6h1M73.8 91.3h1M113.1 90.4h1M97.3 85.8h1M80.3 84.0h1M62.7 88.3h1M115.9 81.9h1M73.4 89.8h1M88.5 76.6h1M102.0 83.7h1M75.0 93.7h1M76.2 83.9h1M90.2 83.1h1M101.8 84.7h1M102.0 88.3h1M68.4 97.3h1M96.8 79.7h1M80.3 82.9h1M128.2 85.8h1M68.3 88.6h1M107.8 88.9h1M109.9 86.1h1M133.4 80.0h1M106.2 94.7h1M94.2 90.2h1M70.3 94.9h1M145.5 71.6h1M77.5 89.1h1M115.9 84.9h1M145.0 79.2h1M107.0 81.2h1M92.5 84.8h1M110.1 91.6h1M68.7 84.7h1M134.4 78.8h1M82.7 93.4h1M80.4 99.0h1M132.1 83.7h1M114.6 78.9h1M81.1 93.5h1M122.7 83.6h1M85.9 87.5h1M122.3 85.8h1M88.4 82.6h1M134.8 73.2h1M63.3 87.4h1M81.3 87.0h1M74.3 83.7h1M67.3 89.8h1M99.4 90.6h1M71.4 89.5h1M73.6 82.9h1M84.4 87.2h1M107.0 91.2h1M65.0 85.5h1M124.4 88.2h1M110.5 83.1h1M73.2 87.0h1M104.3 76.8h1M96.7 89.2h1M97.6 97.1h1M103.8 82.3h1M102.3 80.7h1M119.9 83.7h1M99.4 83.9h1M117.1 82.1h1M82.9 90.4h1M96.4 82.6h1M119.7 87.9h1M106.6 92.8h1M107.2 82.4h1M75.8 91.9h1M81.8 84.8h1M78.8 86.0h1M87.1 88.4h1M68.7 89.6h1M80.7 81.6h1M75.9 87.4h1M96.9 92.0h1M88.1 81.8h1M103.5 87.5h1M94.3 89.1h1M124.7 85.3h1M92.8 83.2h1M85.1 90.5h1M69.5 80.6h1M69.7 83.7h1M103.2 91.9h1M70.5 86.4h1M94.3 77.6h1M89.1 86.6h1M66.2 89.9h1M77.4 89.0h1M101.9 79.3h1M95.9 85.5h1M77.8 78.7h1M75.3 96.9h1M119.9 83.8h1M67.9 83.5h1M102.8 83.2h1M112.9 77.7h1M73.1 84.1h1M84.0 92.4h1M132.5 76.1h1M120.0 85.4h1M79.5 96.3h1M65.3 86.7h1M94.9 81.0h1M115.9 80.6h1M152.5 73.0h1M134.3 79.0h1M74.3 97.8h1M103.9 85.2h1M83.7 84.1h1M73.7 89.0h1M60.5 87.1h1M83.0 82.6h1M67.2 89.9h1M98.6 81.2h1M71.7 87.0h1M65.2 81.9h1M105.7 92.9h1M72.0 89.1h1M103.2 83.0h1M80.9 90.5h1M140.0 78.9h1M90.4 89.8h1M100.9 88.4h1M87.9 90.6h1M107.5 86.4h1M114.9 80.6h1M111.2 92.1h1M89.5 87.8h1M97.1 87.6h1M83.3 95.2h1M102.9 85.3h1M96.9 85.3h1M81.2 93.5h1M108.3 81.4h1M125.2 79.5h1M108.8 85.4h1M68.5 90.5h1M75.9 94.7h1M95.0 87.3h1M68.8 84.9h1M77.1 81.6h1M103.8 81.2h1M116.6 86.2h1M65.7 98.6h1M67.1 84.3h1M116.0 84.0h1M82.5 80.5h1M93.9 94.9h1M66.0 90.0h1M119.7 85.7h1M112.2 82.9h1M90.4 88.1h1M98.8 87.7h1M85.1 93.7h1M87.8 82.9h1M147.6 78.2h1M151.7 75.9h1M108.6 87.0h1M73.3 93.1h1M117.2 84.1h1M92.0 93.0h1M91.4 89.7h1M96.3 85.1h1M97.1 87.6h1M78.0 86.3h1M76.4 98.9h1M103.6 83.4h1M92.9 90.3h1M68.4 84.0h1M82.8 88.0h1M81.7 89.5h1M124.3 80.9h1M108.9 82.2h1M80.3 83.8h1M74.5 87.2h1M76.1 88.4h1M120.3 94.3h1M60.8 89.4h1M117.9 92.9h1M62.2 85.1h1M62.9 92.5h1M88.7 86.6h1M66.3 86.7h1M89.4 89.7h1M90.3 86.4h1M81.3 82.8h1M138.3 85.5h1M111.9 85.5h1M77.3 85.5h1M76.1 85.4h1M125.2 77.3h1M99.1 90.5h1M68.2 100.3h1M102.6 84.4h1M79.7 87.8h1M93.6 82.3h1M134.5 83.4h1M134.0 77.7h1M72.3 88.7h1M113.1 85.1h1M80.9 96.7h1M112.0 92.3h1M96.4 84.9h1M92.9 79.0h1M67.2 85.1h1M69.0 85.4h1M78.5 85.4h1M110.5 77.3h1M105.1 84.6h1M105.3 88.4h1M78.8 97.4h1M77.7 89.7h1M80.1 83.8h1M98.8 79.4h1M75.5 82.4h1M90.4 94.1h1M63.9 96.9h1M117.6 82.8h1M63.2 93.1h1M134.4 81.8h1M106.4 85.1h1M87.2 78.5h1M105.8 90.6h1M81.6 84.9h1M76.7 95.4h1M99.4 86.8h1M65.6 94.7h1M122.7 85.2h1M101.4 83.0h1M118.1 81.7h1M102.3 80.5h1M110.9 82.5h1M77.7 84.0h1M66.1 94.6h1M118.3 92.5h1M134.7 86.1h1M79.4 85.6h1M84.0 90.3h1M111.8 87.9h1M69.4 91.1h1M109.3 82.8h1M80.8 86.3h1M112.6 88.1h1M70.7 94.2h1M117.1 83.3h1M78.1 83.4h1M88.0 82.4h1M109.8 89.6h1M75.0 91.9h1M97.7 85.3h1M82.6 83.2h1M139.0 76.7h1M98.0 85.8h1M96.4 84.7h1M108.0 91.0h1M142.4 75.7h1M100.1 81.4h1M93.4 91.2h1M84.1 94.0h1M94.0 89.7h1M93.6 88.9h1M66.1 90.1h1M112.5 79.5h1M76.5 96.6h1M96.3 88.9h1M103.3 82.6h1M64.9 84.8h1M66.9 96.8h1M113.4 90.1h1M93.3 77.5h1M115.3 81.9h1M63.8 90.5h1M104.2 77.3h1M78.0 90.5h1M108.6 79.4h1M112.7 89.5h1M83.6 83.8h1M98.6 84.1h1M106.9 84.7h1M85.0 92.4h1M70.3 88.7h1M104.6 88.4h1M85.1 85.0h1M109.3 90.4h1M109.9 81.1h1M97.6 102.6h1M90.3 85.6h1M130.1 80.7h1M85.0 84.4h1M90.3 96.9h1M144.9 73.5h1M91.8 76.3h1M93.2 85.8h1M102.6 88.8h1M111.7 94.2h1M84.9 100.9h1M62.7 89.6h1M89.0 92.6h1M105.5 86.3h1M71.8 95.1h1M82.2 95.9h1M89.3 92.8h1M115.5 82.0h1M101.8 95.9h1M67.2 94.8h1M66.4 85.3h1M79.2 89.2h1M102.4 80.6h1M86.6 80.0h1M71.1 91.0h1M74.8 91.7h1M118.8 83.3h1M109.2 82.5h1M76.1 84.6h1M149.8 70.6h1M81.9 95.6h1M129.1 86.8h1M95.5 79.4h1M97.5 85.4h1M95.1 86.4h1M115.6 93.2h1M106.4 88.7h1M60.6 86.9h1M63.4 89.4h1M106.0 92.1h1M104.4 85.1h1M64.0 88.7h1M85.4 92.4h1M79.5 98.3h1M90.4 80.4h1M113.0 79.6h1M71.8 98.7h1M66.3 89.3h1M113.5 84.5h1M108.2 89.6h1M88.1 91.4h1M102.2 83.5h1M75.5 87.0h1M114.8 86.8h1M106.0 77.5h1M89.9 96.9h1M108.6 89.2h1M109.5 82.1h1M84.3 84.9h1M92.2 85.0h1M72.9 89.0h1M126.2 83.4h1M95.6 83.7h1M73.1 91.5h1M110.8 84.3h1M68.9 91.5h1M110.8 87.3h1M77.7 89.9h1M85.5 83.8h1M61.6 96.0h1M88.3 92.7h1M93.1 83.1h1M61.7 86.7h1M117.3 86.5h1M90.4 80.2h1M87.5 79.8h1M71.2 84.8h1M78.5 91.4h1M108.0 92.3h1M69.0 96.0h1M105.2 90.2h1M92.9 87.8h1M102.1 82.7h1M78.5 90.5h1M140.4 79.5h1M79.2 94.3h1M66.1 84.6h1M76.6 83.6h1M81.2 88.5h1M108.4 80.6h1M79.9 86.8h1M66.0 88.1h1M104.1 88.0h1M123.0 80.6h1M92.8 90.2h1M88.3 84.0h1M137.2 77.6h1M110.6 83.9h1M64.1 88.8h1M129.1 87.8h1M122.1 88.3h1M107.5 88.0h1M84.1 91.3h1M70.3 87.1h1M67.5 90.5h1M132.4 81.2h1M93.6 87.0h1M109.2 83.1h1M133.8 85.3h1M91.4 84.7h1M67.1 90.2h1M99.3 86.4h1M94.6 84.9h1M84.1 85.1h1M69.6 89.4h1M63.0 92.5h1M119.5 85.6h1M118.5 84.9h1M102.4 86.0h1M118.7 80.2h1M89.9 77.1h1M65.5 92.1h1M73.4 92.5h1M64.8 83.4h1M102.3 93.0h1M106.5 89.6h1M74.8 85.0h1M115.1 90.8h1M75.1 92.0h1M87.4 89.6h1M71.7 98.0h1M93.0 97.9h1M88.1 84.6h1M118.3 93.9h1M85.8 87.9h1M86.7 95.3h1M88.7 83.8h1M77.8 78.1h1M69.7 93.5h1M112.2 89.6h1M86.2 85.2h1M123.3 75.7h1M97.8 87.8h1M94.0 87.8h1M128.3 77.5h1M102.9 83.5h1M88.1 90.0h1M111.2 84.3h1M103.5 84.8h1M67.9 86.3h1M107.2 93.4h1M63.8 79.5h1M111.3 79.3h1M113.1 74.4h1M78.0 94.2h1M90.3 97.1h1M110.0 71.8h1M85.0 83.2h1M95.3 91.2h1M101.3 88.8h1M82.4 83.6h1M102.7 84.7h1M70.9 92.4h1M73.0 91.9h1M122.0 84.7h1M129.2 82.6h1M87.4 82.3h1M95.5 87.0h1M78.0 86.8h1M65.9 92.7h1M121.6 85.7h1M145.2 75.4h1M96.6 85.2h1M108.3 86.9h1M72.7 83.4h1M76.5 86.2h1M119.8 83.6h1M92.6 80.5h1M89.3 88.6h1M78.2 93.6h1M111.2 85.7h1M69.4 88.1h1M83.8 98.3h1M81.4 82.3h1M92.9 93.5h1M69.6 92.7h1M70.6 87.5h1M129.8 82.8h1M87.2 86.8h1M74.3 93.8h1M117.4 88.2h1M100.9 90.4h1M91.7 79.7h1M75.2 90.5h1M74.1 86.4h1M134.4 72.3h1M83.6 87.2h1M112.2 88.6h1M95.5 84.0h1M104.8 84.7h1M103.1 81.4h1M101.4 90.2h1M82.1 86.2h1M90.7 98.2h1M107.3 91.7h1M63.7 86.8h1M108.9 88.2h1M66.2 82.3h1M100.3 88.2h1M79.2 79.9h1M135.8 81.1h1M79.6 87.2h1M80.6 87.7h1M73.1 87.7h1M122.5 81.9h1M66.2 80.1h1M66.3 79.6h1M70.0 83.9h1M66.0 81.8h1M101.1 83.4h1M78.6 92.8h1M97.1 91.1h1M111.9 91.8h1M76.4 90.7h1M78.1 89.4h1M79.7 91.0h1M84.3 91.6h1M62.0 87.6h1M149.3 76.4h1M94.3 88.5h1M64.3 90.8h1M94.2 87.5h1M104.6 90.4h1M62.6 92.2h1M69.4 79.7h1M113.8 82.2h1M127.5 73.8h1M133.0 78.0h1M96.1 92.5h1M129.6 89.2h1M99.1 83.8h1M109.3 83.6h1M131.5 76.4h1M70.8 87.9h1M133.3 84.7h1M72.4 83.9h1M106.8 84.5h1M94.2 90.9h1M116.5 86.4h1M96.1 86.2h1M104.6 87.9h1M76.2 87.7h1M118.6 84.6h1M85.9 88.9h1M73.4 82.4h1M103.8 88.8h1M69.2 90.2h1M110.8 89.2h1M69.1 81.6h1M137.7 75.1h1M132.8 79.8h1M72.1 92.7h1M65.0 79.5h1M110.8 89.8h1M100.7 87.2h1M76.7 82.8h1M70.6 99.6h1M67.0 92.2h1M82.0 87.7h1M63.2 89.8h1M109.1 87.5h1M83.2 94.5h1M106.8 84.2h1M66.5 84.7h1M86.4 84.1h1M85.0 92.3h1M130.7 79.5h1M119.5 83.7h1M75.9 91.5h1M95.2 89.3h1M81.4 85.8h1M87.1 92.2h1M70.9 95.8h1M118.4 88.7h1M112.2 88.2h1M68.9 89.7h1M112.5 93.2h1M70.9 86.4h1M106.4 83.6h1M110.9 82.2h1M68.6 88.3h1M111.0 90.5h1M118.7 79.4h1M74.4 91.5h1M87.7 86.5h1M112.1 85.0h1M84.6 84.6h1M124.2 78.8h1M87.5 85.5h1M94.9 96.3h1M99.3 89.1h1M95.6 85.5h1M114.9 80.4h1M100.4 78.1h1M96.1 87.8h1M92.7 83.8h1M84.0 83.7h1M104.1 81.5h1M87.6 92.2h1M109.1 81.2h1M95.4 85.7h1M120.7 90.0h1M122.2 79.7h1M129.8 82.8h1M103.0 92.7h1M84.2 87.1h1M85.5 85.8h1M76.2 84.7h1M63.9 93.0h1M88.8 82.5h1M140.4 83.0h1M105.5 95.3h1M80.3 86.1h1M65.1 95.9h1M82.6 79.4h1M101.2 85.4h1M80.4 90.8h1M87.0 98.4h1M78.5 75.6h1M80.8 94.1h1M99.2 88.5h1M109.5 81.0h1M135.1 81.1h1M151.7 78.8h1M68.1 87.2h1M112.0 85.0h1M126.4 84.6h1M117.2 82.5h1M110.3 84.4h1M63.7 85.9h1M62.3 91.3h1M88.9 80.1h1M99.2 79.5h1M94.1 78.3h1M85.0 91.9h1M63.2 89.8h1M86.2 88.5h1M69.7 90.9h1M68.2 96.5h1M62.7 85.5h1M105.3 87.1h1M61.9 89.9h1M88.4 90.1h1M75.2 91.8h1M88.5 82.7h1M98.4 85.8h1M110.3 79.4h1M91.6 95.4h1M64.0 88.6h1M74.2 85.4h1M97.8 84.2h1M64.5 88.0h1M153.0 74.9h1M116.3 82.4h1M64.1 91.7h1M114.8 85.1h1M64.8 87.1h1M99.1 80.1h1M97.7 74.4h1M96.9 83.0h1M104.9 83.2h1M89.0 85.0h1M72.3 83.6h1M112.2 80.1h1M76.3 81.6h1M120.2 86.9h1M77.6 94.3h1M75.5 84.6h1M92.7 87.0h1M129.1 85.3h1M92.7 90.0h1M66.9 94.5h1M93.4 85.5h1M140.7 75.7h1M127.3 77.4h1M74.5 88.0h1M84.8 87.0h1M136.1 81.3h1M80.3 97.1h1M120.2 78.6h1M118.3 84.1h1M90.6 90.4h1M88.2 90.6h1M80.6 96.7h1M110.5 92.2h1M77.2 90.7h1M80.1 90.9h1M80.7 84.5h1M71.0 83.1h1M71.7 86.1h1M140.1 74.0h1M112.4 84.9h1M83.9 90.8h1M110.6 81.8h1M86.2 79.3h1M85.6 85.3h1M126.4 80.8h1M88.7 83.0h1M70.9 86.3h1M103.6 95.6h1M78.3 85.9h1M111.8 87.1h1M66.4 85.5h1M105.7 86.8h1M99.6 84.7h1M120.4 89.9h1M111.4 84.3h1M104.1 84.3h1M100.4 94.3h1M121.4 84.6h1M93.3 91.0h1M126.5 83.9h1M122.8 80.6h1M94.4 88.0h1M141.6 77.6h1M71.2 86.6h1M77.8 88.1h1M141.9 76.8h1M83.0 80.7h1M105.6 85.9h1M106.9 88.4h1M71.4 85.4h1M86.2 87.9h1M150.7 75.9h1M104.0 86.4h1M81.6 82.3h1M66.8 85.5h1M95.9 88.1h1M90.4 93.9h1M86.5 85.6h1M87.5 86.0h1M76.8 87.5h1M75.9 79.3h1M113.6 79.1h1M128.2 80.0h1M82.1 89.8h1M81.8 88.7h1M91.8 82.0h1M100.6 91.9h1M106.7 80.6h1M103.4 88.3h1M67.3 84.0h1M67.5 83.7h1M112.8 86.5h1M82.1 88.7h1M139.0 79.9h1M82.8 94.5h1M79.5 91.1h1M119.9 86.5h1M72.2 87.8h1M67.6 91.6h1M71.5 86.5h1M77.2 94.2h1M86.0 89.1h1M122.1 85.3h1M96.4 84.5h1M64.8 86.7h1M151.1 76.3h1M68.4 86.2h1M77.7 86.3h1M96.1 81.5h1M125.7 77.6h1M112.2 80.1h1M64.5 88.2h1M121.0 90.4h1M97.3 90.6h1M79.5 88.7h1M112.0 90.7h1M130.4 82.1h1M67.9 92.4h1M88.8 81.6h1M115.8 87.9h1M117.9 78.3h1M66.1 88.0h1M64.0 87.6h1M123.4 81.9h1M88.4 90.2h1M108.1 86.1h1M110.4 79.1h1M121.7 92.4h1M72.2 90.0h1M108.5 86.0h1M102.5 86.5h1M85.5 84.7h1M105.8 87.1h1M75.5 83.0h1M102.6 93.5h1M75.8 92.5h1M78.1 90.3h1M65.1 92.1h1M101.8 95.9h1M91.7 90.3h1M99.1 78.4h1M68.4 95.2h1M93.5 85.5h1M89.8 91.0h1M86.0 92.9h1M117.4 80.7h1M93.9 88.9h1M62.6 89.4h1M99.8 92.8h1M87.0 95.3h1M80.7 87.6h1M78.0 89.5h1M92.7 90.8h1M125.5 86.1h1M86.2 87.3h1M73.0 86.4h1M83.2 80.7h1M89.7 83.8h1M70.8 101.6h1M70.8 96.4h1M139.7 78.0h1M62.2 92.1h1M68.5 91.3h1M102.7 87.7h1M74.5 88.2h1M103.0 79.9h1M101.8 87.1h1M77.1 88.0h1M86.5 89.1h1M107.8 90.9h1M101.3 96.3h1M86.7 74.5h1M71.2 82.1h1M124.4 83.9h1M77.8 90.3h1M69.6 93.4h1M111.8 83.8h1M77.5 92.1h1M60.3 92.6h1M96.9 90.1h1M115.4 87.9h1M79.4 88.6h1M71.7 79.0h1M83.9 85.0h1M71.8 89.3h1M71.6 89.2h1M81.9 85.1h1M67.6 84.7h1M92.1 92.3h1M143.2 72.7h1M86.2 85.1h1M67.0 84.8h1M82.5 92.0h1M89.1 85.7h1M102.5 84.4h1M121.1 80.9h1M83.3 82.1h1M80.2 87.4h1M82.8 91.5h1M78.8 84.7h1M105.0 89.6h1M95.9 83.8h1M64.8 92.3h1M66.9 88.8h1M67.2 84.7h1M99.3 79.4h1M108.5 79.1h1M112.7 85.7h1M138.8 79.8h1M119.5 82.7h1M98.7 90.6h1M100.4 80.5h1M76.1 86.3h1M114.6 84.9h1M68.5 86.6h1M85.0 80.9h1M106.5 80.8h1M127.3 80.0h1M105.8 77.4h1M102.4 87.5h1M118.1 82.8h1M122.3 87.4h1M86.0 88.4h1M82.5 90.9h1M75.3 86.6h1M78.6 92.1h1M95.2 81.8h1M116.1 82.4h1M73.9 93.4h1M114.5 74.3h1M100.4 93.6h1M127.3 81.6h1M70.2 92.1h1M77.5 84.6h1M73.1 87.7h1M129.3 80.3h1M76.7 84.5h1M99.8 76.6h1M114.0 89.4h1M104.2 90.6h1M90.9 88.0h1M102.1 88.8h1M113.4 80.3h1M79.5 85.9h1M90.1 85.6h1M113.3 84.1h1M71.9 81.2h1M119.3 81.3h1M64.7 93.4h1M79.5 79.4h1M112.8 88.0h1M62.3 91.1h1M111.3 92.5h1M87.9 88.3h1M91.6 80.8h1M65.8 86.9h1M97.0 85.9h1M79.2 86.8h1M95.9 84.4h1M70.7 84.1h1M90.9 95.7h1M73.4 90.8h1M70.9 92.7h1M98.6 89.7h1M88.5 93.0h1M64.6 90.0h1M100.5 85.1h1M131.5 82.6h1M134.2 71.8h1M76.8 73.5h1M78.1 93.9h1M84.1 88.1h1M76.8 79.6h1M98.7 87.2h1M81.7 81.5h1M101.0 90.2h1M76.9 77.8h1M102.3 86.4h1M93.8 86.4h1M114.7 84.0h1M107.9 77.4h1M104.4 84.6h1M93.0 80.9h1M77.1 86.5h1M105.2 83.8h1M136.8 79.4h1M69.0 80.6h1M67.0 91.2h1M62.1 90.4h1M139.9 80.7h1M70.1 89.7h1M137.8 76.4h1M83.4 90.7h1M67.4 88.7h1M128.0 83.7h1M82.6 85.6h1M97.8 93.6h1M137.1 80.9h1M106.9 86.5h1M94.7 93.2h1M97.7 91.3h1M131.2 83.6h1M105.3 87.9h1M94.7 81.6h1M99.4 90.6h1M110.9 78.5h1M64.5 83.6h1M73.5 89.8h1M128.8 78.8h1M64.8 92.5h1M76.6 90.5h1M97.8 91.6h1M104.3 80.1h1M85.9 91.8h1M104.2 82.3h1M119.3 79.2h1M75.0 96.7h1M140.7 71.2h1M66.5 86.4h1M69.8 86.0h1M114.3 84.6h1M82.0 77.1h1M70.1 93.8h1M114.6 88.6h1M113.1 90.1h1M67.2 91.4h1M97.8 88.4h1M74.0 88.3h1M65.9 89.4h1M103.8 73.8h1M93.3 96.1h1M75.5 83.2h1M122.5 76.8h1M95.6 78.1h1M82.8 81.1h1M86.5 85.3h1M100.5 92.1h1M113.9 89.3h1M61.7 92.8h1M141.8 79.7h1M108.6 87.6h1M86.0 90.0h1M95.2 85.1h1M116.4 81.9h1M70.4 88.6h1M70.3 92.5h1M108.6 83.6h1M63.8 95.9h1M94.9 86.5h1M63.2 87.2h1M90.0 84.2h1M98.3 79.5h1M71.0 90.6h1M82.1 90.1h1M79.7 88.6h1M126.6 79.6h1M89.2 76.4h1M81.7 80.0h1M113.2 81.2h1M98.7 96.2h1M119.2 83.1h1M70.3 88.5h1M69.5 83.7h1M102.0 87.6h1M71.0 87.5h1M71.0 94.9h1M148.1 75.6h1M85.7 85.0h1M91.0 87.2h1M115.7 88.9h1M124.5 83.6h1M63.5 88.1h1M76.9 83.8h1M79.7 89.8h1M113.8 91.0h1M78.9 85.8h1M80.6 87.4h1M109.6 89.0h1M101.0 92.8h1M73.2 88.5h1M72.1 85.7h1M95.2 92.2h1M80.5 93.2h1M97.3 86.4h1M81.5 87.4h1M113.3 83.8h1M90.8 94.0h1M112.9 82.6h1M128.9 82.1h1M113.2 86.6h1M66.2 85.6h1M102.0 89.5h1M72.2 85.2h1M83.1 92.5h1M72.0 89.5h1M82.0 80.1h1M69.8 90.6h1M106.4 83.2h1M75.9 89.3h1M97.4 91.3h1M104.8 90.1h1M102.2 84.7h1M62.0 88.0h1M108.1 83.6h1M87.5 93.8h1M134.9 81.6h1M126.2 77.4h1M90.0 80.9h1M121.2 79.3h1M73.6 78.9h1M68.9 85.3h1M103.4 88.3h1M88.2 82.0h1M102.6 91.6h1M72.9 97.8h1M110.1 83.0h1M84.5 85.2h1M85.6 82.5h1M114.2 81.8h1M146.3 75.2h1M110.2 82.0h1M75.2 88.5h1M126.8 83.3h1M119.8 85.7h1M93.1 94.0h1M93.3 87.8h1M134.0 80.2h1M106.1 81.2h1M118.5 83.5h1M98.3 92.7h1M70.4 84.5h1M77.6 91.0h1M77.9 94.2h1M95.7 94.3h1M72.0 84.6h1M101.0 89.0h1M115.0 89.2h1M65.9 84.2h1M110.2 84.9h1M78.4 83.2h1M63.3 86.2h1M108.6 83.7h1M64.7 91.6h1M144.6 78.0h1M115.6 83.6h1M81.4 91.0h1M90.8 93.8h1M88.9 78.2h1M100.8 83.3h1M73.5 83.8h1M103.8 87.6h1M113.0 83.5h1M88.8 88.4h1M81.4 85.1h1M113.7 80.7h1M106.0 78.0h1M70.2 83.8h1M72.5 94.2h1M79.2 88.9h1M79.3 81.9h1M67.4 90.0h1M110.2 83.7h1M118.9 93.2h1M70.4 92.7h1M71.7 90.4h1M104.9 90.2h1M74.3 85.9h1M77.7 84.2h1M112.9 86.0h1M67.5 92.2h1M139.2 81.6h1M67.3 89.8h1M110.5 82.2h1M88.7 94.9h1M70.3 95.4h1M102.7 85.6h1M89.8 91.5h1M66.3 89.4h1M121.5 84.1h1M91.6 81.6h1" stroke="#000" stroke-width="1" fill="none"/>
<path d="M111.8 83.8h1M86.0 76.6h1M114.8 82.7h1M89.4 87.8h1M93.3 81.4h1M65.9 73.1h1M89.3 82.3h1M99.8 86.0h1M81.4 85.9h1M109.8 73.6h1M106.1 70.3h1M79.7 75.8h1M148.1 71.6h1M93.6 77.5h1M148.5 75.5h1M140.3 78.2h1M126.2 74.1h1M129.2 78.8h1M72.1 79.1h1M68.4 87.0h1M77.2 83.1h1M100.0 75.3h1M138.3 64.6h1M70.2 86.6h1M93.1 81.4h1M89.5 84.6h1M73.9 79.8h1M121.3 83.1h1M64.6 88.2h1M78.1 88.8h1M82.8 82.6h1M96.8 73.9h1M72.7 84.8h1M148.7 69.6h1M109.8 85.0h1M65.4 81.0h1M80.1 83.3h1M78.1 82.0h1M150.6 73.8h1M137.9 71.9h1M95.0 80.2h1M146.6 75.7h1M117.4 62.4h1M76.0 88.5h1M90.6 83.9h1M149.8 76.0h1M141.5 66.2h1M67.4 78.1h1M90.9 83.0h1M151.6 68.2h1M80.7 84.9h1M128.2 80.8h1M85.4 76.1h1M88.5 73.1h1M69.9 88.9h1M108.1 71.9h1M124.6 79.4h1M102.1 78.0h1M67.6 76.1h1M119.2 83.6h1M79.4 87.7h1M86.8 78.8h1M140.6 70.1h1M116.4 71.5h1M144.4 78.1h1M90.8 86.0h1M101.8 76.2h1M97.9 77.4h1M139.0 75.3h1M70.2 77.6h1M110.6 73.8h1M65.3 79.0h1M90.8 86.4h1M70.7 88.0h1M123.2 78.0h1M96.9 85.2h1M65.2 89.3h1M152.4 67.4h1M115.3 80.3h1M116.4 81.3h1M114.7 78.1h1M120.1 82.8h1M72.8 88.7h1M62.4 90.1h1M102.7 87.0h1M113.7 83.4h1M138.3 65.1h1M105.7 78.9h1M105.2 82.7h1M147.3 62.4h1M104.1 86.3h1M105.3 84.0h1M77.6 88.7h1M108.1 82.8h1M96.0 86.0h1M73.1 86.8h1M64.6 82.3h1M124.4 71.4h1M128.2 72.7h1M92.4 78.2h1M103.1 70.1h1M132.7 68.9h1M98.2 83.9h1M76.0 89.3h1M63.4 89.3h1M115.4 82.5h1M91.1 84.5h1M141.3 77.1h1M85.1 76.5h1M127.1 77.2h1M122.9 74.9h1M75.2 75.8h1M132.1 74.1h1M89.0 75.9h1M89.1 85.2h1M80.1 83.6h1M123.9 63.1h1M79.7 81.1h1M128.5 74.6h1M71.5 82.1h1M137.4 78.5h1M133.9 71.1h1M91.2 85.4h1M62.4 82.3h1M126.7 80.4h1M151.7 68.9h1M133.4 63.9h1M81.8 73.9h1M88.1 77.6h1M132.6 72.6h1M114.5 76.5h1M135.3 77.1h1M130.9 77.7h1M122.4 75.4h1M149.7 61.2h1M71.9 74.8h1M93.7 76.2h1M80.7 88.9h1M65.1 85.1h1M70.7 85.0h1M77.9 88.7h1M95.5 83.2h1M152.1 66.5h1M143.9 70.2h1M93.6 74.5h1M150.1 66.3h1M144.1 61.9h1M135.1 73.1h1M94.2 85.2h1M99.9 80.8h1M147.6 62.7h1M137.2 71.4h1M112.1 75.7h1M137.2 65.9h1M82.1 84.6h1M113.1 74.4h1M111.1 82.2h1M131.0 76.2h1M70.3 88.8h1M77.6 88.4h1M105.8 78.8h1M153.3 68.7h1M145.4 68.1h1M116.8 83.8h1M108.0 85.9h1M136.0 74.5h1M96.8 80.9h1M126.5 70.4h1M129.7 70.9h1M133.1 79.7h1M104.5 86.1h1M154.0 72.4h1M126.1 74.0h1M81.6 83.6h1M129.3 68.2h1M139.3 63.7h1M86.4 79.6h1M94.5 78.7h1M131.3 66.7h1M136.3 72.0h1M126.0 71.6h1M145.0 77.4h1M126.3 71.8h1M100.4 87.2h1M137.5 70.9h1M90.8 87.3h1M74.1 85.2h1M69.9 83.0h1M100.6 80.6h1M151.3 64.5h1M81.4 84.1h1M85.4 87.6h1M78.3 86.7h1M106.6 80.0h1M71.2 83.5h1M66.8 86.1h1M115.5 84.2h1M112.6 79.4h1M90.0 82.2h1M116.1 80.6h1M124.1 73.3h1M132.4 70.9h1M103.2 86.4h1M90.2 85.2h1M100.5 81.0h1M83.5 77.9h1M117.1 66.0h1M153.8 66.5h1M82.1 84.8h1M66.5 89.3h1M133.4 81.0h1M137.8 76.5h1M95.5 82.7h1M102.0 85.0h1M127.3 71.9h1M87.3 86.9h1M87.9 84.1h1M129.3 81.7h1M99.2 79.6h1M144.8 74.9h1M142.7 69.7h1M132.1 76.3h1M154.4 67.2h1M65.5 72.0h1M75.5 82.0h1M79.1 86.9h1M75.1 76.2h1M127.9 80.2h1M80.6 74.7h1M76.1 89.4h1M105.4 86.6h1M101.5 84.7h1M83.3 87.9h1M117.6 74.9h1M116.5 62.9h1M70.1 82.8h1M83.6 84.4h1M92.3 78.5h1M65.9 81.2h1M123.8 83.2h1M126.3 72.0h1M91.8 84.9h1M79.7 87.8h1M127.6 69.4h1M118.3 75.5h1M127.5 80.6h1M116.7 79.3h1M119.2 81.8h1M112.2 66.8h1M152.7 65.8h1M74.5 80.7h1M131.0 79.2h1M83.5 73.5h1M89.2 80.9h1M121.1 72.5h1M82.8 82.3h1M76.2 85.0h1M151.7 60.5h1M64.4 87.5h1M135.0 74.7h1M78.9 86.6h1M75.9 87.8h1M151.0 62.9h1M139.8 66.8h1M126.0 72.4h1M132.1 75.2h1M120.9 83.9h1M68.0 86.9h1M89.5 88.2h1M87.7 87.1h1M99.3 86.3h1M67.0 75.7h1M141.5 70.9h1M116.2 72.4h1M72.3 81.1h1M138.5 78.0h1M147.6 71.8h1M116.8 84.2h1M111.3 77.4h1M100.1 86.0h1M87.1 75.7h1M152.7 74.5h1M141.1 74.1h1M114.3 83.1h1M105.3 85.1h1M75.2 82.8h1M142.1 66.3h1M117.9 81.5h1M123.7 83.6h1M73.3 75.8h1M81.2 85.2h1M147.3 63.0h1M124.1 76.8h1M73.8 88.6h1M143.5 66.1h1M134.2 72.4h1M85.1 79.1h1M103.8 85.5h1M127.6 73.4h1M133.2 76.7h1M64.9 83.9h1M69.0 83.9h1M139.5 71.8h1M145.9 67.8h1M109.5 83.4h1M77.0 72.2h1M102.4 85.4h1M99.3 81.1h1M123.2 80.9h1M116.9 84.6h1M82.2 74.9h1M128.9 65.5h1M93.7 73.9h1M102.1 79.8h1M146.3 76.6h1M98.6 87.7h1M109.2 77.3h1M150.3 71.4h1M117.8 79.4h1M69.4 88.7h1M71.5 88.5h1M117.0 77.7h1M68.5 89.6h1M65.2 87.9h1M112.0 73.3h1M118.1 83.3h1M79.1 73.6h1M85.6 84.5h1M77.3 80.4h1M94.2 85.5h1M150.9 71.2h1M101.2 77.7h1M114.6 71.3h1M69.8 88.0h1M143.3 76.6h1M66.6 85.9h1M119.3 81.2h1M132.4 70.1h1M146.7 74.3h1M132.4 79.1h1M126.5 75.7h1M110.4 85.1h1M113.1 69.3h1M131.7 69.8h1M76.3 84.2h1M78.2 88.5h1M72.5 86.3h1M138.5 72.3h1M150.8 68.3h1M103.9 81.3h1M85.4 85.0h1M62.2 86.6h1M96.7 83.4h1M99.2 82.4h1M135.4 77.3h1M84.5 86.3h1M105.5 76.7h1M73.1 88.5h1M142.8 74.8h1M97.1 81.5h1M113.9 82.6h1M142.5 77.5h1M122.5 83.9h1M128.5 73.8h1M81.8 84.6h1M81.1 84.6h1M143.4 77.0h1M141.7 75.9h1M148.5 66.5h1M69.2 81.9h1M80.9 81.4h1M118.9 72.8h1M68.3 85.5h1M85.1 83.3h1M112.0 85.2h1M115.0 80.8h1M142.6 77.9h1M70.0 88.3h1M90.2 78.9h1M124.3 80.5h1M141.2 75.8h1M129.0 82.2h1M133.0 68.5h1M78.0 76.0h1M86.9 84.0h1M78.4 76.1h1M71.2 82.6h1M102.1 86.5h1M65.8 85.8h1M112.3 83.7h1M82.6 83.3h1M117.1 80.9h1M100.2 79.3h1M111.5 79.4h1M76.9 85.6h1M67.6 86.5h1M87.3 87.4h1M97.7 86.7h1M107.9 86.3h1M69.4 83.7h1M64.8 88.4h1M68.6 83.0h1M83.0 77.4h1M135.9 80.4h1M143.5 78.2h1M124.2 81.5h1M88.0 73.7h1M140.3 71.7h1M110.9 76.5h1M93.0 78.1h1M147.1 64.2h1M75.6 88.0h1M79.5 83.2h1M128.8 78.0h1M70.2 78.4h1M79.2 87.0h1M103.4 77.5h1M78.6 82.7h1M122.5 69.7h1M145.4 69.8h1M67.6 80.0h1M75.6 83.9h1M151.9 68.6h1M115.1 78.4h1M153.2 74.4h1M144.5 78.1h1M77.8 89.0h1M97.0 86.5h1M107.7 71.4h1M111.7 79.6h1M106.3 83.3h1M125.1 76.7h1M130.6 81.9h1M145.5 76.8h1M108.7 80.5h1M106.7 80.9h1M101.7 79.3h1M131.7 75.2h1M131.3 57.8h1M84.2 87.2h1M123.8 69.6h1M146.4 77.4h1M79.9 81.1h1M76.5 87.2h1M135.3 78.6h1M93.7 81.5h1M110.2 62.6h1M143.3 69.3h1M110.1 72.0h1M112.3 85.5h1M84.2 77.7h1M143.7 67.6h1M122.3 77.6h1M129.2 75.2h1M72.6 89.1h1M96.9 65.9h1M62.7 85.2h1M91.4 75.5h1M145.5 74.2h1M78.6 82.0h1M145.0 71.8h1M118.5 63.4h1M106.9 81.2h1M145.1 70.6h1M130.1 75.3h1M114.2 80.8h1M119.1 73.4h1M96.6 87.9h1M90.6 81.4h1M114.0 74.9h1M125.9 82.6h1M62.6 87.0h1M87.4 73.3h1M134.8 73.3h1M148.2 70.3h1M66.2 76.0h1M151.3 60.1h1M78.4 84.7h1M153.8 73.9h1M73.8 83.9h1M149.9 69.9h1M122.4 72.6h1M91.3 70.4h1M151.4 69.6h1M132.9 69.7h1M64.5 81.5h1M62.1 89.0h1M149.1 68.0h1M92.0 76.0h1M85.2 76.3h1M148.0 65.5h1M115.0 83.9h1M99.2 77.0h1M98.3 73.8h1M76.4 86.1h1M89.4 67.8h1M101.3 79.7h1M92.3 67.9h1M125.3 66.5h1M91.4 77.4h1M88.0 88.4h1M141.5 64.7h1M64.8 72.4h1M140.4 70.5h1M93.1 79.0h1M112.1 85.9h1M115.6 79.3h1M104.1 80.7h1M150.4 72.6h1M148.9 66.6h1M128.9 78.6h1M140.6 70.4h1M116.9 78.1h1M114.3 84.0h1M113.2 83.5h1M64.1 87.5h1M152.9 71.2h1M141.3 75.3h1M145.2 67.0h1M63.1 87.8h1M148.5 70.9h1M142.9 72.9h1M122.9 83.5h1M117.5 83.6h1M97.5 72.7h1M78.5 84.8h1M72.5 86.5h1M117.6 64.3h1M140.6 75.4h1M90.4 82.9h1M85.1 81.4h1M73.6 83.8h1M147.8 75.9h1M107.1 75.2h1M85.0 82.3h1M89.1 85.7h1M107.5 77.2h1M147.1 69.9h1M142.5 69.7h1M87.7 71.1h1M97.8 78.0h1M105.1 75.4h1M118.6 84.3h1M77.0 82.9h1M149.7 66.7h1M96.8 80.3h1M111.0 81.4h1M144.0 70.8h1M134.1 77.5h1M141.5 76.6h1M148.8 69.2h1M113.0 80.4h1M97.5 78.5h1M125.5 60.1h1M101.5 84.3h1M118.5 55.8h1M122.0 79.2h1M65.4 84.7h1M107.5 67.7h1M133.8 78.2h1M144.2 69.9h1M71.0 77.8h1M83.9 76.7h1M124.6 69.3h1M125.6 74.7h1M104.3 86.0h1M104.5 82.4h1M109.4 78.5h1M151.0 61.2h1M67.0 85.0h1M130.5 68.5h1M79.3 88.1h1M143.7 75.9h1M112.9 81.9h1M136.6 71.1h1M94.3 82.7h1M123.4 83.0h1M81.6 80.2h1M113.6 83.5h1M128.9 75.8h1M129.4 79.0h1M69.0 89.0h1M89.7 83.6h1M108.9 77.5h1M104.2 84.1h1M139.5 70.9h1M99.8 87.4h1M117.3 78.3h1M98.5 74.5h1M105.4 70.3h1M123.0 64.8h1M77.1 79.4h1M133.0 76.6h1M111.8 71.3h1M130.0 73.9h1M89.4 78.7h1M115.0 84.9h1M116.5 78.6h1M68.5 83.1h1M108.1 78.7h1M115.3 61.9h1M116.3 74.1h1M149.4 64.1h1M93.8 87.8h1M147.0 75.3h1M117.8 70.4h1M93.1 82.6h1M73.2 81.2h1M124.5 81.3h1M93.3 83.7h1M79.5 87.3h1M136.4 66.7h1M136.8 80.3h1M124.0 79.8h1M85.7 85.4h1M147.1 65.3h1M121.1 80.1h1M106.8 78.7h1M80.7 75.4h1M74.7 85.9h1M133.8 67.6h1M91.6 81.6h1M115.2 72.8h1M152.7 66.6h1M90.4 79.8h1M134.0 69.3h1M70.0 75.4h1M79.2 73.1h1M138.6 71.8h1M149.6 56.0h1M122.7 80.8h1M65.1 85.7h1M124.7 83.2h1M107.2 78.7h1M73.9 84.5h1M150.9 72.3h1M151.6 66.5h1M113.8 82.9h1M77.0 89.3h1M123.1 81.7h1M68.7 87.6h1M63.8 87.9h1M108.9 85.3h1M132.2 77.4h1M129.4 77.0h1M114.8 85.1h1M78.9 85.2h1M78.4 88.7h1M116.3 84.4h1M75.1 84.7h1M88.5 81.5h1M121.3 70.9h1M79.6 80.1h1M89.3 86.0h1M119.9 82.7h1M87.7 82.9h1M91.6 88.0h1M145.9 66.2h1M152.7 64.6h1M82.1 87.7h1M86.1 88.7h1M83.2 75.6h1M115.2 80.7h1M72.2 88.8h1M107.5 79.5h1M135.1 68.2h1M73.4 85.6h1M137.4 74.3h1M99.7 78.9h1M144.2 67.9h1M103.9 86.4h1M101.0 82.8h1M68.3 84.3h1M148.8 69.6h1M143.4 78.1h1M133.5 68.7h1M74.9 88.5h1M85.3 72.0h1M101.4 85.4h1M151.5 71.2h1M109.8 80.1h1M97.8 87.0h1M96.2 83.5h1M121.3 77.4h1M147.1 66.6h1M149.2 74.0h1M103.6 70.3h1M92.0 86.3h1M109.8 74.2h1M104.5 86.0h1M134.2 69.1h1M132.4 73.2h1M98.7 80.2h1M145.9 74.5h1M131.2 73.9h1M110.8 76.5h1M125.9 69.7h1M74.6 81.1h1M117.9 77.8h1M100.2 82.9h1M119.2 63.6h1M83.7 79.8h1M127.9 72.3h1M79.1 81.3h1M110.0 79.1h1M117.6 73.3h1M124.4 76.2h1M149.4 58.6h1M71.4 87.4h1M139.0 77.4h1M114.4 74.1h1M93.4 87.3h1M73.8 86.5h1M85.1 88.3h1M64.4 86.0h1M69.6 87.9h1M154.2 61.9h1M108.7 78.0h1M133.4 73.3h1M81.7 73.2h1M85.3 88.5h1M129.7 76.3h1M92.1 74.9h1M89.5 78.4h1M150.9 60.0h1M116.1 80.6h1M104.1 82.4h1M123.8 70.1h1M64.8 78.7h1M68.1 79.4h1M96.7 85.3h1M92.4 80.8h1M101.8 84.4h1M123.5 75.6h1M104.9 86.6h1M65.4 86.8h1M128.1 80.4h1M133.4 69.2h1M105.2 80.9h1M79.6 83.3h1M136.3 75.6h1M91.5 81.2h1M78.9 72.2h1M98.3 77.4h1M145.6 75.1h1M66.1 89.4h1M110.0 83.2h1M131.9 77.9h1M116.0 79.1h1M83.4 81.0h1M104.8 80.7h1M85.0 87.9h1M65.3 81.9h1M124.6 79.2h1M103.6 76.6h1M119.8 78.0h1M143.9 77.2h1M70.7 79.6h1M141.5 75.9h1M67.9 73.7h1M75.5 80.1h1M93.2 79.4h1M95.3 85.3h1M135.0 79.5h1M115.8 83.3h1M141.4 73.6h1M105.9 82.5h1M109.6 82.7h1M151.4 75.6h1M69.9 74.7h1M127.7 78.7h1M97.6 82.4h1M67.6 86.7h1M86.4 79.0h1M125.3 72.9h1M140.1 69.4h1M124.4 81.7h1M137.3 77.6h1M130.6 81.1h1M114.8 75.2h1M78.5 81.5h1M110.0 79.8h1M74.0 86.8h1M125.7 74.5h1M95.4 80.9h1M98.7 87.6h1M72.5 80.5h1M106.4 86.5h1M93.4 85.5h1M100.1 67.0h1M107.7 72.1h1M106.8 82.4h1M131.8 66.9h1M109.2 76.7h1M124.4 78.2h1M82.5 88.1h1M83.7 84.7h1M107.6 74.5h1M107.9 86.2h1M143.0 76.4h1M71.6 81.7h1M152.2 71.6h1M149.0 76.8h1M120.8 82.5h1M144.2 70.3h1M70.6 79.6h1M136.9 80.1h1M88.1 81.2h1M154.2 71.8h1M98.2 84.3h1M65.2 83.5h1M102.6 81.3h1M118.9 81.3h1M142.5 70.6h1M115.8 78.1h1M82.6 78.6h1M88.2 69.2h1M83.9 87.3h1M74.1 79.2h1M99.6 87.0h1M121.7 75.2h1M144.8 75.1h1M98.7 79.9h1M78.2 73.9h1M132.0 75.9h1M64.5 86.7h1M152.1 71.7h1M124.1 72.9h1M120.1 80.3h1M112.5 74.9h1M116.7 67.0h1M70.6 79.3h1M95.9 84.9h1M131.2 79.7h1M97.6 86.8h1M96.0 84.6h1M153.9 67.5h1M74.5 86.8h1M122.1 79.8h1M89.6 81.1h1M123.2 68.1h1M107.5 84.1h1M153.9 70.5h1M115.8 75.3h1M97.6 74.4h1M145.3 76.0h1M103.4 84.3h1M152.1 71.9h1M141.3 66.5h1M124.3 68.3h1M150.1 68.1h1M82.4 87.0h1M97.2 77.4h1M67.7 76.5h1M128.3 78.9h1M67.9 88.6h1M112.3 79.0h1M135.1 63.8h1M126.8 80.9h1M128.1 68.2h1M123.8 77.3h1M86.9 88.6h1M128.3 78.7h1M98.5 67.0h1M125.7 78.8h1M85.0 86.1h1M102.8 83.8h1M84.1 79.2h1M98.4 75.2h1M107.9 85.2h1M109.3 84.4h1M75.8 89.1h1M117.4 78.0h1M152.6 72.7h1M105.2 85.7h1M109.9 77.7h1M144.9 73.5h1M68.4 89.8h1M89.8 85.4h1M100.1 69.0h1M90.0 80.4h1M145.6 75.8h1M76.5 81.7h1M120.1 79.8h1M132.8 72.1h1M153.5 74.7h1M140.9 70.2h1M145.2 77.5h1M148.7 68.8h1M126.1 74.1h1M133.7 79.9h1M151.9 74.6h1M134.8 79.8h1M112.1 81.4h1M148.8 66.1h1M128.8 76.6h1M132.8 79.6h1M96.9 87.8h1M74.5 88.4h1M111.6 78.8h1M85.5 87.1h1M127.4 65.9h1M71.9 85.7h1M113.2 71.7h1M68.9 89.1h1M120.5 83.2h1M122.5 79.3h1M78.0 88.5h1M107.3 79.0h1M90.2 86.0h1M67.8 85.2h1M77.9 81.5h1M142.0 70.5h1M108.1 67.3h1M130.9 80.0h1M150.8 71.9h1M64.8 79.9h1M144.4 71.8h1M113.0 84.9h1M108.8 73.1h1M82.6 71.3h1M110.7 84.0h1M110.7 77.7h1M151.9 67.4h1M121.9 75.7h1M76.7 87.8h1M141.6 72.8h1M100.4 82.7h1M80.3 86.3h1M85.7 86.3h1M136.5 75.7h1M64.2 87.8h1M65.8 89.9h1M87.2 84.7h1M148.8 70.0h1M88.2 86.4h1M144.3 77.6h1M128.8 78.2h1M137.3 76.8h1M139.1 79.3h1M85.2 88.3h1M67.8 79.9h1M90.1 87.9h1M73.1 86.8h1M149.4 63.9h1M130.4 77.3h1M81.3 83.2h1M107.6 80.5h1M86.2 81.7h1M107.6 73.3h1M110.0 72.5h1M116.4 72.2h1M144.4 67.7h1M83.5 80.9h1M63.2 85.5h1M82.9 88.1h1M135.3 79.5h1M80.2 87.2h1M111.8 82.2h1M65.3 88.4h1M105.2 79.6h1M98.3 75.0h1M117.4 82.7h1M149.4 72.0h1M144.2 74.7h1M142.6 67.9h1M144.8 76.2h1M74.3 83.1h1M144.6 74.5h1M105.9 86.0h1M111.8 81.4h1M117.8 77.6h1M115.5 78.5h1M110.7 84.3h1M151.3 72.6h1M77.5 86.8h1M93.3 86.4h1M93.3 76.3h1M92.8 76.1h1M100.4 84.1h1M105.1 80.4h1M108.9 83.6h1M91.6 86.9h1M111.2 83.5h1M147.1 76.4h1M141.7 73.1h1M134.5 78.7h1M124.5 68.1h1M72.7 72.6h1M154.0 71.1h1M133.3 78.3h1M147.7 77.1h1M94.9 87.0h1M129.5 73.4h1M75.7 87.7h1M64.1 84.1h1M76.6 85.1h1M84.1 83.9h1M71.9 82.5h1M125.5 81.9h1M120.0 73.2h1M120.2 73.7h1M83.4 82.4h1M112.7 72.1h1M62.0 79.1h1M82.6 86.7h1M72.6 84.0h1M66.5 87.2h1M88.7 84.9h1M130.8 75.7h1M70.4 82.5h1M111.8 81.2h1M135.1 76.8h1M82.5 79.5h1M114.4 81.3h1M145.1 75.7h1M145.5 68.7h1M97.7 84.0h1M133.2 75.8h1M64.6 87.9h1M122.5 63.8h1M113.4 72.3h1M135.1 70.1h1M126.2 72.4h1M134.2 79.3h1M68.3 73.1h1M131.9 65.5h1M100.8 83.5h1M99.4 87.0h1M132.1 76.0h1M121.9 78.4h1M129.3 80.2h1M68.4 73.7h1M87.9 79.8h1M103.6 77.5h1M72.4 83.7h1M123.8 76.4h1M108.5 78.2h1M101.2 83.7h1M154.1 65.4h1M126.0 66.0h1M79.1 85.8h1M146.2 75.2h1M124.0 82.8h1M145.6 70.5h1M136.1 73.2h1M133.2 65.1h1M124.6 78.3h1M115.1 72.2h1M90.0 80.6h1M86.6 87.8h1M80.3 86.2h1M95.7 84.4h1M103.6 81.8h1M127.5 68.0h1M123.8 73.8h1M85.9 85.7h1M128.5 67.8h1M82.9 84.7h1M114.9 68.5h1M64.8 89.3h1M143.6 70.8h1M94.9 84.2h1M107.0 86.7h1M84.6 84.1h1M100.9 78.8h1M103.5 82.2h1M140.6 73.5h1M118.9 79.5h1M115.1 80.1h1M72.4 84.0h1M140.1 63.2h1M65.0 85.5h1M139.3 69.8h1M142.6 69.4h1M69.9 77.0h1M120.3 74.6h1M123.6 79.5h1M149.8 66.4h1M78.1 88.4h1M152.4 64.3h1M130.6 80.2h1M120.2 77.2h1M76.0 85.0h1M85.9 88.5h1M118.8 77.1h1M107.7 80.8h1M93.9 85.2h1M114.3 79.7h1M90.0 82.8h1M68.9 87.6h1M131.1 80.4h1M63.1 74.2h1M108.0 83.0h1M145.4 75.1h1M103.4 84.7h1M108.2 75.0h1M67.6 82.8h1M95.4 78.3h1M97.4 86.6h1M132.6 62.0h1M72.7 78.0h1M119.3 79.2h1M95.3 77.7h1M100.4 82.7h1M92.9 69.6h1M123.1 76.9h1M148.3 73.4h1M116.6 71.8h1M141.5 77.0h1M114.4 76.9h1M69.7 68.7h1M148.1 71.1h1M107.4 79.6h1M144.0 77.5h1M77.9 82.7h1M127.4 70.6h1M98.0 82.4h1M67.2 87.6h1M62.6 88.7h1M70.4 74.1h1M104.2 74.1h1M141.0 69.0h1M100.7 85.7h1M98.8 85.2h1M139.2 74.0h1M138.1 79.8h1M111.8 85.3h1M118.6 75.8h1M108.4 69.8h1M89.0 88.2h1M152.1 71.5h1M84.0 74.0h1M82.0 87.5h1M108.2 68.5h1M74.7 82.8h1M94.1 82.7h1M142.5 76.1h1M69.9 77.5h1M133.0 62.4h1M70.8 87.6h1M147.7 74.3h1M88.5 88.5h1M87.1 84.3h1M97.2 80.1h1M154.3 73.9h1M93.6 80.0h1M72.9 83.5h1M122.6 78.8h1M76.3 86.0h1M124.9 81.4h1M67.4 80.1h1M93.1 84.3h1M141.9 73.9h1M87.1 77.5h1M110.8 79.5h1M100.8 75.2h1M137.8 78.5h1M110.5 84.3h1M105.0 79.9h1M121.8 77.3h1M105.6 86.1h1M139.8 63.2h1M93.7 88.1h1M83.2 72.2h1M69.1 82.2h1M137.2 77.6h1M115.1 78.2h1M131.6 69.6h1M89.3 73.5h1M131.8 74.4h1M77.3 78.6h1M134.1 74.4h1M107.9 85.3h1M75.5 81.8h1M117.6 82.5h1M90.9 76.4h1M114.8 77.1h1M84.7 80.0h1M115.6 84.6h1M99.8 81.4h1M115.4 81.1h1M87.6 79.9h1M91.9 86.1h1M95.3 83.6h1M110.8 84.4h1M129.7 82.3h1M66.3 85.7h1M72.8 74.0h1M130.9 81.7h1M105.7 86.8h1M106.1 82.9h1M142.4 69.3h1M99.5 72.3h1M118.1 69.0h1M65.1 87.2h1M81.6 69.9h1M136.2 70.1h1M115.8 73.4h1M87.3 75.0h1M153.0 70.5h1M107.3 78.3h1M99.8 64.7h1M76.0 82.2h1M112.5 78.5h1M149.7 73.0h1M121.9 80.0h1M101.7 82.6h1M126.7 77.3h1M140.7 65.2h1M138.5 78.1h1M109.7 84.1h1M95.6 86.3h1M68.5 85.0h1M64.1 79.4h1M113.5 84.9h1M127.1 75.7h1M79.8 80.4h1M137.5 62.5h1M78.6 89.2h1M120.2 72.8h1M98.1 67.0h1M123.1 72.2h1M96.2 79.0h1M94.5 85.4h1M137.9 64.0h1M83.0 73.4h1M106.9 78.3h1M138.4 73.2h1M112.9 82.1h1M66.7 88.6h1M117.6 80.5h1M73.4 75.4h1M137.2 76.2h1M113.8 76.6h1M151.6 73.8h1M72.9 82.7h1M95.0 87.4h1M148.6 76.7h1M138.9 71.4h1M69.0 80.8h1M92.0 67.2h1M91.3 76.2h1M145.2 71.5h1M99.7 80.5h1M132.3 72.2h1M76.9 80.9h1M72.3 82.3h1M120.4 83.2h1M127.1 72.2h1M137.2 71.5h1M128.3 78.8h1M86.3 82.1h1M150.0 64.2h1M94.9 85.5h1M77.7 81.0h1M84.1 87.2h1M65.2 86.6h1M109.9 77.7h1M119.7 84.1h1M69.4 82.9h1M149.8 71.3h1M102.9 87.1h1M99.6 87.4h1M64.0 88.7h1M145.9 74.7h1M118.2 80.2h1M64.9 78.1h1M71.9 82.4h1M107.1 86.3h1M109.4 85.4h1M108.2 82.9h1M64.4 86.7h1M68.8 87.5h1M123.7 60.1h1M141.3 75.7h1M76.4 80.4h1M115.7 83.7h1M70.6 77.9h1M139.1 70.9h1M150.2 58.5h1M105.1 81.3h1M108.8 86.3h1M94.1 85.2h1M100.6 79.7h1M75.6 71.4h1M76.6 77.5h1M72.0 82.9h1M137.1 69.0h1M79.1 76.0h1M132.5 71.7h1M143.6 70.8h1M111.7 79.1h1M144.3 75.5h1M106.8 84.3h1M104.7 76.0h1M148.9 73.3h1M123.8 82.6h1M135.0 74.5h1M121.4 79.8h1M85.6 72.6h1M146.6 71.4h1M131.7 80.4h1M85.3 83.4h1M99.4 84.2h1M98.8 78.7h1M143.0 78.6h1M127.2 77.2h1M129.4 67.2h1M80.2 86.0h1M87.6 75.3h1M99.2 84.5h1M151.5 61.2h1M114.6 79.7h1M137.2 68.2h1M77.9 87.5h1M109.1 80.5h1M102.9 78.7h1M87.1 81.3h1M65.0 85.0h1M130.1 70.6h1M142.0 69.9h1M62.6 77.0h1M92.0 83.9h1M151.9 71.9h1M73.2 84.7h1M125.3 76.4h1M133.5 63.7h1M110.7 77.9h1M125.8 76.5h1M120.8 73.1h1M154.2 74.1h1M136.1 77.2h1M102.8 82.3h1M150.7 72.7h1M136.2 75.2h1M123.2 83.3h1M83.9 79.3h1M71.1 80.8h1M88.0 79.1h1M74.0 87.7h1M130.3 81.5h1M63.7 88.0h1M73.9 76.3h1M88.1 83.5h1M73.7 86.2h1M120.0 73.4h1M136.6 80.1h1M78.5 82.5h1M85.9 85.1h1M102.8 85.1h1M100.7 81.7h1M102.6 79.2h1M103.6 84.2h1M88.7 81.1h1M132.1 74.8h1M103.5 81.8h1M67.2 88.0h1M153.7 66.2h1M87.5 71.3h1M112.5 84.1h1M129.6 64.6h1M93.5 84.8h1M143.0 72.4h1M65.4 75.6h1M147.7 69.9h1M69.7 87.1h1M100.2 86.1h1M99.1 85.3h1M153.7 64.3h1M143.0 73.9h1M81.2 76.5h1M118.2 77.6h1M120.7 80.7h1M109.2 75.0h1M67.2 77.5h1M93.3 62.3h1M125.9 82.4h1M143.8 77.9h1M141.4 78.7h1M134.6 94.4h1M133.6 84.1h1M90.6 95.0h1M135.1 84.2h1M97.1 90.5h1M95.0 89.2h1M115.2 86.9h1M83.9 99.0h1M87.2 91.4h1M87.5 93.5h1M66.5 90.7h1M117.7 93.0h1M112.6 91.0h1M148.0 80.6h1M129.4 89.5h1M86.7 92.7h1M119.8 83.5h1M130.8 99.2h1M97.2 88.5h1M113.2 88.2h1M101.1 86.9h1M90.5 93.5h1M121.8 91.7h1M80.4 89.4h1M149.6 75.9h1M135.9 88.9h1M64.9 107.0h1M142.4 78.8h1M92.3 95.4h1M144.3 83.6h1M101.1 87.8h1M117.8 92.9h1M74.1 97.3h1M111.6 87.0h1M151.6 78.8h1M81.8 98.3h1M78.6 97.0h1M119.2 90.0h1M119.3 89.3h1M136.8 89.2h1M149.8 91.6h1M127.5 102.6h1M147.9 87.4h1M116.4 84.9h1M64.1 95.5h1M73.3 90.4h1M65.5 90.4h1M114.9 89.8h1M125.1 90.4h1M95.9 91.9h1M134.9 85.7h1M106.3 92.3h1M88.9 96.6h1M63.5 95.2h1M117.3 84.8h1M91.6 97.2h1M86.0 97.1h1M100.5 93.9h1M110.8 92.6h1M113.1 86.5h1M151.0 87.7h1M109.1 90.7h1M126.3 88.6h1M93.3 94.9h1M99.4 91.4h1M139.6 81.9h1M80.3 93.2h1M153.4 78.6h1M78.6 88.7h1M107.7 91.5h1M151.1 81.2h1M64.2 92.4h1M91.7 104.5h1M112.8 89.4h1M109.2 88.6h1M119.9 96.9h1M116.2 96.2h1M133.6 80.9h1M116.3 89.1h1M105.7 91.0h1M73.9 90.0h1M145.8 78.0h1M120.5 91.1h1M142.7 81.1h1M139.9 92.9h1M69.0 89.5h1M78.5 95.2h1M131.2 92.6h1M107.1 86.7h1M92.1 94.4h1M130.5 93.2h1M127.0 87.7h1M71.1 89.8h1M63.0 97.1h1M154.4 78.3h1M80.1 88.6h1M96.9 95.7h1M91.6 102.5h1M146.0 79.3h1M103.9 87.9h1M152.8 84.9h1M146.4 83.8h1M90.8 93.1h1M123.3 93.0h1M146.9 83.9h1M101.8 99.0h1M108.4 89.7h1M135.3 88.7h1M106.2 90.6h1M140.0 85.1h1M122.3 83.5h1M91.6 93.6h1M109.2 88.6h1M109.6 98.1h1M119.8 88.0h1M78.0 97.0h1M151.5 86.1h1M86.9 106.5h1M75.1 98.2h1M113.4 86.0h1M122.4 89.5h1M138.3 95.4h1M138.3 84.1h1M149.7 83.4h1M132.0 82.0h1M143.7 78.4h1M103.4 90.6h1M127.2 98.6h1M142.4 78.9h1M93.2 94.3h1M137.2 81.3h1M82.7 94.5h1M136.9 85.5h1M116.8 84.1h1M95.5 91.5h1M93.4 89.8h1M112.0 92.8h1M146.1 85.8h1M133.8 85.7h1M107.8 96.2h1M152.0 76.6h1M111.0 96.6h1M66.1 90.8h1M63.0 104.3h1M119.6 95.9h1M128.0 95.5h1M122.8 83.6h1M95.2 88.3h1M103.5 87.3h1M107.7 87.5h1M108.9 89.6h1M66.3 101.5h1M107.2 97.2h1M123.2 88.2h1M105.7 89.7h1M100.8 98.2h1M66.4 95.4h1M72.7 88.8h1M71.2 104.1h1M111.9 98.6h1M101.0 89.6h1M117.3 92.4h1M117.7 96.8h1M88.9 102.4h1M141.9 92.8h1M90.1 93.2h1M146.4 84.9h1M135.4 88.6h1M133.1 89.5h1M86.7 105.0h1M151.5 85.8h1M145.6 79.7h1M149.8 92.9h1M84.8 96.4h1M131.5 85.5h1M122.0 93.0h1M150.8 92.1h1M84.5 99.0h1M103.7 90.1h1M63.5 92.4h1M111.0 85.2h1M145.0 92.7h1M76.1 94.7h1M144.5 85.0h1M78.4 91.7h1M75.6 100.1h1M87.0 90.6h1M92.7 102.5h1M135.7 84.4h1M78.9 95.8h1M147.9 81.0h1M148.7 83.8h1M122.2 86.0h1M116.0 85.5h1M89.8 100.2h1M78.9 100.1h1M68.2 92.3h1M133.6 82.3h1M97.4 99.2h1M63.7 92.2h1M117.6 87.9h1M136.8 98.2h1M119.6 108.5h1M125.2 83.6h1M102.5 101.7h1M100.7 96.0h1M89.3 91.8h1M129.9 88.5h1M131.1 90.4h1M98.9 94.0h1M94.8 92.3h1M127.1 82.4h1M124.4 90.2h1M106.9 97.7h1M73.4 98.6h1M84.0 98.1h1M106.0 101.0h1M149.1 86.2h1M134.2 82.4h1M111.1 86.4h1M97.0 92.3h1M90.5 93.5h1M154.2 79.9h1M79.4 91.4h1M125.0 84.2h1M123.8 93.7h1M96.8 93.0h1M131.8 104.7h1M87.2 94.8h1M82.9 88.6h1M148.2 97.5h1M105.2 93.5h1M148.7 76.4h1M99.1 91.7h1M102.5 95.3h1M129.1 84.3h1M65.6 90.4h1M126.0 85.1h1M150.9 84.1h1M125.7 83.2h1M105.5 94.4h1M92.3 92.0h1M139.2 87.8h1M121.4 91.2h1M127.1 98.2h1M152.3 81.3h1M67.2 92.3h1M100.8 95.6h1M62.8 94.6h1M130.2 90.8h1M114.5 85.1h1M141.4 87.6h1M99.0 100.3h1M134.1 85.4h1M111.8 96.8h1M67.7 98.7h1M151.0 92.8h1M122.3 84.1h1M88.3 89.5h1M101.3 99.2h1M139.3 80.3h1M116.1 85.4h1M89.3 88.4h1M119.4 91.1h1M147.6 87.1h1M144.1 77.9h1M62.4 99.7h1M92.8 88.2h1M76.3 91.0h1M83.7 95.5h1M138.6 88.5h1M109.3 92.0h1M137.3 84.1h1M97.5 94.8h1M135.6 80.9h1M126.7 88.3h1M127.8 92.0h1M92.6 96.1h1M73.9 91.7h1M95.4 107.0h1M73.5 93.6h1M146.5 87.8h1M104.4 88.6h1M144.6 81.8h1M153.7 81.3h1M130.9 87.4h1M149.4 78.6h1M90.8 99.0h1M72.3 105.2h1M69.4 92.9h1M96.9 91.6h1M142.6 78.9h1M116.1 96.1h1M141.1 94.5h1M66.0 96.5h1M148.4 84.8h1M115.1 91.8h1M36.8 105.4h1M58.4 90.9h1M40.5 83.0h1M48.6 111.3h1M38.2 93.4h1M50.6 108.2h1M34.3 90.3h1M40.9 102.9h1M41.0 90.1h1M42.1 94.0h1M44.2 101.2h1M40.1 109.5h1M47.0 104.4h1M59.0 108.2h1M52.0 82.6h1M42.6 82.4h1M49.5 111.4h1M41.3 106.6h1M60.0 103.0h1M58.1 103.0h1M40.5 110.3h1M39.8 93.7h1M37.5 83.1h1M37.8 104.1h1M56.7 112.3h1M50.9 100.2h1M39.7 94.2h1M41.6 97.2h1M43.7 93.5h1M37.5 85.6h1M55.1 84.4h1M48.8 105.8h1M36.6 102.4h1M42.8 82.3h1M50.5 101.3h1M40.4 105.1h1M36.1 85.9h1M43.0 86.7h1M44.6 100.0h1M50.3 100.6h1M42.6 110.3h1M45.7 108.4h1M40.5 87.4h1M37.6 113.5h1M46.9 101.7h1M39.5 105.7h1M37.7 91.6h1M43.7 101.2h1M42.0 99.7h1M38.3 94.1h1M38.8 99.2h1M39.5 108.0h1M34.1 92.1h1M39.9 91.2h1M40.6 112.8h1M42.6 104.0h1M35.2 104.6h1M39.7 110.3h1M33.2 101.3h1M43.6 88.5h1M41.5 82.7h1M55.4 105.0h1M41.6 94.5h1M40.7 100.1h1M39.0 89.3h1M49.6 96.2h1M43.8 110.7h1M51.5 90.7h1M40.9 101.3h1M48.7 111.9h1M56.3 97.4h1M40.5 106.3h1M34.1 85.6h1M41.8 111.9h1M42.1 102.8h1M35.1 92.7h1M39.9 96.0h1M49.1 96.3h1M45.4 97.2h1M44.2 89.2h1M46.4 86.6h1M44.3 110.0h1M44.4 89.0h1M52.5 110.2h1M37.4 108.6h1M38.4 87.0h1M47.2 105.1h1M55.1 91.2h1M45.7 110.7h1M39.1 91.7h1M37.3 83.1h1M61.4 103.0h1M51.4 93.8h1M43.6 90.1h1M40.6 95.2h1M34.8 93.8h1M35.3 104.5h1M35.2 82.3h1M53.3 88.5h1M37.2 106.7h1M51.3 113.4h1M50.8 95.3h1M46.1 112.0h1M43.3 103.7h1M36.9 111.1h1M46.8 97.5h1M52.3 103.5h1M37.3 93.6h1M35.1 87.6h1M54.5 99.0h1M51.3 85.4h1M52.4 86.6h1M37.7 85.4h1M51.4 110.0h1M49.8 87.0h1M43.4 99.7h1M38.0 102.8h1M49.3 84.7h1M48.6 111.4h1M40.3 102.5h1M45.4 103.1h1M49.2 112.8h1M47.2 94.5h1M44.4 100.7h1M43.7 88.8h1M49.0 97.2h1M41.8 104.7h1M42.1 97.6h1M42.9 88.8h1M43.9 101.9h1M41.8 105.6h1M43.4 92.6h1M45.0 109.4h1M41.9 103.9h1M40.0 102.8h1M43.2 100.1h1M40.8 102.3h1M38.9 108.8h1M48.0 86.0h1M48.1 107.3h1M50.7 109.1h1M46.2 113.3h1M36.0 103.9h1M43.3 104.4h1M48.3 112.1h1M35.1 93.2h1M50.8 113.6h1M43.1 89.7h1M42.4 94.0h1M47.6 86.7h1M45.9 86.4h1M41.5 89.4h1M48.3 87.3h1M46.2 92.6h1M48.2 89.9h1M48.9 91.7h1M46.3 97.4h1M44.3 87.5h1M47.3 86.8h1M46.2 92.5h1M45.4 90.8h1M44.4 88.2h1M41.8 95.4h1M51.4 97.3h1M51.8 92.4h1M47.9 94.8h1M46.9 97.7h1M45.4 91.7h1M43.9 96.5h1M45.3 90.3h1M47.0 95.3h1M45.0 98.6h1M38.9 87.5h1M47.2 89.6h1M45.9 97.1h1M50.1 94.2h1M45.8 97.1h1M44.7 89.0h1M45.4 88.9h1M50.9 85.0h1M46.5 88.5h1M47.8 90.5h1M40.4 89.2h1M42.7 83.9h1M43.2 87.6h1M47.9 83.1h1M45.0 93.4h1M48.0 93.9h1M42.4 94.2h1M45.4 83.1h1M45.8 94.1h1M48.4 84.2h1M44.4 98.4h1M44.4 95.0h1M44.9 89.5h1M45.3 92.6h1M45.7 98.8h1M42.6 93.4h1M49.5 88.5h1M44.3 80.4h1M44.6 82.9h1M48.0 94.6h1M46.1 94.3h1M42.0 90.5h1M47.7 81.9h1M45.3 86.2h1M45.5 96.9h1M46.0 97.0h1M48.9 97.1h1M43.9 89.9h1M44.6 90.6h1M49.3 91.7h1M44.2 86.7h1M48.2 89.7h1M42.4 86.7h1M47.7 93.0h1M42.8 96.7h1M41.1 155.2h1M39.0 162.6h1M45.2 146.1h1M42.0 134.8h1M37.5 156.0h1M44.6 140.0h1M41.2 119.0h1M40.2 120.3h1M45.2 144.7h1M39.4 121.7h1M39.5 140.7h1M37.2 157.2h1M42.1 150.4h1M40.8 150.3h1M40.0 117.8h1M50.0 136.2h1M39.7 155.0h1M36.7 134.3h1M42.3 149.9h1M43.3 141.2h1M38.9 142.2h1M41.5 136.8h1M37.6 144.8h1M47.6 144.6h1M48.8 125.3h1M36.7 153.3h1M49.9 142.6h1M40.1 137.8h1M37.6 120.0h1M36.8 157.1h1M40.4 126.9h1M42.2 150.7h1M38.6 121.2h1M41.1 142.9h1M39.4 142.9h1M42.9 137.0h1M41.3 129.2h1M47.4 132.8h1M38.8 136.6h1M40.4 145.8h1M43.4 119.5h1M39.0 148.5h1M40.9 118.7h1M40.8 124.0h1M42.9 145.3h1M46.3 149.3h1M37.2 139.5h1M43.6 119.0h1M38.3 134.9h1M43.5 138.4h1M40.2 151.6h1M36.4 118.0h1M43.7 136.0h1M40.9 147.2h1M42.3 124.8h1M40.4 145.4h1M50.9 123.8h1M48.5 119.0h1M41.2 128.0h1M37.3 129.0h1M40.4 128.7h1M38.4 160.3h1M42.5 159.3h1M44.0 135.0h1M44.2 162.8h1M41.7 134.6h1M43.7 141.5h1M48.3 121.8h1M38.0 130.4h1M50.2 122.2h1M41.2 132.2h1M41.8 122.8h1M42.5 155.4h1M45.3 160.6h1M39.2 136.5h1M39.7 143.5h1M40.6 131.9h1M38.7 151.3h1M38.2 118.1h1M38.5 160.3h1M36.0 153.7h1M39.9 130.8h1M39.0 126.1h1M46.4 132.6h1M42.2 151.7h1M54.7 121.4h1M51.4 126.1h1M45.2 155.8h1M39.5 122.2h1M40.0 126.6h1M38.7 143.0h1M38.7 131.6h1M43.4 137.4h1M37.7 134.6h1M37.5 136.8h1M41.8 129.7h1M41.4 119.5h1M39.9 153.3h1M43.6 158.3h1M48.1 119.7h1M39.3 132.9h1M34.6 143.3h1M45.3 154.7h1M38.9 122.5h1M37.2 140.4h1M37.0 159.7h1M39.8 162.1h1M37.1 151.2h1M39.0 161.4h1M43.9 133.5h1M40.6 145.1h1M38.7 146.5h1M36.7 153.5h1M45.9 162.0h1M39.0 120.3h1M39.6 117.2h1M52.1 156.4h1M42.9 138.1h1M40.0 129.0h1M44.1 154.7h1M41.5 122.9h1M39.9 144.7h1M52.1 137.5h1M44.0 160.2h1M37.1 155.0h1M40.2 123.7h1M41.5 151.9h1M45.2 152.8h1M43.3 147.7h1M36.3 145.2h1M45.0 157.4h1M39.3 147.9h1M45.6 157.0h1M41.5 123.8h1M40.6 142.9h1M44.1 140.6h1M40.2 138.3h1M37.4 137.7h1M41.7 132.7h1M39.3 160.9h1M41.1 135.7h1M42.7 150.8h1M44.1 117.6h1M46.1 143.6h1M41.4 118.0h1M39.3 132.8h1M40.6 150.3h1M41.8 136.7h1M37.8 150.6h1M58.7 127.4h1M42.2 121.4h1M41.8 126.5h1M47.9 123.5h1M39.0 142.3h1M45.3 155.1h1M39.2 142.3h1M37.9 162.9h1M46.5 119.9h1M41.1 153.6h1M44.0 149.9h1M44.4 122.0h1M45.9 123.9h1M46.8 123.0h1M40.2 134.8h1M39.3 143.1h1M40.4 162.9h1M45.6 142.4h1M41.7 132.7h1M39.3 135.7h1M40.1 129.9h1M38.7 162.5h1M41.3 152.6h1M37.0 117.2h1M41.5 149.0h1M42.0 162.9h1M40.2 158.4h1M40.7 142.0h1M41.5 118.8h1M46.8 135.6h1M40.2 132.0h1M39.7 132.1h1M37.7 148.1h1M46.8 160.5h1M35.1 117.7h1M48.6 151.5h1M40.2 147.6h1M36.4 148.5h1M38.4 124.1h1M39.9 121.3h1M39.5 158.9h1M42.4 157.4h1M37.5 128.2h1M41.8 153.6h1M53.5 152.9h1M45.5 149.9h1M37.4 158.5h1M41.3 127.8h1M38.1 140.5h1M38.5 141.9h1M38.4 130.0h1M40.9 131.1h1M37.4 123.6h1M43.6 126.8h1M41.1 141.0h1M38.3 125.6h1M41.1 142.4h1M37.7 144.9h1M48.9 157.5h1M42.1 149.4h1M37.7 122.9h1M40.8 129.2h1M42.5 149.7h1M44.7 153.3h1M36.3 147.5h1M42.5 160.8h1M36.7 121.6h1M46.4 136.7h1M42.1 159.8h1M37.6 128.7h1M41.4 139.8h1M50.3 136.7h1M43.8 121.0h1M35.2 149.9h1M40.8 136.7h1M36.4 162.4h1M43.9 146.0h1M39.9 135.1h1M35.9 142.8h1M47.0 141.8h1M44.3 142.4h1M37.8 140.3h1M36.3 156.6h1M37.4 135.2h1M36.5 138.3h1M37.1 155.9h1M38.7 142.5h1M41.6 117.4h1M39.5 151.0h1M39.9 123.3h1M40.8 135.9h1M36.5 161.2h1M43.3 130.9h1M38.2 157.0h1M46.8 137.3h1M38.3 151.6h1M39.7 146.1h1M38.9 128.5h1M42.7 121.9h1M43.6 143.4h1M39.4 120.5h1M38.2 120.6h1M46.6 140.9h1M40.2 130.0h1M43.0 118.9h1M41.6 117.2h1M41.7 135.2h1M37.7 117.0h1M38.1 125.2h1M35.8 135.8h1M44.8 118.5h1M44.4 145.6h1M40.8 161.2h1M41.2 126.6h1M46.4 140.9h1M42.5 146.2h1M37.0 150.2h1M37.2 129.4h1M39.8 154.3h1M41.2 122.7h1M36.8 133.4h1M42.2 160.5h1M41.8 142.2h1M36.9 145.8h1M37.3 131.4h1M43.8 126.3h1M48.1 145.9h1M41.7 122.8h1M36.7 121.2h1M35.7 158.2h1M36.8 142.8h1M38.7 133.4h1M42.2 150.4h1M39.3 146.9h1M35.4 121.2h1M40.0 147.7h1M40.4 143.9h1M45.0 134.8h1M40.3 124.1h1M39.2 146.1h1M41.6 143.9h1M39.0 133.7h1M37.3 161.2h1M37.7 158.3h1M38.9 156.7h1M39.1 140.9h1M40.2 133.0h1M38.1 146.5h1M39.4 144.1h1M39.9 123.9h1M40.1 132.3h1M41.7 118.7h1M42.8 141.4h1M44.2 146.6h1M42.7 121.0h1M44.5 153.9h1M36.9 144.2h1M40.8 157.7h1M43.5 143.0h1M43.3 156.9h1M43.8 137.2h1M48.0 142.2h1M41.4 156.9h1M42.6 144.9h1M42.5 162.7h1M44.4 120.2h1M43.3 131.6h1M38.1 139.1h1M38.6 162.2h1M43.3 131.4h1M39.9 145.8h1M38.9 148.3h1M39.0 138.6h1M39.6 126.6h1M42.5 120.6h1M43.0 161.0h1M35.7 121.3h1M43.4 148.5h1M40.7 137.6h1M40.5 145.2h1M47.7 145.6h1M39.9 160.5h1M43.9 148.3h1M36.0 133.8h1M40.5 162.5h1M44.0 162.8h1M37.4 130.2h1M43.9 122.9h1M36.1 150.1h1M40.8 160.3h1M39.1 144.1h1M46.9 126.3h1M38.3 130.7h1M47.6 158.1h1M43.3 142.7h1M41.5 161.6h1M40.1 134.2h1M44.5 149.5h1M39.1 154.2h1M41.3 131.6h1M39.3 152.0h1M40.4 154.3h1M42.8 121.0h1M37.0 158.6h1M39.3 157.3h1M38.7 144.2h1M47.0 121.6h1M38.8 120.1h1M37.7 150.3h1M41.4 136.7h1M42.1 127.7h1M40.9 162.2h1M39.1 162.3h1M43.7 141.9h1M37.8 135.0h1M41.3 123.1h1M37.6 135.0h1M40.5 145.1h1M40.5 134.2h1M42.0 152.0h1M43.5 118.6h1M42.7 160.1h1M41.6 136.4h1M43.1 127.0h1M41.2 159.0h1M35.8 152.5h1M39.6 125.5h1M40.0 129.3h1M43.3 122.9h1M37.1 160.5h1M41.0 117.0h1M41.4 150.4h1M36.6 138.9h1M41.0 146.0h1M46.8 152.0h1M38.4 146.7h1M36.6 156.3h1M36.7 124.2h1M46.9 140.3h1M40.9 157.3h1M39.9 120.5h1M43.1 144.2h1M41.8 158.4h1M40.1 144.3h1M41.3 130.5h1M38.0 122.5h1M38.6 125.8h1M40.1 142.0h1M45.8 151.7h1M46.4 124.5h1M48.9 136.6h1M39.5 131.6h1M47.1 135.1h1M39.5 155.6h1M39.1 118.2h1M38.9 159.2h1M43.9 144.9h1M35.9 161.3h1M47.4 159.0h1M38.8 134.2h1M39.5 118.2h1M43.2 127.8h1M39.4 123.5h1M44.1 148.3h1M45.8 127.6h1M37.6 133.4h1M37.1 151.4h1M47.9 124.9h1M40.7 124.8h1M42.1 156.8h1M43.7 124.5h1M62.2 138.8h1M49.5 122.0h1M58.8 143.6h1M45.6 157.9h1M51.9 133.3h1M34.4 134.3h1M53.3 117.5h1M75.8 119.1h1M55.3 138.9h1M66.9 122.3h1M70.0 142.8h1M35.1 149.1h1M59.5 129.9h1M42.7 119.4h1M71.4 143.9h1M48.2 134.9h1M69.5 137.5h1M40.1 156.6h1M73.9 120.2h1M59.6 141.0h1M69.4 119.1h1M49.2 144.8h1M56.0 162.9h1M65.6 144.8h1M38.7 123.7h1M48.2 142.1h1M75.8 119.8h1M44.3 118.7h1M44.0 124.1h1M74.8 119.4h1M62.8 135.6h1M47.0 135.2h1M74.2 142.6h1M64.8 147.2h1M42.7 125.4h1M54.5 153.5h1M36.0 126.5h1M63.5 126.1h1M58.4 120.5h1M67.1 149.1h1M45.3 138.4h1M63.9 146.9h1M62.0 142.3h1M58.9 153.7h1M72.6 147.1h1M54.2 143.1h1M35.7 152.9h1M46.8 124.8h1M36.6 132.8h1M57.7 129.3h1M54.9 130.7h1M42.7 130.5h1M68.3 135.0h1M71.3 150.7h1M71.8 119.9h1M63.0 128.1h1M49.2 130.9h1M46.1 155.6h1M63.2 158.0h1M60.3 145.2h1M55.6 159.3h1M47.8 146.7h1M64.3 121.0h1M59.4 158.0h1M64.4 162.0h1M48.1 156.6h1M42.2 118.2h1M59.2 138.2h1M48.2 141.0h1M65.3 148.2h1M51.1 127.4h1M54.3 157.1h1M75.1 161.2h1M64.6 135.6h1M43.3 151.9h1M60.4 118.2h1M71.0 118.9h1M60.9 145.6h1M74.3 133.6h1M45.1 146.8h1M40.4 159.7h1M54.6 163.0h1M61.6 141.4h1M72.0 117.2h1M71.6 120.0h1M71.0 121.9h1M72.7 130.3h1M49.2 145.0h1M40.2 117.1h1M40.0 151.8h1M70.3 153.5h1M43.1 138.0h1M55.5 157.3h1M59.4 158.1h1M62.0 119.6h1M65.2 162.7h1M38.0 136.6h1M63.8 141.6h1M42.8 144.7h1M39.1 156.5h1M52.1 133.2h1M71.6 139.0h1M53.4 120.1h1M54.4 120.8h1M59.6 145.1h1M63.9 119.8h1M42.7 137.8h1M74.0 151.5h1M61.8 158.6h1M58.6 143.4h1M43.4 160.5h1M69.9 123.2h1M55.7 140.5h1M66.5 150.4h1M57.7 141.0h1M75.4 148.0h1M36.6 145.8h1M51.5 157.1h1M48.3 147.9h1M42.5 153.9h1M41.3 125.1h1M63.1 134.0h1M52.2 149.1h1M49.0 150.7h1M73.4 137.9h1M38.9 132.1h1M69.4 125.7h1M53.2 120.0h1M72.9 120.6h1M41.9 141.4h1M71.2 130.7h1M50.9 131.7h1M50.2 134.2h1M74.0 134.2h1M46.0 132.3h1M67.7 139.6h1M69.9 159.1h1M49.1 152.3h1M51.5 161.4h1M50.6 121.2h1M44.8 117.9h1M55.5 132.5h1M38.0 147.5h1M61.8 162.2h1M42.2 144.1h1M61.9 120.7h1M45.6 132.5h1M59.7 159.9h1M42.9 131.9h1M73.9 135.8h1M76.0 144.4h1M40.8 134.2h1M37.2 160.8h1M48.1 128.3h1M70.8 140.7h1M69.9 124.4h1M38.8 124.2h1M35.9 123.8h1M60.7 121.5h1M65.4 121.8h1M59.9 142.7h1M38.8 159.9h1M73.4 147.7h1M37.4 118.4h1M53.1 121.2h1M66.5 137.2h1M67.1 135.3h1M38.3 159.0h1M54.4 139.4h1M64.9 158.1h1M96.2 139.1h1M94.1 126.0h1M122.7 129.3h1M145.1 156.2h1M113.8 140.6h1M135.2 137.2h1M82.3 117.1h1M77.9 142.1h1M88.9 123.8h1M89.5 123.3h1M151.6 121.5h1M120.9 143.6h1M149.5 141.6h1M138.3 144.6h1M132.8 120.7h1M78.4 122.4h1M137.8 134.2h1M78.6 160.4h1M95.3 133.3h1M127.8 154.4h1M130.9 138.4h1M150.0 150.7h1M85.4 160.1h1M90.3 133.8h1M141.4 132.8h1M106.1 136.8h1M92.2 135.1h1M85.1 120.1h1M81.4 138.0h1M133.1 117.6h1M148.3 148.5h1M80.3 141.7h1M142.2 136.2h1M121.3 125.7h1M78.8 126.9h1M136.5 156.5h1M118.0 150.6h1M83.9 149.7h1M92.5 134.5h1M150.5 137.6h1M119.3 155.2h1M150.5 126.2h1M92.4 117.8h1M139.8 154.4h1M92.5 133.7h1M92.2 123.4h1M115.5 127.3h1M93.9 140.0h1M130.1 139.2h1M106.2 136.2h1M103.4 137.5h1M102.3 133.8h1M76.5 124.4h1M107.0 148.3h1M78.8 121.7h1M147.7 139.1h1M89.9 137.0h1M108.1 144.5h1M137.0 143.4h1M108.9 134.7h1M94.2 127.6h1M127.4 131.0h1M78.1 123.8h1M90.4 149.5h1M150.3 134.8h1M100.1 151.8h1M77.7 133.7h1M106.6 119.5h1M98.1 136.1h1M83.7 146.3h1M146.3 131.6h1M107.5 161.1h1M119.2 145.6h1M81.6 117.8h1M81.5 126.3h1M137.3 123.4h1M96.2 128.5h1M113.6 143.5h1M87.5 159.5h1M138.4 159.8h1M93.4 131.2h1M77.4 123.6h1M103.4 148.7h1M140.5 130.3h1M130.3 129.0h1M128.6 53.6h1M133.5 49.2h1M81.8 61.5h1M131.5 58.3h1M111.0 59.1h1M142.4 61.4h1M154.5 61.3h1M80.4 49.2h1M94.2 62.6h1M124.5 73.8h1M134.5 55.4h1M121.6 48.2h1M93.6 57.5h1M112.4 70.5h1M95.2 69.0h1M97.5 58.6h1M145.0 73.2h1M154.1 58.1h1M93.6 63.7h1M68.0 45.6h1M123.6 64.8h1M120.6 61.4h1M141.2 64.1h1M105.5 54.1h1M152.9 50.8h1M149.6 46.6h1M91.4 69.1h1M130.6 54.7h1M94.1 54.9h1M141.6 66.0h1M132.3 69.1h1M85.8 54.5h1M141.5 72.2h1M102.0 70.8h1M95.3 62.0h1M72.5 52.2h1M83.8 54.0h1M143.4 70.6h1M114.7 68.8h1" stroke="#000" stroke-opacity=".72" stroke-width=".95" fill="none"/></g>
</g>
<rect x="32.5" y="36.3" width="123.0" height="127.7" fill="none" stroke="#000" stroke-width="1.1"/>
<line x1="32.50" y1="81.30" x2="62.30" y2="81.30" stroke="#000" stroke-width="1.0"/>
<line x1="32.50" y1="114.50" x2="155.50" y2="114.50" stroke="#000" stroke-width="1.0"/>
<line x1="61.80" y1="81.30" x2="61.80" y2="114.50" stroke="#000" stroke-width="1.0"/>
<line x1="75.60" y1="114.50" x2="75.60" y2="164.00" stroke="#000" stroke-width="1.0"/>
<line x1="53.00" y1="36.30" x2="45.30" y2="81.10" stroke="#000" stroke-width="0.7"/>
<line x1="81.80" y1="36.30" x2="61.80" y2="81.10" stroke="#000" stroke-width="1.5"/>
<text x="36.50" y="46.50" font-size="5.8" text-anchor="start" fill="#222">R1</text>
<text x="57.00" y="48.50" font-size="5.8" text-anchor="start" fill="#222">R2</text>
<text x="142.00" y="46.50" font-size="5.8" text-anchor="start" fill="#222">R3</text>
<text x="47.00" y="104.00" font-size="5.8" text-anchor="start" fill="#222">R4</text>
<text x="64.80" y="157.60" font-size="5.8" text-anchor="start" fill="#222">R5</text>
<line x1="32.50" y1="154.39" x2="34.10" y2="154.39" stroke="#000" stroke-width="0.5"/>
<line x1="32.50" y1="148.77" x2="34.10" y2="148.77" stroke="#000" stroke-width="0.5"/>
<line x1="32.50" y1="144.78" x2="34.10" y2="144.78" stroke="#000" stroke-width="0.5"/>
<line x1="32.50" y1="141.68" x2="34.10" y2="141.68" stroke="#000" stroke-width="0.5"/>
<line x1="32.50" y1="139.15" x2="34.10" y2="139.15" stroke="#000" stroke-width="0.5"/>
<line x1="32.50" y1="137.02" x2="34.10" y2="137.02" stroke="#000" stroke-width="0.5"/>
<line x1="32.50" y1="135.16" x2="34.10" y2="135.16" stroke="#000" stroke-width="0.5"/>
<line x1="32.50" y1="133.53" x2="34.10" y2="133.53" stroke="#000" stroke-width="0.5"/>
<line x1="32.50" y1="122.46" x2="34.10" y2="122.46" stroke="#000" stroke-width="0.5"/>
<line x1="32.50" y1="116.84" x2="34.10" y2="116.84" stroke="#000" stroke-width="0.5"/>
<line x1="32.50" y1="112.85" x2="34.10" y2="112.85" stroke="#000" stroke-width="0.5"/>
<line x1="32.50" y1="109.75" x2="34.10" y2="109.75" stroke="#000" stroke-width="0.5"/>
<line x1="32.50" y1="107.22" x2="34.10" y2="107.22" stroke="#000" stroke-width="0.5"/>
<line x1="32.50" y1="105.09" x2="34.10" y2="105.09" stroke="#000" stroke-width="0.5"/>
<line x1="32.50" y1="103.23" x2="34.10" y2="103.23" stroke="#000" stroke-width="0.5"/>
<line x1="32.50" y1="101.60" x2="34.10" y2="101.60" stroke="#000" stroke-width="0.5"/>
<line x1="32.50" y1="90.53" x2="34.10" y2="90.53" stroke="#000" stroke-width="0.5"/>
<line x1="32.50" y1="84.91" x2="34.10" y2="84.91" stroke="#000" stroke-width="0.5"/>
<line x1="32.50" y1="80.92" x2="34.10" y2="80.92" stroke="#000" stroke-width="0.5"/>
<line x1="32.50" y1="77.82" x2="34.10" y2="77.82" stroke="#000" stroke-width="0.5"/>
<line x1="32.50" y1="75.29" x2="34.10" y2="75.29" stroke="#000" stroke-width="0.5"/>
<line x1="32.50" y1="73.16" x2="34.10" y2="73.16" stroke="#000" stroke-width="0.5"/>
<line x1="32.50" y1="71.30" x2="34.10" y2="71.30" stroke="#000" stroke-width="0.5"/>
<line x1="32.50" y1="69.67" x2="34.10" y2="69.67" stroke="#000" stroke-width="0.5"/>
<line x1="32.50" y1="58.60" x2="34.10" y2="58.60" stroke="#000" stroke-width="0.5"/>
<line x1="32.50" y1="52.98" x2="34.10" y2="52.98" stroke="#000" stroke-width="0.5"/>
<line x1="32.50" y1="48.99" x2="34.10" y2="48.99" stroke="#000" stroke-width="0.5"/>
<line x1="32.50" y1="45.89" x2="34.10" y2="45.89" stroke="#000" stroke-width="0.5"/>
<line x1="32.50" y1="43.36" x2="34.10" y2="43.36" stroke="#000" stroke-width="0.5"/>
<line x1="32.50" y1="41.23" x2="34.10" y2="41.23" stroke="#000" stroke-width="0.5"/>
<line x1="32.50" y1="39.37" x2="34.10" y2="39.37" stroke="#000" stroke-width="0.5"/>
<line x1="32.50" y1="37.74" x2="34.10" y2="37.74" stroke="#000" stroke-width="0.5"/>
<text x="0" y="0" transform="translate(27.90 169.40) rotate(-90)" font-size="10.5" font-weight="bold" text-anchor="start" fill="#000" textLength="13.0" lengthAdjust="spacingAndGlyphs" stroke="#000" stroke-width=".28">10<tspan dy="-3.99" font-size="6.51">0</tspan></text>
<text x="0" y="0" transform="translate(27.90 137.47) rotate(-90)" font-size="10.5" font-weight="bold" text-anchor="start" fill="#000" textLength="13.0" lengthAdjust="spacingAndGlyphs" stroke="#000" stroke-width=".28">10<tspan dy="-3.99" font-size="6.51">1</tspan></text>
<text x="0" y="0" transform="translate(27.90 105.54) rotate(-90)" font-size="10.5" font-weight="bold" text-anchor="start" fill="#000" textLength="13.0" lengthAdjust="spacingAndGlyphs" stroke="#000" stroke-width=".28">10<tspan dy="-3.99" font-size="6.51">2</tspan></text>
<text x="0" y="0" transform="translate(27.90 73.61) rotate(-90)" font-size="10.5" font-weight="bold" text-anchor="start" fill="#000" textLength="13.0" lengthAdjust="spacingAndGlyphs" stroke="#000" stroke-width=".28">10<tspan dy="-3.99" font-size="6.51">3</tspan></text>
<text x="0" y="0" transform="translate(27.90 41.68) rotate(-90)" font-size="10.5" font-weight="bold" text-anchor="start" fill="#000" textLength="13.0" lengthAdjust="spacingAndGlyphs" stroke="#000" stroke-width=".28">10<tspan dy="-3.99" font-size="6.51">4</tspan></text>
<text x="32.50" y="177.70" font-size="10.8" font-weight="bold" text-anchor="middle" fill="#000">0</text>
<text x="57.10" y="177.70" font-size="10.8" font-weight="bold" text-anchor="middle" fill="#000">200</text>
<text x="81.70" y="177.70" font-size="10.8" font-weight="bold" text-anchor="middle" fill="#000">400</text>
<text x="106.30" y="177.70" font-size="10.8" font-weight="bold" text-anchor="middle" fill="#000">600</text>
<text x="130.90" y="177.70" font-size="10.8" font-weight="bold" text-anchor="middle" fill="#000">800</text>
<text x="156.50" y="177.70" font-size="10.8" font-weight="bold" text-anchor="middle" fill="#000">1000</text>
<line x1="32.50" y1="164.00" x2="32.50" y2="166.00" stroke="#000" stroke-width="0.6"/>
<line x1="38.65" y1="164.00" x2="38.65" y2="165.40" stroke="#000" stroke-width="0.6"/>
<line x1="44.80" y1="164.00" x2="44.80" y2="165.40" stroke="#000" stroke-width="0.6"/>
<line x1="50.95" y1="164.00" x2="50.95" y2="165.40" stroke="#000" stroke-width="0.6"/>
<line x1="57.10" y1="164.00" x2="57.10" y2="166.00" stroke="#000" stroke-width="0.6"/>
<line x1="63.25" y1="164.00" x2="63.25" y2="165.40" stroke="#000" stroke-width="0.6"/>
<line x1="69.40" y1="164.00" x2="69.40" y2="165.40" stroke="#000" stroke-width="0.6"/>
<line x1="75.55" y1="164.00" x2="75.55" y2="165.40" stroke="#000" stroke-width="0.6"/>
<line x1="81.70" y1="164.00" x2="81.70" y2="166.00" stroke="#000" stroke-width="0.6"/>
<line x1="87.85" y1="164.00" x2="87.85" y2="165.40" stroke="#000" stroke-width="0.6"/>
<line x1="94.00" y1="164.00" x2="94.00" y2="165.40" stroke="#000" stroke-width="0.6"/>
<line x1="100.15" y1="164.00" x2="100.15" y2="165.40" stroke="#000" stroke-width="0.6"/>
<line x1="106.30" y1="164.00" x2="106.30" y2="166.00" stroke="#000" stroke-width="0.6"/>
<line x1="112.45" y1="164.00" x2="112.45" y2="165.40" stroke="#000" stroke-width="0.6"/>
<line x1="118.60" y1="164.00" x2="118.60" y2="165.40" stroke="#000" stroke-width="0.6"/>
<line x1="124.75" y1="164.00" x2="124.75" y2="165.40" stroke="#000" stroke-width="0.6"/>
<line x1="130.90" y1="164.00" x2="130.90" y2="166.00" stroke="#000" stroke-width="0.6"/>
<line x1="137.05" y1="164.00" x2="137.05" y2="165.40" stroke="#000" stroke-width="0.6"/>
<line x1="143.20" y1="164.00" x2="143.20" y2="165.40" stroke="#000" stroke-width="0.6"/>
<line x1="149.35" y1="164.00" x2="149.35" y2="165.40" stroke="#000" stroke-width="0.6"/>
<line x1="155.50" y1="164.00" x2="155.50" y2="166.00" stroke="#000" stroke-width="0.6"/>
<line x1="47.00" y1="182.80" x2="142.50" y2="182.80" stroke="#555" stroke-width="0.9"/>
<polygon points="146.50,182.80 141.50,185.10 141.50,180.50" fill="#111"/>
<text x="99.80" y="192.60" font-size="9.8" font-weight="bold" text-anchor="middle" fill="#000" textLength="34" lengthAdjust="spacingAndGlyphs">SSC-H</text>
<line x1="14.00" y1="134.00" x2="14.00" y2="64.50" stroke="#555" stroke-width="0.9"/>
<polygon points="14.00,60.00 16.20,65.50 11.80,65.50" fill="#111"/>
<text x="0" y="0" transform="translate(8.40 97.50) rotate(-90)" font-size="10" font-weight="bold" text-anchor="middle" fill="#000" stroke="#000" stroke-width=".28">CD45PerCP</text>
<clipPath id="ch1"><rect x="198.5" y="36.2" width="129.7" height="127.39999999999999"/></clipPath>
<g clip-path="url(#ch1)">
<path d="M241.0 163.0 L241.7 161.3 L242.4 159.8 L243.1 157.8 L243.8 146.3 L244.5 132.8 L245.2 124.0 L245.9 117.5 L246.6 114.2 L247.3 113.9 L248.0 103.6 L248.7 104.8 L249.4 91.3 L250.1 92.6 L250.8 91.9 L251.5 89.9 L252.2 93.8 L252.9 99.5 L253.6 103.2 L254.3 114.9 L255.0 120.1 L255.7 128.0 L256.4 132.8 L257.1 136.5 L257.8 143.2 L258.5 145.6 L259.2 149.1 L259.9 153.7 L260.6 156.6 L261.3 159.0 L262.0 160.4 L262.7 162.3" fill="none" stroke="#777" stroke-width=".8" stroke-dasharray=".8 1"/>
<path d="M243.0 163.0 L243.7 154.8 L244.4 147.9 L245.1 142.1 L245.8 133.1 L246.5 120.2 L247.2 113.2 L247.9 105.1 L248.6 110.9 L249.3 103.7 L250.0 106.0 L250.7 100.9 L251.4 101.2 L252.1 112.7 L252.8 112.5 L253.5 117.2 L254.2 122.0 L254.9 128.1 L255.6 135.7 L256.3 140.8 L257.0 143.9 L257.7 148.4 L258.4 152.0 L259.1 154.9 L259.8 157.2 L260.5 159.0 L261.2 160.9 L261.9 162.9" fill="none" stroke="#999" stroke-width=".7" stroke-dasharray=".7 1.1"/>
<path d="M228.0 163.0 L228.6 160.2 L229.2 157.9 L229.8 153.6 L230.4 149.9 L231.0 141.0 L231.6 134.0 L232.2 131.9 L232.8 122.8 L233.4 120.7 L234.0 119.2 L234.6 111.3 L235.2 113.5 L235.8 111.7 L236.4 122.5 L237.0 114.2 L237.6 120.7 L238.2 123.1 L238.8 126.4 L239.4 132.9 L240.0 134.4 L240.6 136.0 L241.2 133.6 L241.8 131.9 L242.4 137.8 L243.0 144.4 L243.6 134.1 L244.2 134.2 L244.8 139.9 L245.4 142.7 L246.0 135.5 L246.6 141.5 L247.2 140.6 L247.8 143.8 L248.4 146.3 L249.0 148.4 L249.6 151.2 L250.2 149.4 L250.8 156.2 L251.4 154.2 L252.0 155.7 L252.6 156.1 L253.2 157.1 L253.8 157.8 L254.4 159.0 L255.0 160.1 L255.6 160.5 L256.2 161.5 L256.8 162.4 L257.4 162.2 L258.0 162.9" fill="none" stroke="#222" stroke-width=".8" stroke-dasharray="1.6 .9"/>
<path d="M229.0 158.9 L229.6 154.5 L230.2 153.6 L230.8 150.3 L231.4 141.1 L232.0 139.8 L232.6 131.3 L233.2 139.0 L233.8 122.7 L234.4 124.0 L235.0 118.5 L235.6 123.7 L236.2 119.5 L236.8 125.2 L237.4 124.5 L238.0 126.4 L238.6 130.7 L239.2 132.4 L239.8 139.8 L240.4 131.4 L241.0 139.9 L241.6 141.7 L242.2 142.0 L242.8 141.6 L243.4 142.7 L244.0 139.5 L244.6 143.2 L245.2 140.1 L245.8 140.9 L246.4 141.5 L247.0 141.7 L247.6 149.1 L248.2 147.0 L248.8 151.0 L249.4 149.2 L250.0 154.9 L250.6 154.0 L251.2 153.9 L251.8 156.3 L252.4 157.2 L253.0 157.1 L253.6 158.3 L254.2 158.8 L254.8 160.0 L255.4 161.6 L256.0 160.7 L256.6 161.9" fill="none" stroke="#555" stroke-width=".6" stroke-dasharray="1 1"/>
<path d="M214.0 96.5 L214.6 99.0 L215.2 90.8 L215.8 92.7 L216.4 92.1 L217.0 87.3 L217.6 91.6 L218.2 88.6 L218.8 76.5 L219.4 89.0 L220.0 81.4 L220.6 74.8 L221.2 81.8 L221.8 88.0 L222.4 87.9 L223.0 88.0 L223.6 98.0 L224.2 102.6 L224.8 103.0 L225.4 110.0 L226.0 109.9 L226.6 114.5 L227.2 120.5 L227.8 125.6 L228.4 132.7 L229.0 134.3 L229.6 138.5 L230.2 139.3 L230.8 141.5 L231.4 143.1 L232.0 145.4 L232.6 147.4 L233.2 150.5 L233.8 150.1 L234.4 151.3 L235.0 152.7 L235.6 153.8 L236.2 154.4 L236.8 155.8 L237.4 156.7 L238.0 158.0 L238.6 159.0 L239.2 160.1 L239.8 161.7 L240.4 162.6" fill="none" stroke="#111" stroke-width=".9" stroke-dasharray="1.5 .8"/>
<path d="M198.5 121.8 L199.1 120.2 L199.6 119.1 L200.2 117.0 L200.7 121.7 L201.3 117.4 L201.8 112.3 L202.4 112.6 L202.9 108.6 L203.5 109.3 L204.0 104.2 L204.6 101.3 L205.1 102.0 L205.7 96.9 L206.2 92.5 L206.8 91.4 L207.3 86.6 L207.9 82.0 L208.4 79.3 L209.0 77.6 L209.5 69.3 L210.1 76.8 L210.6 73.2 L211.2 71.1 L211.7 64.6 L212.3 60.8 L212.8 62.7 L213.4 56.1 L213.9 61.4 L214.5 57.8 L215.0 64.4 L215.6 55.9 L216.1 60.6 L216.7 67.4 L217.2 69.5 L217.8 73.9 L218.3 69.1 L218.9 76.6 L219.4 82.2 L220.0 82.8 L220.5 90.1 L221.1 89.1 L221.6 97.2 L222.2 96.9 L222.7 104.8 L223.3 109.3 L223.8 112.9 L224.4 121.4 L224.9 125.7 L225.5 130.0 L226.0 134.5 L226.6 140.9 L227.1 144.4 L227.7 147.2 L228.2 149.8 L228.8 151.9 L229.3 153.6 L229.9 155.9 L230.4 156.9 L231.0 157.4 L231.5 158.9 L232.1 159.3 L232.6 159.4 L233.2 159.8 L233.7 160.3 L234.3 160.5 L234.8 160.1 L235.4 160.3 L235.9 160.8 L236.5 160.5 L237.0 160.7 L237.6 160.5 L238.1 160.8 L238.7 160.7 L239.2 160.9 L239.8 160.7 L240.3 161.1 L240.9 160.9 L241.4 161.0 L242.0 160.9 L242.5 160.5 L243.1 161.2 L243.6 160.9 L244.2 161.3 L244.7 161.1 L245.3 161.2 L245.8 161.2 L246.4 161.2 L246.9 161.2 L247.5 161.0 L248.0 161.0 L248.6 161.4 L249.1 161.3 L249.7 161.1 L250.2 161.1 L250.8 161.4 L251.3 161.3 L251.9 161.2 L252.4 161.3 L253.0 161.4 L253.5 161.4 L254.1 161.4 L254.6 161.3 L255.2 161.6 L255.7 161.4 L256.3 161.2 L256.8 161.3 L257.4 161.4 L257.9 161.5 L258.5 161.5 L259.0 161.7 L259.6 161.6 L260.1 161.7 L260.7 161.6 L261.2 161.3 L261.8 161.6 L262.3 161.7 L262.9 161.4 L263.4 161.5 L264.0 161.9 L264.5 161.6 L265.1 161.9 L265.6 161.9 L266.2 161.9 L266.7 161.8 L267.3 161.7 L267.8 162.1 L268.4 161.7 L268.9 161.8 L269.5 161.7 L270.0 162.1 L270.6 161.7 L271.1 161.9 L271.7 162.0 L272.2 161.9 L272.8 161.8 L273.3 161.9 L273.9 161.6 L274.4 161.9 L275.0 162.1 L275.5 161.6 L276.1 161.8 L276.6 162.3 L277.2 162.1 L277.7 162.0 L278.3 162.2 L278.8 162.0 L279.4 161.9 L279.9 162.0 L280.5 162.0 L281.0 162.0 L281.6 162.1 L282.1 161.9 L282.7 162.4 L283.2 162.0 L283.8 162.2 L284.3 162.0 L284.9 162.3 L285.4 162.1 L286.0 162.2 L286.5 162.1 L287.1 161.9 L287.6 162.3 L288.2 161.9 L288.7 162.3 L289.3 162.0 L289.8 162.3 L290.4 162.1 L290.9 162.4 L291.5 162.3 L292.0 162.3 L292.6 162.3 L293.1 162.2 L293.7 162.2 L294.2 162.2 L294.8 162.1 L295.3 162.3 L295.9 162.3 L296.4 162.6 L297.0 162.4 L297.5 162.3 L298.1 162.4 L298.6 162.4 L299.2 162.0 L299.7 162.4 L300.3 162.2 L300.8 162.2 L301.4 162.1 L301.9 162.2 L302.5 162.2 L303.0 162.3 L303.6 162.4 L304.1 162.5 L304.7 162.4 L305.2 162.1 L305.8 162.4 L306.3 162.4 L306.9 162.5 L307.4 162.3 L308.0 162.2 L308.5 162.8 L309.1 162.3 L309.6 162.6 L310.2 162.3 L310.7 162.5 L311.3 162.5 L311.8 162.3 L312.4 162.5 L312.9 162.5 L313.5 162.4 L314.0 162.3 L314.6 162.6 L315.1 162.2 L315.7 162.6 L316.2 162.5 L316.8 162.3 L317.3 162.2 L317.9 162.6 L318.4 162.3 L319.0 162.5 L319.5 162.6 L320.1 162.4 L320.6 162.4 L321.2 162.3 L321.7 162.4 L322.3 162.2 L322.8 162.2 L323.4 162.7 L323.9 162.1 L324.5 162.1 L325.0 162.4 L325.6 162.4 L326.1 162.5 L326.7 162.6 L327.2 162.7 L327.8 162.5 L327.8 163.6 L198.5 163.6Z" fill="#000" stroke="#000" stroke-width=".4"/>
</g>
<path d="M198.5 36.2H328.2V163.0" fill="none" stroke="#333" stroke-width=".8"/>
<line x1="198.50" y1="35.80" x2="198.50" y2="163.60" stroke="#000" stroke-width="1.2"/>
<line x1="197.90" y1="163.30" x2="328.20" y2="163.30" stroke="#000" stroke-width="1.2"/>
<line x1="198.50" y1="163.00" x2="200.90" y2="163.00" stroke="#000" stroke-width="0.5"/>
<line x1="198.50" y1="160.89" x2="199.90" y2="160.89" stroke="#000" stroke-width="0.5"/>
<line x1="198.50" y1="158.77" x2="199.90" y2="158.77" stroke="#000" stroke-width="0.5"/>
<line x1="198.50" y1="156.66" x2="199.90" y2="156.66" stroke="#000" stroke-width="0.5"/>
<line x1="198.50" y1="154.55" x2="199.90" y2="154.55" stroke="#000" stroke-width="0.5"/>
<line x1="198.50" y1="152.43" x2="199.90" y2="152.43" stroke="#000" stroke-width="0.5"/>
<line x1="198.50" y1="150.32" x2="199.90" y2="150.32" stroke="#000" stroke-width="0.5"/>
<line x1="198.50" y1="148.21" x2="199.90" y2="148.21" stroke="#000" stroke-width="0.5"/>
<line x1="198.50" y1="146.09" x2="199.90" y2="146.09" stroke="#000" stroke-width="0.5"/>
<line x1="198.50" y1="143.98" x2="199.90" y2="143.98" stroke="#000" stroke-width="0.5"/>
<line x1="198.50" y1="141.87" x2="200.90" y2="141.87" stroke="#000" stroke-width="0.5"/>
<line x1="198.50" y1="139.75" x2="199.90" y2="139.75" stroke="#000" stroke-width="0.5"/>
<line x1="198.50" y1="137.64" x2="199.90" y2="137.64" stroke="#000" stroke-width="0.5"/>
<line x1="198.50" y1="135.53" x2="199.90" y2="135.53" stroke="#000" stroke-width="0.5"/>
<line x1="198.50" y1="133.41" x2="199.90" y2="133.41" stroke="#000" stroke-width="0.5"/>
<line x1="198.50" y1="131.30" x2="199.90" y2="131.30" stroke="#000" stroke-width="0.5"/>
<line x1="198.50" y1="129.19" x2="199.90" y2="129.19" stroke="#000" stroke-width="0.5"/>
<line x1="198.50" y1="127.07" x2="199.90" y2="127.07" stroke="#000" stroke-width="0.5"/>
<line x1="198.50" y1="124.96" x2="199.90" y2="124.96" stroke="#000" stroke-width="0.5"/>
<line x1="198.50" y1="122.85" x2="199.90" y2="122.85" stroke="#000" stroke-width="0.5"/>
<line x1="198.50" y1="120.73" x2="200.90" y2="120.73" stroke="#000" stroke-width="0.5"/>
<line x1="198.50" y1="118.62" x2="199.90" y2="118.62" stroke="#000" stroke-width="0.5"/>
<line x1="198.50" y1="116.51" x2="199.90" y2="116.51" stroke="#000" stroke-width="0.5"/>
<line x1="198.50" y1="114.39" x2="199.90" y2="114.39" stroke="#000" stroke-width="0.5"/>
<line x1="198.50" y1="112.28" x2="199.90" y2="112.28" stroke="#000" stroke-width="0.5"/>
<line x1="198.50" y1="110.17" x2="199.90" y2="110.17" stroke="#000" stroke-width="0.5"/>
<line x1="198.50" y1="108.05" x2="199.90" y2="108.05" stroke="#000" stroke-width="0.5"/>
<line x1="198.50" y1="105.94" x2="199.90" y2="105.94" stroke="#000" stroke-width="0.5"/>
<line x1="198.50" y1="103.83" x2="199.90" y2="103.83" stroke="#000" stroke-width="0.5"/>
<line x1="198.50" y1="101.71" x2="199.90" y2="101.71" stroke="#000" stroke-width="0.5"/>
<line x1="198.50" y1="99.60" x2="200.90" y2="99.60" stroke="#000" stroke-width="0.5"/>
<line x1="198.50" y1="97.49" x2="199.90" y2="97.49" stroke="#000" stroke-width="0.5"/>
<line x1="198.50" y1="95.37" x2="199.90" y2="95.37" stroke="#000" stroke-width="0.5"/>
<line x1="198.50" y1="93.26" x2="199.90" y2="93.26" stroke="#000" stroke-width="0.5"/>
<line x1="198.50" y1="91.15" x2="199.90" y2="91.15" stroke="#000" stroke-width="0.5"/>
<line x1="198.50" y1="89.03" x2="199.90" y2="89.03" stroke="#000" stroke-width="0.5"/>
<line x1="198.50" y1="86.92" x2="199.90" y2="86.92" stroke="#000" stroke-width="0.5"/>
<line x1="198.50" y1="84.81" x2="199.90" y2="84.81" stroke="#000" stroke-width="0.5"/>
<line x1="198.50" y1="82.69" x2="199.90" y2="82.69" stroke="#000" stroke-width="0.5"/>
<line x1="198.50" y1="80.58" x2="199.90" y2="80.58" stroke="#000" stroke-width="0.5"/>
<line x1="198.50" y1="78.47" x2="200.90" y2="78.47" stroke="#000" stroke-width="0.5"/>
<line x1="198.50" y1="76.35" x2="199.90" y2="76.35" stroke="#000" stroke-width="0.5"/>
<line x1="198.50" y1="74.24" x2="199.90" y2="74.24" stroke="#000" stroke-width="0.5"/>
<line x1="198.50" y1="72.13" x2="199.90" y2="72.13" stroke="#000" stroke-width="0.5"/>
<line x1="198.50" y1="70.01" x2="199.90" y2="70.01" stroke="#000" stroke-width="0.5"/>
<line x1="198.50" y1="67.90" x2="199.90" y2="67.90" stroke="#000" stroke-width="0.5"/>
<line x1="198.50" y1="65.79" x2="199.90" y2="65.79" stroke="#000" stroke-width="0.5"/>
<line x1="198.50" y1="63.67" x2="199.90" y2="63.67" stroke="#000" stroke-width="0.5"/>
<line x1="198.50" y1="61.56" x2="199.90" y2="61.56" stroke="#000" stroke-width="0.5"/>
<line x1="198.50" y1="59.45" x2="199.90" y2="59.45" stroke="#000" stroke-width="0.5"/>
<line x1="198.50" y1="57.33" x2="200.90" y2="57.33" stroke="#000" stroke-width="0.5"/>
<line x1="198.50" y1="55.22" x2="199.90" y2="55.22" stroke="#000" stroke-width="0.5"/>
<line x1="198.50" y1="53.11" x2="199.90" y2="53.11" stroke="#000" stroke-width="0.5"/>
<line x1="198.50" y1="50.99" x2="199.90" y2="50.99" stroke="#000" stroke-width="0.5"/>
<line x1="198.50" y1="48.88" x2="199.90" y2="48.88" stroke="#000" stroke-width="0.5"/>
<line x1="198.50" y1="46.77" x2="199.90" y2="46.77" stroke="#000" stroke-width="0.5"/>
<line x1="198.50" y1="44.65" x2="199.90" y2="44.65" stroke="#000" stroke-width="0.5"/>
<line x1="198.50" y1="42.54" x2="199.90" y2="42.54" stroke="#000" stroke-width="0.5"/>
<line x1="198.50" y1="40.43" x2="199.90" y2="40.43" stroke="#000" stroke-width="0.5"/>
<line x1="198.50" y1="38.31" x2="199.90" y2="38.31" stroke="#000" stroke-width="0.5"/>
<line x1="198.50" y1="36.20" x2="200.90" y2="36.20" stroke="#000" stroke-width="0.5"/>
<text x="0" y="0" transform="translate(194.80 164.00) rotate(-90)" font-size="10.6" font-weight="bold" text-anchor="middle" fill="#000" stroke="#000" stroke-width=".28">0</text>
<text x="0" y="0" transform="translate(194.80 142.67) rotate(-90)" font-size="10.6" font-weight="bold" text-anchor="middle" fill="#000" stroke="#000" stroke-width=".28">20</text>
<text x="0" y="0" transform="translate(194.80 121.53) rotate(-90)" font-size="10.6" font-weight="bold" text-anchor="middle" fill="#000" stroke="#000" stroke-width=".28">40</text>
<text x="0" y="0" transform="translate(194.80 100.40) rotate(-90)" font-size="10.6" font-weight="bold" text-anchor="middle" fill="#000" stroke="#000" stroke-width=".28">60</text>
<text x="0" y="0" transform="translate(194.80 79.27) rotate(-90)" font-size="10.6" font-weight="bold" text-anchor="middle" fill="#000" stroke="#000" stroke-width=".28">80</text>
<text x="0" y="0" transform="translate(194.80 58.13) rotate(-90)" font-size="10.6" font-weight="bold" text-anchor="middle" fill="#000" stroke="#000" stroke-width=".28">100</text>
<text x="0" y="0" transform="translate(194.80 32.60) rotate(-90)" font-size="10.6" font-weight="bold" text-anchor="middle" fill="#000" stroke="#000" stroke-width=".28">120</text>
<text x="193.50" y="177.70" font-size="10.6" font-weight="bold" text-anchor="start" fill="#000">10<tspan dy="-4.03" font-size="6.57">0</tspan></text>
<line x1="198.50" y1="163.00" x2="198.50" y2="165.00" stroke="#000" stroke-width="0.7"/>
<line x1="208.26" y1="163.00" x2="208.26" y2="164.30" stroke="#000" stroke-width="0.4"/>
<line x1="213.97" y1="163.00" x2="213.97" y2="164.30" stroke="#000" stroke-width="0.4"/>
<line x1="218.02" y1="163.00" x2="218.02" y2="164.30" stroke="#000" stroke-width="0.4"/>
<line x1="221.16" y1="163.00" x2="221.16" y2="164.30" stroke="#000" stroke-width="0.4"/>
<line x1="223.73" y1="163.00" x2="223.73" y2="164.30" stroke="#000" stroke-width="0.4"/>
<line x1="225.90" y1="163.00" x2="225.90" y2="164.30" stroke="#000" stroke-width="0.4"/>
<line x1="227.78" y1="163.00" x2="227.78" y2="164.30" stroke="#000" stroke-width="0.4"/>
<line x1="229.44" y1="163.00" x2="229.44" y2="164.30" stroke="#000" stroke-width="0.4"/>
<text x="225.93" y="177.70" font-size="10.6" font-weight="bold" text-anchor="start" fill="#000">10<tspan dy="-4.03" font-size="6.57">1</tspan></text>
<line x1="230.93" y1="163.00" x2="230.93" y2="165.00" stroke="#000" stroke-width="0.7"/>
<line x1="240.69" y1="163.00" x2="240.69" y2="164.30" stroke="#000" stroke-width="0.4"/>
<line x1="246.40" y1="163.00" x2="246.40" y2="164.30" stroke="#000" stroke-width="0.4"/>
<line x1="250.45" y1="163.00" x2="250.45" y2="164.30" stroke="#000" stroke-width="0.4"/>
<line x1="253.59" y1="163.00" x2="253.59" y2="164.30" stroke="#000" stroke-width="0.4"/>
<line x1="256.16" y1="163.00" x2="256.16" y2="164.30" stroke="#000" stroke-width="0.4"/>
<line x1="258.33" y1="163.00" x2="258.33" y2="164.30" stroke="#000" stroke-width="0.4"/>
<line x1="260.21" y1="163.00" x2="260.21" y2="164.30" stroke="#000" stroke-width="0.4"/>
<line x1="261.87" y1="163.00" x2="261.87" y2="164.30" stroke="#000" stroke-width="0.4"/>
<text x="258.35" y="177.70" font-size="10.6" font-weight="bold" text-anchor="start" fill="#000">10<tspan dy="-4.03" font-size="6.57">2</tspan></text>
<line x1="263.35" y1="163.00" x2="263.35" y2="165.00" stroke="#000" stroke-width="0.7"/>
<line x1="273.11" y1="163.00" x2="273.11" y2="164.30" stroke="#000" stroke-width="0.4"/>
<line x1="278.82" y1="163.00" x2="278.82" y2="164.30" stroke="#000" stroke-width="0.4"/>
<line x1="282.87" y1="163.00" x2="282.87" y2="164.30" stroke="#000" stroke-width="0.4"/>
<line x1="286.01" y1="163.00" x2="286.01" y2="164.30" stroke="#000" stroke-width="0.4"/>
<line x1="288.58" y1="163.00" x2="288.58" y2="164.30" stroke="#000" stroke-width="0.4"/>
<line x1="290.75" y1="163.00" x2="290.75" y2="164.30" stroke="#000" stroke-width="0.4"/>
<line x1="292.63" y1="163.00" x2="292.63" y2="164.30" stroke="#000" stroke-width="0.4"/>
<line x1="294.29" y1="163.00" x2="294.29" y2="164.30" stroke="#000" stroke-width="0.4"/>
<text x="290.77" y="177.70" font-size="10.6" font-weight="bold" text-anchor="start" fill="#000">10<tspan dy="-4.03" font-size="6.57">3</tspan></text>
<line x1="295.77" y1="163.00" x2="295.77" y2="165.00" stroke="#000" stroke-width="0.7"/>
<line x1="305.54" y1="163.00" x2="305.54" y2="164.30" stroke="#000" stroke-width="0.4"/>
<line x1="311.25" y1="163.00" x2="311.25" y2="164.30" stroke="#000" stroke-width="0.4"/>
<line x1="315.30" y1="163.00" x2="315.30" y2="164.30" stroke="#000" stroke-width="0.4"/>
<line x1="318.44" y1="163.00" x2="318.44" y2="164.30" stroke="#000" stroke-width="0.4"/>
<line x1="321.01" y1="163.00" x2="321.01" y2="164.30" stroke="#000" stroke-width="0.4"/>
<line x1="323.18" y1="163.00" x2="323.18" y2="164.30" stroke="#000" stroke-width="0.4"/>
<line x1="325.06" y1="163.00" x2="325.06" y2="164.30" stroke="#000" stroke-width="0.4"/>
<line x1="326.72" y1="163.00" x2="326.72" y2="164.30" stroke="#000" stroke-width="0.4"/>
<text x="323.20" y="177.70" font-size="10.6" font-weight="bold" text-anchor="start" fill="#000">10<tspan dy="-4.03" font-size="6.57">4</tspan></text>
<line x1="328.20" y1="163.00" x2="328.20" y2="165.00" stroke="#000" stroke-width="0.7"/>
<text x="224.80" y="49.50" font-size="9.2" text-anchor="start" fill="#000" textLength="31.6" lengthAdjust="spacingAndGlyphs">Isotypic</text>
<text x="224.80" y="60.10" font-size="9.2" text-anchor="start" fill="#000" textLength="28.2" lengthAdjust="spacingAndGlyphs">control</text>
<text x="252.00" y="69.70" font-size="9.2" text-anchor="start" fill="#000" textLength="25.4" lengthAdjust="spacingAndGlyphs">Day 0</text>
<text x="268.30" y="80.60" font-size="9.2" text-anchor="start" fill="#000" textLength="25.4" lengthAdjust="spacingAndGlyphs">Day 3</text>
<text x="288.30" y="95.20" font-size="9.2" text-anchor="start" fill="#000" textLength="25.4" lengthAdjust="spacingAndGlyphs">Day 5</text>
<line x1="225.80" y1="61.60" x2="218.98" y2="64.07" stroke="#111" stroke-width="0.7"/>
<polygon points="215.60,65.30 219.28,61.95 220.57,65.52" fill="#111"/>
<line x1="248.00" y1="69.60" x2="230.53" y2="78.21" stroke="#111" stroke-width="0.7"/>
<polygon points="227.30,79.80 230.59,76.06 232.27,79.47" fill="#111"/>
<line x1="267.80" y1="76.80" x2="243.60" y2="80.30" stroke="#111" stroke-width="0.7"/>
<line x1="243.60" y1="80.30" x2="236.49" y2="105.14" stroke="#111" stroke-width="0.7"/>
<polygon points="235.50,108.60 234.94,103.65 238.59,104.70" fill="#111"/>
<line x1="287.60" y1="91.60" x2="258.73" y2="97.48" stroke="#111" stroke-width="0.7"/>
<polygon points="255.20,98.20 259.33,95.42 260.09,99.14" fill="#111"/>
<line x1="183.30" y1="131.50" x2="183.30" y2="62.80" stroke="#555" stroke-width="0.9"/>
<polygon points="183.30,58.80 185.60,63.80 181.00,63.80" fill="#111"/>
<text x="0" y="0" transform="translate(177.80 97.40) rotate(-90)" font-size="10" font-weight="bold" text-anchor="middle" fill="#000" stroke="#000" stroke-width=".28">CD33<tspan dy="-3.80" font-size="6.20">+</tspan><tspan dy="3.80" font-size="10"> FITC</tspan></text>
<clipPath id="ch2"><rect x="376.2" y="35.4" width="134.0" height="128.6"/></clipPath>
<g clip-path="url(#ch2)">
<path d="M376.2 156.3 L377.0 154.4 L377.8 154.2 L378.6 149.9 L379.4 147.4 L380.2 148.3 L381.0 146.2 L381.8 142.9 L382.6 140.6 L383.4 141.7 L384.2 141.4 L385.0 139.3 L385.8 139.6 L386.6 134.8 L387.4 143.4 L388.2 141.0 L389.0 133.1 L389.8 131.9 L390.6 133.3 L391.4 134.3 L392.2 130.4 L393.0 139.4 L393.8 128.5 L394.6 130.2 L395.4 133.4 L396.2 132.4 L397.0 124.8 L397.8 131.0 L398.6 135.4 L399.4 128.6 L400.2 129.7 L401.0 123.2 L401.8 125.2 L402.6 127.1 L403.4 129.4 L404.2 132.6 L405.0 122.9 L405.8 123.6 L406.6 132.0 L407.4 127.4 L408.2 119.2 L409.0 118.9 L409.8 125.0 L410.6 121.8 L411.4 124.2 L412.2 119.9 L413.0 124.4 L413.8 129.4 L414.6 113.2 L415.4 121.1 L416.2 114.7 L417.0 113.5 L417.8 108.8 L418.6 116.1 L419.4 119.2 L420.2 128.3 L421.0 126.0 L421.8 124.4 L422.6 130.2 L423.4 127.6 L424.2 132.1 L425.0 134.8 L425.8 141.3 L426.6 142.2 L427.4 139.4 L428.2 147.1 L429.0 147.0 L429.8 147.9 L430.6 152.5 L431.4 155.4 L432.2 159.3 L433.0 161.8" fill="none" stroke="#111" stroke-width=".7"/>
<path d="M376.2 151.0 L377.0 150.6 L377.8 148.3 L378.6 148.8 L379.4 142.3 L380.2 141.5 L381.0 142.2 L381.8 142.3 L382.6 137.0 L383.4 131.9 L384.2 138.5 L385.0 133.2 L385.8 130.1 L386.6 131.0 L387.4 130.9 L388.2 124.2 L389.0 125.1 L389.8 122.1 L390.6 123.3 L391.4 116.5 L392.2 127.2 L393.0 118.8 L393.8 132.7 L394.6 126.7 L395.4 110.3 L396.2 120.3 L397.0 129.4 L397.8 133.5 L398.6 127.4 L399.4 127.6 L400.2 119.0 L401.0 120.9 L401.8 133.0 L402.6 117.0 L403.4 133.3 L404.2 119.5 L405.0 137.0 L405.8 109.8 L406.6 118.0 L407.4 116.5 L408.2 124.7 L409.0 117.5 L409.8 134.6 L410.6 108.5 L411.4 124.7 L412.2 103.9 L413.0 115.1 L413.8 117.6 L414.6 120.0 L415.4 136.3 L416.2 129.1 L417.0 122.7 L417.8 130.5 L418.6 137.4 L419.4 145.0 L420.2 150.8 L421.0 148.9 L421.8 151.5 L422.6 156.9 L423.4 157.8 L424.2 161.7 L425.0 162.5" fill="none" stroke="#666" stroke-width=".8"/>
<path d="M376.2 155.7 L377.0 150.2 L377.8 155.2 L378.6 149.8 L379.4 151.2 L380.2 144.2 L381.0 147.6 L381.8 150.0 L382.6 144.6 L383.4 151.0 L384.2 142.5 L385.0 139.3 L385.8 142.0 L386.6 139.6 L387.4 137.1 L388.2 137.3 L389.0 129.2 L389.8 139.3 L390.6 130.0 L391.4 135.4 L392.2 117.7 L393.0 135.8 L393.8 125.2 L394.6 126.6 L395.4 133.1 L396.2 128.0 L397.0 131.0 L397.8 129.0 L398.6 129.6 L399.4 138.0 L400.2 128.0 L401.0 125.5 L401.8 128.6 L402.6 120.8 L403.4 137.7 L404.2 135.6 L405.0 129.4 L405.8 142.0 L406.6 133.4 L407.4 124.1 L408.2 136.3 L409.0 127.8 L409.8 132.4 L410.6 127.9 L411.4 104.4 L412.2 119.9 L413.0 141.5 L413.8 136.8 L414.6 137.2 L415.4 134.4 L416.2 123.0 L417.0 132.3 L417.8 135.4 L418.6 141.4 L419.4 148.0 L420.2 150.6 L421.0 148.2 L421.8 154.1 L422.6 155.5 L423.4 157.2 L424.2 158.9 L425.0 163.4" fill="none" stroke="#999" stroke-width=".7" stroke-dasharray="1.4 .8"/>
<path d="M376.2 150.7 L376.9 149.3 L377.6 145.5 L378.3 143.0 L379.0 143.1 L379.7 149.9 L380.4 138.4 L381.1 132.6 L381.8 144.0 L382.5 141.0 L383.2 128.4 L383.9 133.6 L384.6 135.1 L385.3 115.7 L386.0 123.5 L386.7 125.2 L387.4 128.3 L388.1 118.0 L388.8 134.1 L389.5 126.7 L390.2 118.0 L390.9 130.3 L391.6 134.1 L392.3 110.8 L393.0 114.4 L393.7 112.9 L394.4 121.5 L395.1 114.6 L395.8 124.3 L396.5 129.1 L397.2 117.4 L397.9 107.9 L398.6 107.8 L399.3 111.8 L400.0 109.2 L400.7 107.3 L401.4 97.0 L402.1 120.7 L402.8 112.7 L403.5 119.7 L404.2 136.2 L404.9 127.9 L405.6 135.3 L406.3 126.1 L407.0 123.7 L407.7 129.9 L408.4 137.5 L409.1 126.5 L409.8 139.3 L410.5 137.1 L411.2 144.9 L411.9 150.4 L412.6 145.6 L413.3 150.4 L414.0 153.9 L414.7 154.5 L415.4 157.1 L416.1 159.4 L416.8 161.9 L417.5 161.3 L417.5 163.4 L376.2 163.4Z" fill="#777" fill-opacity=".5" stroke="#111" stroke-width=".7"/>
<path d="M376.2 147.3 L376.9 150.6 L377.6 141.1 L378.3 146.1 L379.0 144.2 L379.7 139.4 L380.4 145.0 L381.1 137.7 L381.8 145.6 L382.5 132.3 L383.2 129.7 L383.9 139.2 L384.6 141.7 L385.3 134.6 L386.0 125.5 L386.7 147.0 L387.4 124.0 L388.1 139.0 L388.8 127.0 L389.5 121.8 L390.2 131.1 L390.9 115.6 L391.6 122.9 L392.3 135.1 L393.0 130.3 L393.7 130.4 L394.4 122.8 L395.1 121.6 L395.8 135.8 L396.5 119.4 L397.2 116.2 L397.9 128.8 L398.6 127.1 L399.3 130.6 L400.0 130.5 L400.7 126.1 L401.4 124.1 L402.1 125.5 L402.8 124.3 L403.5 132.6 L404.2 119.3 L404.9 135.3 L405.6 126.9 L406.3 140.7 L407.0 138.0 L407.7 136.2 L408.4 143.7 L409.1 141.2 L409.8 146.4 L410.5 141.3 L411.2 145.1 L411.9 147.3 L412.6 150.3 L413.3 153.9 L414.0 157.4 L414.7 154.9 L415.4 157.5 L416.1 158.8 L416.8 163.4 L417.5 163.4" fill="none" stroke="#333" stroke-width=".6"/>
<path d="M376.2 157.6 L376.8 156.6 L377.4 155.8 L378.0 156.4 L378.6 156.3 L379.2 155.9 L379.8 155.3 L380.4 156.1 L381.0 154.5 L381.6 154.6 L382.2 152.8 L382.8 152.7 L383.4 152.9 L384.0 152.0 L384.6 151.1 L385.2 149.6 L385.8 148.7 L386.4 148.8 L387.0 147.5 L387.6 145.9 L388.2 146.9 L388.8 141.5 L389.4 143.9 L390.0 140.5 L390.6 138.5 L391.2 140.7 L391.8 134.8 L392.4 136.8 L393.0 139.7 L393.6 134.7 L394.2 133.6 L394.8 134.9 L395.4 125.6 L396.0 132.2 L396.6 132.8 L397.2 128.4 L397.8 127.5 L398.4 131.1 L399.0 131.2 L399.6 131.9 L400.2 130.8 L400.8 131.6 L401.4 132.9 L402.0 133.7 L402.6 139.9 L403.2 138.0 L403.8 137.6 L404.4 138.5 L405.0 138.3 L405.6 141.2 L406.2 142.1 L406.8 145.8 L407.4 146.0 L408.0 146.5 L408.6 148.9 L409.2 149.6 L409.8 150.4 L410.4 152.1 L411.0 154.0 L411.6 155.8 L412.2 154.6 L412.8 157.2 L413.4 158.3 L414.0 160.4 L414.6 161.5 L415.2 162.0 L415.8 162.7 L416.4 162.9 L417.0 163.2 L417.6 162.6 L418.2 162.7 L418.8 162.9 L419.4 163.0 L420.0 163.2 L420.6 162.8 L421.2 163.2 L421.8 163.2 L422.4 162.9 L423.0 163.2 L423.6 162.7 L424.2 162.7 L424.8 163.2 L425.4 163.0 L426.0 163.2 L426.6 163.2 L427.2 163.2 L427.8 163.0 L428.4 162.8 L429.0 163.2 L429.6 163.2 L429.6 164.0 L376.2 164.0Z" fill="#000" stroke="#000" stroke-width=".4"/>
</g>
<path d="M376.2 35.4H510.2V163.4" fill="none" stroke="#333" stroke-width=".8"/>
<line x1="376.20" y1="35.00" x2="376.20" y2="164.00" stroke="#000" stroke-width="1.2"/>
<line x1="375.60" y1="163.70" x2="510.20" y2="163.70" stroke="#000" stroke-width="1.2"/>
<line x1="376.20" y1="163.40" x2="378.60" y2="163.40" stroke="#000" stroke-width="0.5"/>
<line x1="376.20" y1="161.27" x2="377.60" y2="161.27" stroke="#000" stroke-width="0.5"/>
<line x1="376.20" y1="159.13" x2="377.60" y2="159.13" stroke="#000" stroke-width="0.5"/>
<line x1="376.20" y1="157.00" x2="377.60" y2="157.00" stroke="#000" stroke-width="0.5"/>
<line x1="376.20" y1="154.87" x2="377.60" y2="154.87" stroke="#000" stroke-width="0.5"/>
<line x1="376.20" y1="152.73" x2="377.60" y2="152.73" stroke="#000" stroke-width="0.5"/>
<line x1="376.20" y1="150.60" x2="377.60" y2="150.60" stroke="#000" stroke-width="0.5"/>
<line x1="376.20" y1="148.47" x2="377.60" y2="148.47" stroke="#000" stroke-width="0.5"/>
<line x1="376.20" y1="146.33" x2="377.60" y2="146.33" stroke="#000" stroke-width="0.5"/>
<line x1="376.20" y1="144.20" x2="377.60" y2="144.20" stroke="#000" stroke-width="0.5"/>
<line x1="376.20" y1="142.07" x2="378.60" y2="142.07" stroke="#000" stroke-width="0.5"/>
<line x1="376.20" y1="139.93" x2="377.60" y2="139.93" stroke="#000" stroke-width="0.5"/>
<line x1="376.20" y1="137.80" x2="377.60" y2="137.80" stroke="#000" stroke-width="0.5"/>
<line x1="376.20" y1="135.67" x2="377.60" y2="135.67" stroke="#000" stroke-width="0.5"/>
<line x1="376.20" y1="133.53" x2="377.60" y2="133.53" stroke="#000" stroke-width="0.5"/>
<line x1="376.20" y1="131.40" x2="377.60" y2="131.40" stroke="#000" stroke-width="0.5"/>
<line x1="376.20" y1="129.27" x2="377.60" y2="129.27" stroke="#000" stroke-width="0.5"/>
<line x1="376.20" y1="127.13" x2="377.60" y2="127.13" stroke="#000" stroke-width="0.5"/>
<line x1="376.20" y1="125.00" x2="377.60" y2="125.00" stroke="#000" stroke-width="0.5"/>
<line x1="376.20" y1="122.87" x2="377.60" y2="122.87" stroke="#000" stroke-width="0.5"/>
<line x1="376.20" y1="120.73" x2="378.60" y2="120.73" stroke="#000" stroke-width="0.5"/>
<line x1="376.20" y1="118.60" x2="377.60" y2="118.60" stroke="#000" stroke-width="0.5"/>
<line x1="376.20" y1="116.47" x2="377.60" y2="116.47" stroke="#000" stroke-width="0.5"/>
<line x1="376.20" y1="114.33" x2="377.60" y2="114.33" stroke="#000" stroke-width="0.5"/>
<line x1="376.20" y1="112.20" x2="377.60" y2="112.20" stroke="#000" stroke-width="0.5"/>
<line x1="376.20" y1="110.07" x2="377.60" y2="110.07" stroke="#000" stroke-width="0.5"/>
<line x1="376.20" y1="107.93" x2="377.60" y2="107.93" stroke="#000" stroke-width="0.5"/>
<line x1="376.20" y1="105.80" x2="377.60" y2="105.80" stroke="#000" stroke-width="0.5"/>
<line x1="376.20" y1="103.67" x2="377.60" y2="103.67" stroke="#000" stroke-width="0.5"/>
<line x1="376.20" y1="101.53" x2="377.60" y2="101.53" stroke="#000" stroke-width="0.5"/>
<line x1="376.20" y1="99.40" x2="378.60" y2="99.40" stroke="#000" stroke-width="0.5"/>
<line x1="376.20" y1="97.27" x2="377.60" y2="97.27" stroke="#000" stroke-width="0.5"/>
<line x1="376.20" y1="95.13" x2="377.60" y2="95.13" stroke="#000" stroke-width="0.5"/>
<line x1="376.20" y1="93.00" x2="377.60" y2="93.00" stroke="#000" stroke-width="0.5"/>
<line x1="376.20" y1="90.87" x2="377.60" y2="90.87" stroke="#000" stroke-width="0.5"/>
<line x1="376.20" y1="88.73" x2="377.60" y2="88.73" stroke="#000" stroke-width="0.5"/>
<line x1="376.20" y1="86.60" x2="377.60" y2="86.60" stroke="#000" stroke-width="0.5"/>
<line x1="376.20" y1="84.47" x2="377.60" y2="84.47" stroke="#000" stroke-width="0.5"/>
<line x1="376.20" y1="82.33" x2="377.60" y2="82.33" stroke="#000" stroke-width="0.5"/>
<line x1="376.20" y1="80.20" x2="377.60" y2="80.20" stroke="#000" stroke-width="0.5"/>
<line x1="376.20" y1="78.07" x2="378.60" y2="78.07" stroke="#000" stroke-width="0.5"/>
<line x1="376.20" y1="75.93" x2="377.60" y2="75.93" stroke="#000" stroke-width="0.5"/>
<line x1="376.20" y1="73.80" x2="377.60" y2="73.80" stroke="#000" stroke-width="0.5"/>
<line x1="376.20" y1="71.67" x2="377.60" y2="71.67" stroke="#000" stroke-width="0.5"/>
<line x1="376.20" y1="69.53" x2="377.60" y2="69.53" stroke="#000" stroke-width="0.5"/>
<line x1="376.20" y1="67.40" x2="377.60" y2="67.40" stroke="#000" stroke-width="0.5"/>
<line x1="376.20" y1="65.27" x2="377.60" y2="65.27" stroke="#000" stroke-width="0.5"/>
<line x1="376.20" y1="63.13" x2="377.60" y2="63.13" stroke="#000" stroke-width="0.5"/>
<line x1="376.20" y1="61.00" x2="377.60" y2="61.00" stroke="#000" stroke-width="0.5"/>
<line x1="376.20" y1="58.87" x2="377.60" y2="58.87" stroke="#000" stroke-width="0.5"/>
<line x1="376.20" y1="56.73" x2="378.60" y2="56.73" stroke="#000" stroke-width="0.5"/>
<line x1="376.20" y1="54.60" x2="377.60" y2="54.60" stroke="#000" stroke-width="0.5"/>
<line x1="376.20" y1="52.47" x2="377.60" y2="52.47" stroke="#000" stroke-width="0.5"/>
<line x1="376.20" y1="50.33" x2="377.60" y2="50.33" stroke="#000" stroke-width="0.5"/>
<line x1="376.20" y1="48.20" x2="377.60" y2="48.20" stroke="#000" stroke-width="0.5"/>
<line x1="376.20" y1="46.07" x2="377.60" y2="46.07" stroke="#000" stroke-width="0.5"/>
<line x1="376.20" y1="43.93" x2="377.60" y2="43.93" stroke="#000" stroke-width="0.5"/>
<line x1="376.20" y1="41.80" x2="377.60" y2="41.80" stroke="#000" stroke-width="0.5"/>
<line x1="376.20" y1="39.67" x2="377.60" y2="39.67" stroke="#000" stroke-width="0.5"/>
<line x1="376.20" y1="37.53" x2="377.60" y2="37.53" stroke="#000" stroke-width="0.5"/>
<line x1="376.20" y1="35.40" x2="378.60" y2="35.40" stroke="#000" stroke-width="0.5"/>
<text x="0" y="0" transform="translate(372.00 164.40) rotate(-90)" font-size="10.6" font-weight="bold" text-anchor="middle" fill="#000" stroke="#000" stroke-width=".28">0</text>
<text x="0" y="0" transform="translate(372.00 142.27) rotate(-90)" font-size="10.6" font-weight="bold" text-anchor="middle" fill="#000" stroke="#000" stroke-width=".28">20</text>
<text x="0" y="0" transform="translate(372.00 120.93) rotate(-90)" font-size="10.6" font-weight="bold" text-anchor="middle" fill="#000" stroke="#000" stroke-width=".28">40</text>
<text x="0" y="0" transform="translate(372.00 99.60) rotate(-90)" font-size="10.6" font-weight="bold" text-anchor="middle" fill="#000" stroke="#000" stroke-width=".28">60</text>
<text x="0" y="0" transform="translate(372.00 78.27) rotate(-90)" font-size="10.6" font-weight="bold" text-anchor="middle" fill="#000" stroke="#000" stroke-width=".28">80</text>
<text x="0" y="0" transform="translate(372.00 56.93) rotate(-90)" font-size="10.6" font-weight="bold" text-anchor="middle" fill="#000" stroke="#000" stroke-width=".28">100</text>
<text x="0" y="0" transform="translate(372.00 34.60) rotate(-90)" font-size="10.6" font-weight="bold" text-anchor="middle" fill="#000" stroke="#000" stroke-width=".28">120</text>
<text x="369.80" y="177.70" font-size="10.6" font-weight="bold" text-anchor="start" fill="#000">10<tspan dy="-4.03" font-size="6.57">0</tspan></text>
<line x1="376.20" y1="163.40" x2="376.20" y2="165.40" stroke="#000" stroke-width="0.7"/>
<line x1="386.28" y1="163.40" x2="386.28" y2="164.70" stroke="#000" stroke-width="0.4"/>
<line x1="392.18" y1="163.40" x2="392.18" y2="164.70" stroke="#000" stroke-width="0.4"/>
<line x1="396.37" y1="163.40" x2="396.37" y2="164.70" stroke="#000" stroke-width="0.4"/>
<line x1="399.62" y1="163.40" x2="399.62" y2="164.70" stroke="#000" stroke-width="0.4"/>
<line x1="402.27" y1="163.40" x2="402.27" y2="164.70" stroke="#000" stroke-width="0.4"/>
<line x1="404.51" y1="163.40" x2="404.51" y2="164.70" stroke="#000" stroke-width="0.4"/>
<line x1="406.45" y1="163.40" x2="406.45" y2="164.70" stroke="#000" stroke-width="0.4"/>
<line x1="408.17" y1="163.40" x2="408.17" y2="164.70" stroke="#000" stroke-width="0.4"/>
<text x="403.30" y="177.70" font-size="10.6" font-weight="bold" text-anchor="start" fill="#000">10<tspan dy="-4.03" font-size="6.57">1</tspan></text>
<line x1="409.70" y1="163.40" x2="409.70" y2="165.40" stroke="#000" stroke-width="0.7"/>
<line x1="419.78" y1="163.40" x2="419.78" y2="164.70" stroke="#000" stroke-width="0.4"/>
<line x1="425.68" y1="163.40" x2="425.68" y2="164.70" stroke="#000" stroke-width="0.4"/>
<line x1="429.87" y1="163.40" x2="429.87" y2="164.70" stroke="#000" stroke-width="0.4"/>
<line x1="433.12" y1="163.40" x2="433.12" y2="164.70" stroke="#000" stroke-width="0.4"/>
<line x1="435.77" y1="163.40" x2="435.77" y2="164.70" stroke="#000" stroke-width="0.4"/>
<line x1="438.01" y1="163.40" x2="438.01" y2="164.70" stroke="#000" stroke-width="0.4"/>
<line x1="439.95" y1="163.40" x2="439.95" y2="164.70" stroke="#000" stroke-width="0.4"/>
<line x1="441.67" y1="163.40" x2="441.67" y2="164.70" stroke="#000" stroke-width="0.4"/>
<text x="436.80" y="177.70" font-size="10.6" font-weight="bold" text-anchor="start" fill="#000">10<tspan dy="-4.03" font-size="6.57">2</tspan></text>
<line x1="443.20" y1="163.40" x2="443.20" y2="165.40" stroke="#000" stroke-width="0.7"/>
<line x1="453.28" y1="163.40" x2="453.28" y2="164.70" stroke="#000" stroke-width="0.4"/>
<line x1="459.18" y1="163.40" x2="459.18" y2="164.70" stroke="#000" stroke-width="0.4"/>
<line x1="463.37" y1="163.40" x2="463.37" y2="164.70" stroke="#000" stroke-width="0.4"/>
<line x1="466.62" y1="163.40" x2="466.62" y2="164.70" stroke="#000" stroke-width="0.4"/>
<line x1="469.27" y1="163.40" x2="469.27" y2="164.70" stroke="#000" stroke-width="0.4"/>
<line x1="471.51" y1="163.40" x2="471.51" y2="164.70" stroke="#000" stroke-width="0.4"/>
<line x1="473.45" y1="163.40" x2="473.45" y2="164.70" stroke="#000" stroke-width="0.4"/>
<line x1="475.17" y1="163.40" x2="475.17" y2="164.70" stroke="#000" stroke-width="0.4"/>
<text x="470.30" y="177.70" font-size="10.6" font-weight="bold" text-anchor="start" fill="#000">10<tspan dy="-4.03" font-size="6.57">3</tspan></text>
<line x1="476.70" y1="163.40" x2="476.70" y2="165.40" stroke="#000" stroke-width="0.7"/>
<line x1="486.78" y1="163.40" x2="486.78" y2="164.70" stroke="#000" stroke-width="0.4"/>
<line x1="492.68" y1="163.40" x2="492.68" y2="164.70" stroke="#000" stroke-width="0.4"/>
<line x1="496.87" y1="163.40" x2="496.87" y2="164.70" stroke="#000" stroke-width="0.4"/>
<line x1="500.12" y1="163.40" x2="500.12" y2="164.70" stroke="#000" stroke-width="0.4"/>
<line x1="502.77" y1="163.40" x2="502.77" y2="164.70" stroke="#000" stroke-width="0.4"/>
<line x1="505.01" y1="163.40" x2="505.01" y2="164.70" stroke="#000" stroke-width="0.4"/>
<line x1="506.95" y1="163.40" x2="506.95" y2="164.70" stroke="#000" stroke-width="0.4"/>
<line x1="508.67" y1="163.40" x2="508.67" y2="164.70" stroke="#000" stroke-width="0.4"/>
<text x="503.80" y="177.70" font-size="10.6" font-weight="bold" text-anchor="start" fill="#000">10<tspan dy="-4.03" font-size="6.57">4</tspan></text>
<line x1="510.20" y1="163.40" x2="510.20" y2="165.40" stroke="#000" stroke-width="0.7"/>
<text x="400.30" y="51.60" font-size="9.2" text-anchor="start" fill="#000" textLength="31.6" lengthAdjust="spacingAndGlyphs">Isotypic</text>
<text x="400.30" y="62.20" font-size="9.2" text-anchor="start" fill="#000" textLength="28.2" lengthAdjust="spacingAndGlyphs">control</text>
<text x="423.80" y="70.80" font-size="9.2" text-anchor="start" fill="#000" textLength="25.4" lengthAdjust="spacingAndGlyphs">Day 0</text>
<text x="443.40" y="81.40" font-size="9.2" text-anchor="start" fill="#000" textLength="25.4" lengthAdjust="spacingAndGlyphs">Day 3</text>
<text x="463.40" y="100.40" font-size="9.2" text-anchor="start" fill="#000" textLength="25.4" lengthAdjust="spacingAndGlyphs">Day 5</text>
<line x1="406.60" y1="63.40" x2="399.20" y2="104.60" stroke="#111" stroke-width="0.6"/>
<line x1="423.00" y1="73.80" x2="404.92" y2="95.25" stroke="#111" stroke-width="0.7"/>
<polygon points="402.60,98.00 404.11,93.26 407.02,95.71" fill="#111"/>
<line x1="445.00" y1="81.60" x2="418.54" y2="96.44" stroke="#111" stroke-width="0.7"/>
<polygon points="415.40,98.20 418.48,94.29 420.34,97.61" fill="#111"/>
<line x1="464.60" y1="97.80" x2="430.34" y2="111.65" stroke="#111" stroke-width="0.7"/>
<polygon points="427.00,113.00 430.55,109.51 431.98,113.04" fill="#111"/>
<line x1="360.40" y1="134.00" x2="360.40" y2="64.50" stroke="#555" stroke-width="0.9"/>
<polygon points="360.40,60.50 362.70,65.50 358.10,65.50" fill="#111"/>
<text x="0" y="0" transform="translate(355.60 98.00) rotate(-90)" font-size="10" font-weight="bold" text-anchor="middle" fill="#000" stroke="#000" stroke-width=".28">CD14<tspan dy="-3.80" font-size="6.20">+</tspan><tspan dy="3.80" font-size="10"> FITC</tspan></text>
<line x1="247.00" y1="182.60" x2="475.50" y2="182.60" stroke="#555" stroke-width="0.9"/>
<polygon points="480.00,182.60 474.50,184.80 474.50,180.40" fill="#111"/>
<text x="347.40" y="195.40" font-size="9.8" font-weight="bold" text-anchor="start" fill="#000" textLength="46.4" lengthAdjust="spacingAndGlyphs">uPAR PE</text>
<text x="-0.30" y="212.30" font-size="24.4" font-weight="bold" text-anchor="start" fill="#000" stroke="#000" stroke-width=".5">B</text>
<rect x="73.0" y="218.8" width="437.5" height="146.2" fill="#fff" stroke="#000" stroke-width="1.15"/>
<line x1="72.60" y1="365.00" x2="510.90" y2="365.00" stroke="#000" stroke-width="1.3"/>
<line x1="68.40" y1="365.00" x2="73.00" y2="365.00" stroke="#000" stroke-width="0.8"/>
<text transform="translate(63.3 366.70) scale(2.0 1)" font-size="7.3" text-anchor="end" fill="#111" stroke="#111" stroke-width=".22">0</text>
<line x1="68.40" y1="340.63" x2="73.00" y2="340.63" stroke="#000" stroke-width="0.8"/>
<text transform="translate(63.3 342.33) scale(2.0 1)" font-size="7.3" text-anchor="end" fill="#111" stroke="#111" stroke-width=".22">10</text>
<line x1="68.40" y1="316.27" x2="73.00" y2="316.27" stroke="#000" stroke-width="0.8"/>
<text transform="translate(63.3 317.97) scale(2.0 1)" font-size="7.3" text-anchor="end" fill="#111" stroke="#111" stroke-width=".22">20</text>
<line x1="68.40" y1="291.90" x2="73.00" y2="291.90" stroke="#000" stroke-width="0.8"/>
<text transform="translate(63.3 293.60) scale(2.0 1)" font-size="7.3" text-anchor="end" fill="#111" stroke="#111" stroke-width=".22">30</text>
<line x1="68.40" y1="267.53" x2="73.00" y2="267.53" stroke="#000" stroke-width="0.8"/>
<text transform="translate(63.3 269.23) scale(2.0 1)" font-size="7.3" text-anchor="end" fill="#111" stroke="#111" stroke-width=".22">40</text>
<line x1="68.40" y1="243.17" x2="73.00" y2="243.17" stroke="#000" stroke-width="0.8"/>
<text transform="translate(63.3 244.87) scale(2.0 1)" font-size="7.3" text-anchor="end" fill="#111" stroke="#111" stroke-width=".22">50</text>
<line x1="68.40" y1="218.80" x2="73.00" y2="218.80" stroke="#000" stroke-width="0.8"/>
<text transform="translate(63.3 220.50) scale(2.0 1)" font-size="7.3" text-anchor="end" fill="#111" stroke="#111" stroke-width=".22">60</text>
<rect x="77.40" y="328.45" width="7.15" height="36.55" fill="#fff" stroke="#000" stroke-width="1"/>
<rect x="84.65" y="313.83" width="6.65" height="51.17" fill="#d2d2d2" stroke="#000" stroke-width="1"/>
<rect x="91.40" y="299.21" width="6.50" height="65.79" fill="#8a8a8a" stroke="#000" stroke-width="1"/>
<rect x="105.90" y="328.45" width="7.00" height="36.55" fill="#fff" stroke="#000" stroke-width="1"/>
<rect x="113.00" y="267.53" width="7.30" height="97.47" fill="#d2d2d2" stroke="#000" stroke-width="1"/>
<rect x="126.60" y="355.25" width="5.90" height="9.75" fill="#fff" stroke="#000" stroke-width="1"/>
<rect x="132.60" y="323.58" width="6.70" height="41.42" fill="#d2d2d2" stroke="#000" stroke-width="1"/>
<rect x="139.40" y="355.25" width="6.70" height="9.75" fill="#8a8a8a" stroke="#000" stroke-width="1"/>
<rect x="146.20" y="362.56" width="7.10" height="2.44" fill="#000" stroke="#000" stroke-width="1"/>
<rect x="161.20" y="343.07" width="7.10" height="21.93" fill="#fff" stroke="#000" stroke-width="1"/>
<rect x="168.40" y="360.13" width="6.10" height="4.87" fill="#d2d2d2" stroke="#000" stroke-width="1"/>
<rect x="174.60" y="357.69" width="6.30" height="7.31" fill="#8a8a8a" stroke="#000" stroke-width="1"/>
<rect x="181.00" y="311.39" width="7.10" height="53.61" fill="#000" stroke="#000" stroke-width="1"/>
<rect x="194.90" y="360.13" width="6.70" height="4.87" fill="#fff" stroke="#000" stroke-width="1"/>
<rect x="201.70" y="350.38" width="6.90" height="14.62" fill="#d2d2d2" stroke="#000" stroke-width="1"/>
<rect x="208.70" y="350.38" width="7.80" height="14.62" fill="#8a8a8a" stroke="#000" stroke-width="1"/>
<rect x="216.60" y="299.21" width="7.50" height="65.79" fill="#000" stroke="#000" stroke-width="1"/>
<rect x="229.90" y="326.01" width="6.00" height="38.99" fill="#fff" stroke="#000" stroke-width="1"/>
<rect x="236.00" y="316.27" width="6.90" height="48.73" fill="#8a8a8a" stroke="#000" stroke-width="1"/>
<rect x="243.00" y="360.13" width="7.70" height="4.87" fill="#000" stroke="#000" stroke-width="1"/>
<rect x="256.70" y="362.56" width="6.60" height="2.44" fill="#fff" stroke="#000" stroke-width="1"/>
<rect x="263.40" y="360.13" width="6.90" height="4.87" fill="#8a8a8a" stroke="#000" stroke-width="1"/>
<rect x="270.40" y="330.89" width="7.40" height="34.11" fill="#000" stroke="#000" stroke-width="1"/>
<rect x="284.90" y="362.56" width="6.70" height="2.44" fill="#fff" stroke="#000" stroke-width="1"/>
<rect x="291.70" y="333.32" width="7.20" height="31.68" fill="#d2d2d2" stroke="#000" stroke-width="1"/>
<rect x="299.00" y="355.25" width="6.70" height="9.75" fill="#8a8a8a" stroke="#000" stroke-width="1"/>
<rect x="311.70" y="343.07" width="7.80" height="21.93" fill="#fff" stroke="#000" stroke-width="1"/>
<rect x="319.60" y="318.70" width="6.30" height="46.30" fill="#8a8a8a" stroke="#000" stroke-width="1"/>
<rect x="326.00" y="306.52" width="7.30" height="58.48" fill="#000" stroke="#000" stroke-width="1"/>
<rect x="339.70" y="357.69" width="6.90" height="7.31" fill="#fff" stroke="#000" stroke-width="1"/>
<rect x="346.70" y="340.63" width="6.60" height="24.37" fill="#8a8a8a" stroke="#000" stroke-width="1"/>
<rect x="353.40" y="328.45" width="7.70" height="36.55" fill="#000" stroke="#000" stroke-width="1"/>
<rect x="366.70" y="357.69" width="7.40" height="7.31" fill="#fff" stroke="#000" stroke-width="1"/>
<rect x="374.20" y="284.59" width="6.60" height="80.41" fill="#8a8a8a" stroke="#000" stroke-width="1"/>
<rect x="380.90" y="279.72" width="7.40" height="85.28" fill="#000" stroke="#000" stroke-width="1"/>
<rect x="394.70" y="316.27" width="6.20" height="48.73" fill="#fff" stroke="#000" stroke-width="1"/>
<rect x="401.00" y="267.53" width="6.80" height="97.47" fill="#8a8a8a" stroke="#000" stroke-width="1"/>
<rect x="407.90" y="274.84" width="7.70" height="90.16" fill="#000" stroke="#000" stroke-width="1"/>
<rect x="421.70" y="308.96" width="6.90" height="56.04" fill="#fff" stroke="#000" stroke-width="1"/>
<rect x="428.70" y="291.90" width="7.70" height="73.10" fill="#d2d2d2" stroke="#000" stroke-width="1"/>
<rect x="436.50" y="345.51" width="7.10" height="19.49" fill="#8a8a8a" stroke="#000" stroke-width="1"/>
<rect x="449.80" y="299.21" width="6.80" height="65.79" fill="#fff" stroke="#000" stroke-width="1"/>
<rect x="456.70" y="230.98" width="7.40" height="134.02" fill="#d2d2d2" stroke="#000" stroke-width="1"/>
<rect x="469.90" y="343.07" width="6.70" height="21.93" fill="#fff" stroke="#000" stroke-width="1"/>
<rect x="476.70" y="267.53" width="8.40" height="97.47" fill="#8a8a8a" stroke="#000" stroke-width="1"/>
<rect x="491.20" y="296.77" width="6.40" height="68.23" fill="#fff" stroke="#000" stroke-width="1"/>
<rect x="497.70" y="262.66" width="7.10" height="102.34" fill="#d2d2d2" stroke="#000" stroke-width="1"/>
<text x="86.30" y="377.10" font-size="11" font-weight="bold" text-anchor="middle" fill="#000">1</text>
<text x="115.50" y="377.10" font-size="11" font-weight="bold" text-anchor="middle" fill="#000">2</text>
<text x="143.30" y="377.10" font-size="11" font-weight="bold" text-anchor="middle" fill="#000">3</text>
<text x="175.00" y="377.10" font-size="11" font-weight="bold" text-anchor="middle" fill="#000">4</text>
<text x="210.00" y="377.10" font-size="11" font-weight="bold" text-anchor="middle" fill="#000">5</text>
<text x="241.30" y="377.10" font-size="11" font-weight="bold" text-anchor="middle" fill="#000">6</text>
<text x="272.50" y="377.10" font-size="11" font-weight="bold" text-anchor="middle" fill="#000">7</text>
<text x="297.60" y="377.10" font-size="11" font-weight="bold" text-anchor="middle" fill="#000">8</text>
<text x="326.30" y="377.10" font-size="11" font-weight="bold" text-anchor="middle" fill="#000">9</text>
<text x="354.50" y="377.10" font-size="11" font-weight="bold" text-anchor="middle" fill="#000">10</text>
<text x="382.00" y="377.10" font-size="11" font-weight="bold" text-anchor="middle" fill="#000">11</text>
<text x="408.20" y="377.10" font-size="11" font-weight="bold" text-anchor="middle" fill="#000">12</text>
<text x="435.80" y="377.10" font-size="11" font-weight="bold" text-anchor="middle" fill="#000">13</text>
<text x="460.80" y="377.10" font-size="11" font-weight="bold" text-anchor="middle" fill="#000">14</text>
<text x="479.60" y="377.10" font-size="11" font-weight="bold" text-anchor="middle" fill="#000">15</text>
<text x="498.00" y="377.10" font-size="11" font-weight="bold" text-anchor="middle" fill="#000">16</text>
<text x="17.00" y="377.20" font-size="11" font-weight="bold" text-anchor="start" fill="#000">DONOR</text>
<rect x="87.3" y="224.4" width="36.3" height="31" fill="#fff" stroke="#333" stroke-width=".9"/>
<rect x="89.1" y="227.70" width="7.8" height="2.7" rx="1.3" fill="#fff" stroke="#000" stroke-width=".8"/>
<text x="100.30" y="231.90" font-size="7.9" text-anchor="start" fill="#000" textLength="19.8" lengthAdjust="spacingAndGlyphs">Day 0</text>
<rect x="89.1" y="235.00" width="7.8" height="2.7" rx="1.3" fill="#d2d2d2" stroke="#000" stroke-width=".8"/>
<text x="100.30" y="239.20" font-size="7.9" text-anchor="start" fill="#000" textLength="19.8" lengthAdjust="spacingAndGlyphs">Day 3</text>
<rect x="89.1" y="242.30" width="7.8" height="2.7" rx="1.3" fill="#8a8a8a" stroke="#000" stroke-width=".8"/>
<text x="100.30" y="246.50" font-size="7.9" text-anchor="start" fill="#000" textLength="19.8" lengthAdjust="spacingAndGlyphs">Day 4</text>
<rect x="89.1" y="249.60" width="7.8" height="2.7" rx="1.3" fill="#000" stroke="#000" stroke-width=".8"/>
<text x="100.30" y="253.80" font-size="7.9" text-anchor="start" fill="#000" textLength="19.8" lengthAdjust="spacingAndGlyphs">Day 5</text>
<text x="0" y="0" transform="translate(25.20 288.60) rotate(-90)" font-size="10.1" font-weight="bold" text-anchor="middle" fill="#000" stroke="#000" stroke-width=".28">uPAR-expressing</text>
<text x="0" y="0" transform="translate(41.20 288.00) rotate(-90)" font-size="10.4" font-weight="bold" text-anchor="middle" fill="#000" stroke="#000" stroke-width=".28">CD33<tspan dy="-3.95" font-size="6.45">+</tspan><tspan dy="3.95" font-size="10.4"> and CD14</tspan><tspan dy="-3.95" font-size="6.45">+</tspan><tspan dy="3.95" font-size="10.4"> cells (%)</tspan></text>
<text x="-0.40" y="405.50" font-size="24.4" font-weight="bold" text-anchor="start" fill="#000" stroke="#000" stroke-width=".5">C</text>
<text x="51.20" y="415.30" font-size="10.8" font-weight="bold" text-anchor="start" fill="#000">DONOR</text>
<text x="59.50" y="465.20" font-size="10.6" font-weight="bold" text-anchor="start" fill="#000">uPAR-</text>
<text x="71.50" y="529.50" font-size="10.8" font-weight="bold" text-anchor="start" fill="#000">DAY</text>
<clipPath id="cb0"><rect x="96.2" y="419.8" width="57.60000000000001" height="96.19999999999999"/></clipPath>
<rect x="96.2" y="419.8" width="57.60000000000001" height="96.19999999999999" fill="#ececec"/>
<clipPath id="cb1"><rect x="158.3" y="419.8" width="59.5" height="96.19999999999999"/></clipPath>
<rect x="158.3" y="419.8" width="59.5" height="96.19999999999999" fill="#ececec"/>
<clipPath id="cb2"><rect x="222.3" y="419.8" width="62.30000000000001" height="96.19999999999999"/></clipPath>
<rect x="222.3" y="419.8" width="62.30000000000001" height="96.19999999999999" fill="#ececec"/>
<clipPath id="cb3"><rect x="285.2" y="419.8" width="74.0" height="96.19999999999999"/></clipPath>
<rect x="285.2" y="419.8" width="74.0" height="96.19999999999999" fill="#ececec"/>
<clipPath id="cb4"><rect x="363" y="419.8" width="59.60000000000002" height="96.19999999999999"/></clipPath>
<rect x="363" y="419.8" width="59.60000000000002" height="96.19999999999999" fill="#ececec"/>
<clipPath id="cb5"><rect x="423.6" y="419.8" width="69.69999999999999" height="96.19999999999999"/></clipPath>
<rect x="423.6" y="419.8" width="69.69999999999999" height="96.19999999999999" fill="#ececec"/>
<g clip-path="url(#cb0)">
<ellipse cx="107.5" cy="454.5" rx="7.5" ry="5.0" fill="#555" fill-opacity="0.55" filter="url(#b2)"/>
<ellipse cx="107.0" cy="463.0" rx="5.0" ry="6.0" fill="#999" fill-opacity="0.3" filter="url(#b3)"/>
<linearGradient id="lg1" gradientUnits="userSpaceOnUse" x1="0" y1="442" x2="0" y2="490"><stop offset="0.000" stop-color="#000" stop-opacity="0"/><stop offset="0.135" stop-color="#000" stop-opacity="0.7"/><stop offset="0.292" stop-color="#000" stop-opacity="0.93"/><stop offset="0.615" stop-color="#000" stop-opacity="0.96"/><stop offset="0.729" stop-color="#000" stop-opacity="0.5"/><stop offset="0.875" stop-color="#000" stop-opacity="0.18"/><stop offset="1.000" stop-color="#000" stop-opacity="0"/></linearGradient>
<path d="M134.1 466.0 L134.0 470.4 L133.8 473.8 L133.5 476.8 L133.1 479.5 L132.5 481.9 L131.8 484.0 L131.1 485.8 L130.2 487.3 L129.2 488.5 L128.1 489.3 L126.8 489.8 L125.2 490.0 L123.6 489.8 L122.3 489.3 L121.2 488.5 L120.2 487.3 L119.3 485.8 L118.6 484.0 L117.9 481.9 L117.3 479.5 L116.9 476.8 L116.6 473.8 L116.4 470.4 L116.3 466.0 L116.4 461.6 L116.6 458.2 L116.9 455.2 L117.3 452.5 L117.9 450.1 L118.6 448.0 L119.3 446.2 L120.2 444.7 L121.2 443.5 L122.3 442.7 L123.6 442.2 L125.2 442.0 L126.8 442.2 L128.1 442.7 L129.2 443.5 L130.2 444.7 L131.1 446.2 L131.8 448.0 L132.5 450.1 L133.1 452.5 L133.5 455.2 L133.8 458.2 L134.0 461.6Z" fill="url(#lg1)" filter="url(#b1)"/>
<linearGradient id="lg2" gradientUnits="userSpaceOnUse" x1="0" y1="440" x2="0" y2="490"><stop offset="0.000" stop-color="#000" stop-opacity="0"/><stop offset="0.130" stop-color="#000" stop-opacity="0.75"/><stop offset="0.280" stop-color="#000" stop-opacity="0.95"/><stop offset="0.620" stop-color="#000" stop-opacity="0.96"/><stop offset="0.730" stop-color="#000" stop-opacity="0.5"/><stop offset="0.880" stop-color="#000" stop-opacity="0.18"/><stop offset="1.000" stop-color="#000" stop-opacity="0"/></linearGradient>
<path d="M151.2 465.0 L151.2 469.6 L151.0 473.1 L150.7 476.2 L150.3 479.0 L149.7 481.5 L149.1 483.7 L148.4 485.6 L147.5 487.2 L146.5 488.4 L145.5 489.3 L144.3 489.8 L142.7 490.0 L141.1 489.8 L139.9 489.3 L138.9 488.4 L137.9 487.2 L137.0 485.6 L136.3 483.7 L135.7 481.5 L135.1 479.0 L134.7 476.2 L134.4 473.1 L134.2 469.6 L134.2 465.0 L134.2 460.4 L134.4 456.9 L134.7 453.8 L135.1 451.0 L135.7 448.5 L136.3 446.3 L137.0 444.4 L137.9 442.8 L138.9 441.6 L139.9 440.7 L141.1 440.2 L142.7 440.0 L144.3 440.2 L145.5 440.7 L146.5 441.6 L147.5 442.8 L148.4 444.4 L149.1 446.3 L149.7 448.5 L150.3 451.0 L150.7 453.8 L151.0 456.9 L151.2 460.4Z" fill="url(#lg2)" filter="url(#b1)"/>
</g>
<g clip-path="url(#cb1)">
<linearGradient id="lg3" gradientUnits="userSpaceOnUse" x1="0" y1="441" x2="0" y2="472"><stop offset="0.000" stop-color="#444" stop-opacity="0"/><stop offset="0.258" stop-color="#444" stop-opacity="0.5"/><stop offset="0.516" stop-color="#444" stop-opacity="0.4"/><stop offset="0.742" stop-color="#444" stop-opacity="0.46"/><stop offset="1.000" stop-color="#444" stop-opacity="0"/></linearGradient>
<path d="M175.7 456.5 L175.6 459.3 L175.5 461.5 L175.3 463.5 L175.0 465.2 L174.7 466.7 L174.3 468.1 L173.8 469.3 L173.3 470.2 L172.7 471.0 L172.0 471.6 L171.2 471.9 L170.3 472.0 L169.3 471.9 L168.5 471.6 L167.8 471.0 L167.2 470.2 L166.7 469.3 L166.2 468.1 L165.8 466.7 L165.5 465.2 L165.2 463.5 L165.0 461.5 L164.9 459.3 L164.8 456.5 L164.9 453.7 L165.0 451.5 L165.2 449.5 L165.5 447.8 L165.8 446.3 L166.2 444.9 L166.7 443.7 L167.2 442.8 L167.8 442.0 L168.5 441.4 L169.3 441.1 L170.2 441.0 L171.2 441.1 L172.0 441.4 L172.7 442.0 L173.3 442.8 L173.8 443.7 L174.3 444.9 L174.7 446.3 L175.0 447.8 L175.3 449.5 L175.5 451.5 L175.6 453.7Z" fill="url(#lg3)" filter="url(#b2)"/>
<linearGradient id="lg4" gradientUnits="userSpaceOnUse" x1="0" y1="443" x2="0" y2="478"><stop offset="0.000" stop-color="#000" stop-opacity="0"/><stop offset="0.171" stop-color="#000" stop-opacity="0.6"/><stop offset="0.343" stop-color="#000" stop-opacity="0.86"/><stop offset="0.514" stop-color="#000" stop-opacity="0.8"/><stop offset="0.686" stop-color="#000" stop-opacity="0.5"/><stop offset="0.857" stop-color="#000" stop-opacity="0.2"/><stop offset="1.000" stop-color="#000" stop-opacity="0"/></linearGradient>
<path d="M195.8 460.5 L195.8 463.7 L195.6 466.2 L195.3 468.4 L195.0 470.3 L194.5 472.1 L194.0 473.6 L193.3 474.9 L192.6 476.0 L191.8 476.9 L190.8 477.5 L189.8 477.9 L188.5 478.0 L187.1 477.9 L186.1 477.5 L185.1 476.9 L184.3 476.0 L183.6 474.9 L182.9 473.6 L182.4 472.1 L181.9 470.3 L181.6 468.4 L181.3 466.2 L181.1 463.7 L181.1 460.5 L181.1 457.3 L181.3 454.8 L181.6 452.6 L181.9 450.7 L182.4 448.9 L182.9 447.4 L183.6 446.1 L184.3 445.0 L185.1 444.1 L186.1 443.5 L187.1 443.1 L188.4 443.0 L189.8 443.1 L190.8 443.5 L191.8 444.1 L192.6 445.0 L193.3 446.1 L194.0 447.4 L194.5 448.9 L195.0 450.7 L195.3 452.6 L195.6 454.8 L195.8 457.3Z" fill="url(#lg4)" filter="url(#b1)"/>
<linearGradient id="lg5" gradientUnits="userSpaceOnUse" x1="0" y1="440" x2="0" y2="481"><stop offset="0.000" stop-color="#000" stop-opacity="0"/><stop offset="0.146" stop-color="#000" stop-opacity="0.8"/><stop offset="0.293" stop-color="#000" stop-opacity="0.97"/><stop offset="0.561" stop-color="#000" stop-opacity="0.96"/><stop offset="0.707" stop-color="#000" stop-opacity="0.6"/><stop offset="0.878" stop-color="#000" stop-opacity="0.25"/><stop offset="1.000" stop-color="#000" stop-opacity="0"/></linearGradient>
<path d="M214.0 460.5 L214.0 464.3 L213.8 467.1 L213.5 469.7 L213.1 472.0 L212.6 474.1 L211.9 475.9 L211.2 477.4 L210.3 478.7 L209.4 479.7 L208.3 480.4 L207.1 480.9 L205.6 481.0 L204.0 480.9 L202.8 480.4 L201.7 479.7 L200.8 478.7 L199.9 477.4 L199.2 475.9 L198.5 474.1 L198.0 472.0 L197.6 469.7 L197.3 467.1 L197.1 464.3 L197.1 460.5 L197.1 456.7 L197.3 453.9 L197.6 451.3 L198.0 449.0 L198.5 446.9 L199.2 445.1 L199.9 443.6 L200.8 442.3 L201.7 441.3 L202.8 440.6 L204.0 440.1 L205.5 440.0 L207.1 440.1 L208.3 440.6 L209.4 441.3 L210.3 442.3 L211.2 443.6 L211.9 445.1 L212.6 446.9 L213.1 449.0 L213.5 451.3 L213.8 453.9 L214.0 456.7Z" fill="url(#lg5)" filter="url(#b1)"/>
</g>
<g clip-path="url(#cb2)">
<linearGradient id="lg6" gradientUnits="userSpaceOnUse" x1="0" y1="443" x2="0" y2="474"><stop offset="0.000" stop-color="#111" stop-opacity="0"/><stop offset="0.258" stop-color="#111" stop-opacity="0.45"/><stop offset="0.581" stop-color="#111" stop-opacity="0.62"/><stop offset="0.774" stop-color="#111" stop-opacity="0.45"/><stop offset="1.000" stop-color="#111" stop-opacity="0"/></linearGradient>
<path d="M241.4 458.5 L241.4 461.3 L241.2 463.5 L241.0 465.5 L240.6 467.2 L240.2 468.7 L239.6 470.1 L239.0 471.3 L238.3 472.2 L237.5 473.0 L236.6 473.6 L235.6 473.9 L234.3 474.0 L232.9 473.9 L231.9 473.6 L231.0 473.0 L230.2 472.2 L229.5 471.3 L228.9 470.1 L228.3 468.7 L227.9 467.2 L227.5 465.5 L227.3 463.5 L227.1 461.3 L227.1 458.5 L227.1 455.7 L227.3 453.5 L227.5 451.5 L227.9 449.8 L228.3 448.3 L228.9 446.9 L229.5 445.7 L230.2 444.8 L231.0 444.0 L231.9 443.4 L232.9 443.1 L234.2 443.0 L235.6 443.1 L236.6 443.4 L237.5 444.0 L238.3 444.8 L239.0 445.7 L239.6 446.9 L240.2 448.3 L240.6 449.8 L241.0 451.5 L241.2 453.5 L241.4 455.7Z" fill="url(#lg6)" filter="url(#b1)"/>
<linearGradient id="lg7" gradientUnits="userSpaceOnUse" x1="0" y1="428" x2="0" y2="485"><stop offset="0.000" stop-color="#000" stop-opacity="0"/><stop offset="0.158" stop-color="#000" stop-opacity="0.38"/><stop offset="0.316" stop-color="#000" stop-opacity="0.85"/><stop offset="0.421" stop-color="#000" stop-opacity="0.95"/><stop offset="0.772" stop-color="#000" stop-opacity="0.95"/><stop offset="0.877" stop-color="#000" stop-opacity="0.6"/><stop offset="1.000" stop-color="#000" stop-opacity="0"/></linearGradient>
<path d="M259.9 456.5 L259.9 461.7 L259.7 465.7 L259.4 469.3 L259.0 472.5 L258.5 475.3 L257.8 477.9 L257.1 480.0 L256.2 481.8 L255.3 483.2 L254.2 484.2 L253.0 484.8 L251.5 485.0 L250.0 484.8 L248.8 484.2 L247.7 483.2 L246.8 481.8 L245.9 480.0 L245.2 477.9 L244.5 475.3 L244.0 472.5 L243.6 469.3 L243.3 465.7 L243.1 461.7 L243.1 456.5 L243.1 451.3 L243.3 447.3 L243.6 443.7 L244.0 440.5 L244.5 437.7 L245.2 435.1 L245.9 433.0 L246.8 431.2 L247.7 429.8 L248.8 428.8 L250.0 428.2 L251.5 428.0 L253.0 428.2 L254.2 428.8 L255.3 429.8 L256.2 431.2 L257.1 433.0 L257.8 435.1 L258.5 437.7 L259.0 440.5 L259.4 443.7 L259.7 447.3 L259.9 451.3Z" fill="url(#lg7)" filter="url(#b1)"/>
<linearGradient id="lg8" gradientUnits="userSpaceOnUse" x1="0" y1="451.2" x2="0" y2="492"><stop offset="0.000" stop-color="#000" stop-opacity="0.92"/><stop offset="0.093" stop-color="#000" stop-opacity="0.8"/><stop offset="0.289" stop-color="#000" stop-opacity="0.7"/><stop offset="0.461" stop-color="#000" stop-opacity="0.74"/><stop offset="0.620" stop-color="#000" stop-opacity="0.76"/><stop offset="0.657" stop-color="#000" stop-opacity="0.97"/><stop offset="0.755" stop-color="#000" stop-opacity="0.97"/><stop offset="0.792" stop-color="#000" stop-opacity="0.45"/><stop offset="0.926" stop-color="#000" stop-opacity="0.25"/><stop offset="1.000" stop-color="#000" stop-opacity="0"/></linearGradient>
<rect x="261.0" y="451.2" width="16.6" height="40.8" rx="1.5" fill="url(#lg8)" filter="url(#b0)"/>
</g>
<g clip-path="url(#cb3)">
<linearGradient id="lg9" gradientUnits="userSpaceOnUse" x1="0" y1="445" x2="0" y2="473"><stop offset="0.000" stop-color="#222" stop-opacity="0"/><stop offset="0.286" stop-color="#222" stop-opacity="0.3"/><stop offset="0.536" stop-color="#222" stop-opacity="0.4"/><stop offset="0.750" stop-color="#222" stop-opacity="0.3"/><stop offset="1.000" stop-color="#222" stop-opacity="0"/></linearGradient>
<path d="M303.4 459.0 L303.4 461.6 L303.2 463.5 L302.9 465.3 L302.6 466.9 L302.1 468.3 L301.6 469.5 L300.9 470.5 L300.2 471.4 L299.3 472.1 L298.4 472.6 L297.4 472.9 L296.0 473.0 L294.6 472.9 L293.6 472.6 L292.7 472.1 L291.8 471.4 L291.1 470.5 L290.4 469.5 L289.9 468.3 L289.4 466.9 L289.1 465.3 L288.8 463.5 L288.6 461.6 L288.6 459.0 L288.6 456.4 L288.8 454.5 L289.1 452.7 L289.4 451.1 L289.9 449.7 L290.4 448.5 L291.1 447.5 L291.8 446.6 L292.7 445.9 L293.6 445.4 L294.6 445.1 L296.0 445.0 L297.4 445.1 L298.4 445.4 L299.3 445.9 L300.2 446.6 L300.9 447.5 L301.6 448.5 L302.1 449.7 L302.6 451.1 L302.9 452.7 L303.2 454.5 L303.4 456.4Z" fill="url(#lg9)" filter="url(#b2)"/>
<linearGradient id="lg10" gradientUnits="userSpaceOnUse" x1="0" y1="442" x2="0" y2="477"><stop offset="0.000" stop-color="#000" stop-opacity="0"/><stop offset="0.229" stop-color="#000" stop-opacity="0.6"/><stop offset="0.457" stop-color="#000" stop-opacity="0.82"/><stop offset="0.657" stop-color="#000" stop-opacity="0.6"/><stop offset="0.829" stop-color="#000" stop-opacity="0.3"/><stop offset="1.000" stop-color="#000" stop-opacity="0"/></linearGradient>
<path d="M321.9 459.5 L321.9 462.7 L321.7 465.2 L321.4 467.4 L321.0 469.3 L320.5 471.1 L319.9 472.6 L319.2 473.9 L318.5 475.0 L317.6 475.9 L316.6 476.5 L315.5 476.9 L314.0 477.0 L312.5 476.9 L311.4 476.5 L310.4 475.9 L309.5 475.0 L308.8 473.9 L308.1 472.6 L307.5 471.1 L307.0 469.3 L306.6 467.4 L306.3 465.2 L306.1 462.7 L306.1 459.5 L306.1 456.3 L306.3 453.8 L306.6 451.6 L307.0 449.7 L307.5 447.9 L308.1 446.4 L308.8 445.1 L309.5 444.0 L310.4 443.1 L311.4 442.5 L312.5 442.1 L314.0 442.0 L315.5 442.1 L316.6 442.5 L317.6 443.1 L318.5 444.0 L319.2 445.1 L319.9 446.4 L320.5 447.9 L321.0 449.7 L321.4 451.6 L321.7 453.8 L321.9 456.3Z" fill="url(#lg10)" filter="url(#b1)"/>
<linearGradient id="lg11" gradientUnits="userSpaceOnUse" x1="0" y1="434" x2="0" y2="483"><stop offset="0.000" stop-color="#000" stop-opacity="0"/><stop offset="0.163" stop-color="#000" stop-opacity="0.3"/><stop offset="0.265" stop-color="#000" stop-opacity="0.85"/><stop offset="0.367" stop-color="#000" stop-opacity="0.98"/><stop offset="0.653" stop-color="#000" stop-opacity="0.98"/><stop offset="0.776" stop-color="#000" stop-opacity="0.7"/><stop offset="0.898" stop-color="#000" stop-opacity="0.25"/><stop offset="1.000" stop-color="#000" stop-opacity="0"/></linearGradient>
<path d="M340.0 458.5 L339.9 463.0 L339.7 466.4 L339.4 469.5 L338.9 472.3 L338.4 474.7 L337.7 476.9 L336.9 478.7 L336.0 480.2 L335.0 481.4 L333.9 482.3 L332.6 482.8 L331.0 483.0 L329.4 482.8 L328.1 482.3 L327.0 481.4 L326.0 480.2 L325.1 478.7 L324.3 476.9 L323.6 474.7 L323.1 472.3 L322.6 469.5 L322.3 466.4 L322.1 463.0 L322.0 458.5 L322.1 454.0 L322.3 450.6 L322.6 447.5 L323.1 444.7 L323.6 442.3 L324.3 440.1 L325.1 438.3 L326.0 436.8 L327.0 435.6 L328.1 434.7 L329.4 434.2 L331.0 434.0 L332.6 434.2 L333.9 434.7 L335.0 435.6 L336.0 436.8 L336.9 438.3 L337.7 440.1 L338.4 442.3 L338.9 444.7 L339.4 447.5 L339.7 450.6 L339.9 454.0Z" fill="url(#lg11)" filter="url(#b1)"/>
<linearGradient id="lg12" gradientUnits="userSpaceOnUse" x1="0" y1="429" x2="0" y2="489"><stop offset="0.000" stop-color="#000" stop-opacity="0"/><stop offset="0.133" stop-color="#000" stop-opacity="0.3"/><stop offset="0.233" stop-color="#000" stop-opacity="0.8"/><stop offset="0.317" stop-color="#000" stop-opacity="0.98"/><stop offset="0.600" stop-color="#000" stop-opacity="0.98"/><stop offset="0.700" stop-color="#000" stop-opacity="0.75"/><stop offset="0.800" stop-color="#000" stop-opacity="0.45"/><stop offset="0.917" stop-color="#000" stop-opacity="0.2"/><stop offset="1.000" stop-color="#000" stop-opacity="0"/></linearGradient>
<path d="M357.0 459.0 L357.0 464.5 L356.8 468.7 L356.5 472.5 L356.1 475.8 L355.6 478.8 L354.9 481.5 L354.2 483.7 L353.3 485.6 L352.4 487.1 L351.3 488.1 L350.1 488.8 L348.6 489.0 L347.0 488.8 L345.8 488.1 L344.7 487.1 L343.8 485.6 L342.9 483.7 L342.2 481.5 L341.5 478.8 L341.0 475.8 L340.6 472.5 L340.3 468.7 L340.1 464.5 L340.1 459.0 L340.1 453.5 L340.3 449.3 L340.6 445.5 L341.0 442.2 L341.5 439.2 L342.2 436.5 L342.9 434.3 L343.8 432.4 L344.7 430.9 L345.8 429.9 L347.0 429.2 L348.5 429.0 L350.1 429.2 L351.3 429.9 L352.4 430.9 L353.3 432.4 L354.2 434.3 L354.9 436.5 L355.6 439.2 L356.1 442.2 L356.5 445.5 L356.8 449.3 L357.0 453.5Z" fill="url(#lg12)" filter="url(#b1)"/>
</g>
<g clip-path="url(#cb4)">
<ellipse cx="372.0" cy="449.5" rx="6.0" ry="2.0" fill="#888" fill-opacity="0.4" filter="url(#b1)"/>
<linearGradient id="lg13" gradientUnits="userSpaceOnUse" x1="0" y1="422" x2="0" y2="485"><stop offset="0.000" stop-color="#000" stop-opacity="0"/><stop offset="0.111" stop-color="#000" stop-opacity="0.35"/><stop offset="0.286" stop-color="#000" stop-opacity="0.55"/><stop offset="0.413" stop-color="#000" stop-opacity="0.85"/><stop offset="0.524" stop-color="#000" stop-opacity="0.96"/><stop offset="0.825" stop-color="#000" stop-opacity="0.96"/><stop offset="0.905" stop-color="#000" stop-opacity="0.5"/><stop offset="1.000" stop-color="#000" stop-opacity="0"/></linearGradient>
<path d="M384.9 422.0 L396.3 422.0 L398.8 450.4 L398.8 471.9 Q398.8 485.0 390.6 485.0 Q382.4 485.0 382.4 471.9 L382.4 450.4Z" fill="url(#lg13)" filter="url(#b1)"/>
<linearGradient id="lg14" gradientUnits="userSpaceOnUse" x1="0" y1="412" x2="0" y2="485"><stop offset="0.000" stop-color="#000" stop-opacity="0.2"/><stop offset="0.123" stop-color="#000" stop-opacity="0.5"/><stop offset="0.233" stop-color="#000" stop-opacity="0.85"/><stop offset="0.329" stop-color="#000" stop-opacity="0.97"/><stop offset="0.836" stop-color="#000" stop-opacity="0.97"/><stop offset="0.904" stop-color="#000" stop-opacity="0.5"/><stop offset="1.000" stop-color="#000" stop-opacity="0"/></linearGradient>
<path d="M402.8 412.0 L414.3 412.0 L416.8 444.9 L416.8 471.8 Q416.8 485.0 408.6 485.0 Q400.3 485.0 400.3 471.8 L400.3 444.9Z" fill="url(#lg14)" filter="url(#b1)"/>
</g>
<g clip-path="url(#cb5)">
<linearGradient id="lg15" gradientUnits="userSpaceOnUse" x1="0" y1="414" x2="0" y2="473"><stop offset="0.000" stop-color="#222" stop-opacity="0.1"/><stop offset="0.271" stop-color="#222" stop-opacity="0.18"/><stop offset="0.492" stop-color="#222" stop-opacity="0.3"/><stop offset="0.644" stop-color="#222" stop-opacity="0.46"/><stop offset="0.763" stop-color="#222" stop-opacity="0.32"/><stop offset="0.898" stop-color="#222" stop-opacity="0.2"/><stop offset="1.000" stop-color="#222" stop-opacity="0"/></linearGradient>
<path d="M439.5 443.5 L439.5 448.9 L439.3 453.1 L439.0 456.7 L438.7 460.1 L438.2 463.0 L437.7 465.6 L437.0 467.8 L436.3 469.7 L435.5 471.1 L434.5 472.2 L433.5 472.8 L432.2 473.0 L430.8 472.8 L429.8 472.2 L428.8 471.1 L428.0 469.7 L427.3 467.8 L426.6 465.6 L426.1 463.0 L425.6 460.1 L425.3 456.7 L425.0 453.1 L424.8 448.9 L424.8 443.5 L424.8 438.1 L425.0 433.9 L425.3 430.3 L425.6 426.9 L426.1 424.0 L426.6 421.4 L427.3 419.2 L428.0 417.3 L428.8 415.9 L429.8 414.8 L430.8 414.2 L432.1 414.0 L433.5 414.2 L434.5 414.8 L435.5 415.9 L436.3 417.3 L437.0 419.2 L437.7 421.4 L438.2 424.0 L438.7 426.9 L439.0 430.3 L439.3 433.9 L439.5 438.1Z" fill="url(#lg15)" filter="url(#b2)"/>
<linearGradient id="lg16" gradientUnits="userSpaceOnUse" x1="0" y1="414" x2="0" y2="479"><stop offset="0.000" stop-color="#000" stop-opacity="0.12"/><stop offset="0.200" stop-color="#000" stop-opacity="0.32"/><stop offset="0.338" stop-color="#000" stop-opacity="0.62"/><stop offset="0.446" stop-color="#000" stop-opacity="0.96"/><stop offset="0.862" stop-color="#000" stop-opacity="0.97"/><stop offset="0.923" stop-color="#000" stop-opacity="0.6"/><stop offset="1.000" stop-color="#000" stop-opacity="0"/></linearGradient>
<path d="M443.1 414.0 L455.2 414.0 L457.7 443.2 L457.7 465.3 Q457.7 479.0 449.1 479.0 Q440.6 479.0 440.6 465.3 L440.6 443.2Z" fill="url(#lg16)" filter="url(#b1)"/>
<linearGradient id="lg17" gradientUnits="userSpaceOnUse" x1="0" y1="416" x2="0" y2="478"><stop offset="0.000" stop-color="#000" stop-opacity="0.1"/><stop offset="0.242" stop-color="#000" stop-opacity="0.4"/><stop offset="0.387" stop-color="#000" stop-opacity="0.7"/><stop offset="0.500" stop-color="#000" stop-opacity="0.96"/><stop offset="0.855" stop-color="#000" stop-opacity="0.97"/><stop offset="0.919" stop-color="#000" stop-opacity="0.6"/><stop offset="1.000" stop-color="#000" stop-opacity="0"/></linearGradient>
<path d="M460.8 416.0 L472.2 416.0 L474.7 443.9 L474.7 464.9 Q474.7 478.0 466.5 478.0 Q458.3 478.0 458.3 464.9 L458.3 443.9Z" fill="url(#lg17)" filter="url(#b1)"/>
<linearGradient id="lg18" gradientUnits="userSpaceOnUse" x1="0" y1="414" x2="0" y2="491"><stop offset="0.000" stop-color="#000" stop-opacity="0.2"/><stop offset="0.143" stop-color="#000" stop-opacity="0.5"/><stop offset="0.247" stop-color="#000" stop-opacity="0.8"/><stop offset="0.325" stop-color="#000" stop-opacity="0.97"/><stop offset="0.818" stop-color="#000" stop-opacity="0.97"/><stop offset="0.870" stop-color="#000" stop-opacity="0.6"/><stop offset="0.922" stop-color="#000" stop-opacity="0.2"/><stop offset="1.000" stop-color="#000" stop-opacity="0"/></linearGradient>
<path d="M478.6 414.0 L490.3 414.0 L492.8 448.6 L492.8 477.6 Q492.8 491.0 484.5 491.0 Q476.1 491.0 476.1 477.6 L476.1 448.6Z" fill="url(#lg18)" filter="url(#b1)"/>
<ellipse cx="433.4" cy="462.0" rx="2.6" ry="2.6" fill="#fff" fill-opacity="0.95" filter="url(#b0)"/>
<ellipse cx="487.4" cy="479.6" rx="3.0" ry="1.6" fill="#fff" fill-opacity="0.85" filter="url(#b0)"/>
</g>
<text x="124.60" y="415.30" font-size="10.8" font-weight="bold" text-anchor="middle" fill="#000">1</text>
<text x="184.60" y="415.30" font-size="10.8" font-weight="bold" text-anchor="middle" fill="#000">3</text>
<text x="251.50" y="415.30" font-size="10.8" font-weight="bold" text-anchor="middle" fill="#000">6</text>
<text x="320.00" y="415.30" font-size="10.8" font-weight="bold" text-anchor="middle" fill="#000">10</text>
<text x="392.30" y="415.30" font-size="10.8" font-weight="bold" text-anchor="middle" fill="#000">12</text>
<text x="458.50" y="415.30" font-size="10.8" font-weight="bold" text-anchor="middle" fill="#000">14</text>
<text x="105.50" y="529.50" font-size="10.8" font-weight="bold" text-anchor="middle" fill="#000">0</text>
<text x="126.30" y="529.50" font-size="10.8" font-weight="bold" text-anchor="middle" fill="#000">4</text>
<text x="147.00" y="529.50" font-size="10.8" font-weight="bold" text-anchor="middle" fill="#000">5</text>
<text x="168.40" y="529.50" font-size="10.8" font-weight="bold" text-anchor="middle" fill="#000">0</text>
<text x="188.60" y="529.50" font-size="10.8" font-weight="bold" text-anchor="middle" fill="#000">4</text>
<text x="207.60" y="529.50" font-size="10.8" font-weight="bold" text-anchor="middle" fill="#000">5</text>
<text x="235.10" y="529.50" font-size="10.8" font-weight="bold" text-anchor="middle" fill="#000">0</text>
<text x="252.50" y="529.50" font-size="10.8" font-weight="bold" text-anchor="middle" fill="#000">4</text>
<text x="273.70" y="529.50" font-size="10.8" font-weight="bold" text-anchor="middle" fill="#000">5</text>
<text x="294.60" y="529.50" font-size="10.8" font-weight="bold" text-anchor="middle" fill="#000">0</text>
<text x="313.70" y="529.50" font-size="10.8" font-weight="bold" text-anchor="middle" fill="#000">3</text>
<text x="331.50" y="529.50" font-size="10.8" font-weight="bold" text-anchor="middle" fill="#000">4</text>
<text x="349.00" y="529.50" font-size="10.8" font-weight="bold" text-anchor="middle" fill="#000">5</text>
<text x="370.80" y="529.50" font-size="10.8" font-weight="bold" text-anchor="middle" fill="#000">0</text>
<text x="390.80" y="529.50" font-size="10.8" font-weight="bold" text-anchor="middle" fill="#000">4</text>
<text x="409.20" y="529.50" font-size="10.8" font-weight="bold" text-anchor="middle" fill="#000">5</text>
<text x="433.00" y="529.50" font-size="10.8" font-weight="bold" text-anchor="middle" fill="#000">0</text>
<text x="450.80" y="529.50" font-size="10.8" font-weight="bold" text-anchor="middle" fill="#000">3</text>
<text x="466.20" y="529.50" font-size="10.8" font-weight="bold" text-anchor="middle" fill="#000">4</text>
<text x="483.70" y="529.50" font-size="10.8" font-weight="bold" text-anchor="middle" fill="#000">5</text>
</svg>
</body></html>
